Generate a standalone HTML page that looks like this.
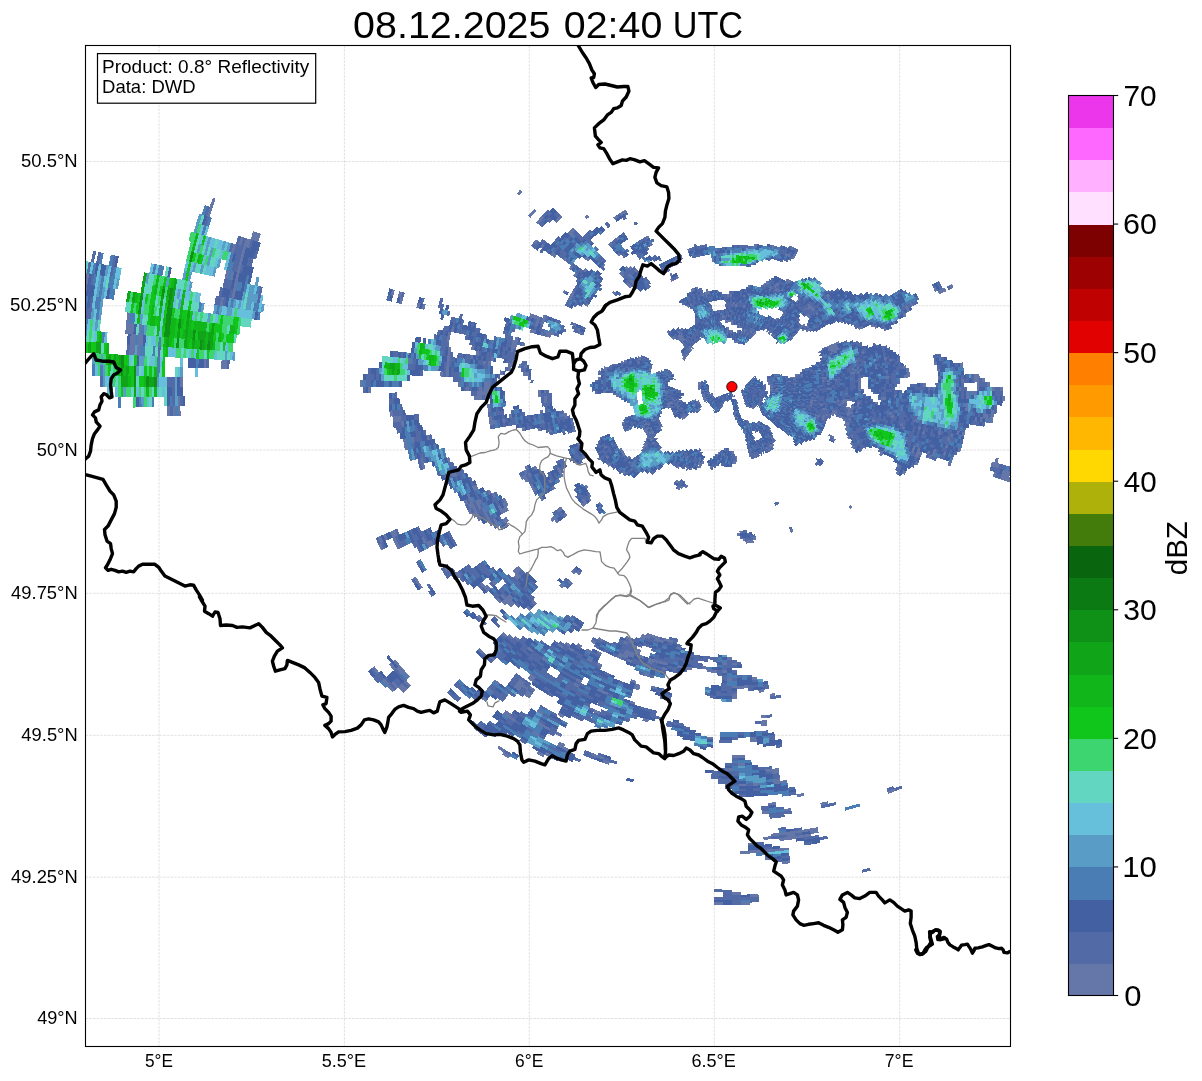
<!DOCTYPE html>
<html><head><meta charset="utf-8"><title>Radar</title>
<style>
html,body{margin:0;padding:0;background:#fff}
body{width:1202px;height:1081px;overflow:hidden}
svg{display:block;will-change:transform;opacity:.999}
text{font-family:"Liberation Sans",sans-serif;fill:#000}
</style></head><body>
<svg width="1202" height="1081" viewBox="0 0 1202 1081">
<rect x="0" y="0" width="1202" height="1081" fill="#fff"/>
<defs><clipPath id="ax"><rect x="85.5" y="45.5" width="925" height="1001"/></clipPath></defs>
<g clip-path="url(#ax)">
<g stroke="#b0b0b0" stroke-opacity="0.55" stroke-width="0.7" stroke-dasharray="2.6,1.1" fill="none">
<line x1="159" y1="45.5" x2="159" y2="1046.5"/>
<line x1="344.4" y1="45.5" x2="344.4" y2="1046.5"/>
<line x1="529.3" y1="45.5" x2="529.3" y2="1046.5"/>
<line x1="714.3" y1="45.5" x2="714.3" y2="1046.5"/>
<line x1="899.7" y1="45.5" x2="899.7" y2="1046.5"/>
<line x1="85.5" y1="161.5" x2="1010.5" y2="161.5"/>
<line x1="85.5" y1="305.8" x2="1010.5" y2="305.8"/>
<line x1="85.5" y1="450" x2="1010.5" y2="450"/>
<line x1="85.5" y1="593.3" x2="1010.5" y2="593.3"/>
<line x1="85.5" y1="735.3" x2="1010.5" y2="735.3"/>
<line x1="85.5" y1="877.2" x2="1010.5" y2="877.2"/>
<line x1="85.5" y1="1018.5" x2="1010.5" y2="1018.5"/>
</g>
<g id="echo" shape-rendering="crispEdges">
<g transform="translate(731.9,386.7)" fill="none" stroke-width="2.98">
<g transform="rotate(203)">
<circle pathLength="360" r="6.45" stroke="#526AA5" stroke-dasharray="5 1 5 1 4 2 2 1 2 1 1 5 1 329" stroke-dashoffset="-242"/>
<circle pathLength="360" r="6.45" stroke="#4360A3" stroke-dasharray="1 5 1 4 2 5 1 1 2 2 1 335" stroke-dashoffset="-247"/>
<circle pathLength="360" r="6.45" stroke="#6577A8" stroke-dasharray="1 7 1 351" stroke-dashoffset="-262"/>
<circle pathLength="360" r="6.45" stroke="#4B7DB5" stroke-dasharray="1 359" stroke-dashoffset="-269"/>
<circle pathLength="360" r="9.03" stroke="#526AA5" stroke-dasharray="4 3 1 3 3 4 2 1 2 10 1 5 1 2 1 2 1 6 2 3 1 302" stroke-dashoffset="-230"/>
<circle pathLength="360" r="9.03" stroke="#4360A3" stroke-dasharray="3 3 4 2 1 2 4 1 5 1 4 2 2 1 2 1 2 2 2 2 1 1 1 311" stroke-dashoffset="-238"/>
<circle pathLength="360" r="9.03" stroke="#4B7DB5" stroke-dasharray="1 10 1 9 1 338" stroke-dashoffset="-257"/>
<circle pathLength="360" r="9.03" stroke="#6577A8" stroke-dasharray="1 5 1 353" stroke-dashoffset="-279"/>
<circle pathLength="360" r="11.61" stroke="#6577A8" stroke-dasharray="1 119 1 239" stroke-dashoffset="-171"/>
<circle pathLength="360" r="11.61" stroke="#526AA5" stroke-dasharray="1 1 2 1 8 2 2 1 1 54 1 15 2 5 1 7 1 9 1 2 1 3 2 237" stroke-dashoffset="-172"/>
<circle pathLength="360" r="11.61" stroke="#4B7DB5" stroke-dasharray="1 76 3 2 1 15 1 1 2 3 2 253" stroke-dashoffset="-173"/>
<circle pathLength="360" r="11.61" stroke="#4360A3" stroke-dasharray="1 8 2 2 1 54 1 1 4 3 2 1 5 2 5 1 2 1 1 2 1 1 1 2 6 1 2 1 1 1 1 243" stroke-dashoffset="-176"/>
<circle pathLength="360" r="14.19" stroke="#526AA5" stroke-dasharray="1 2 3 1 6 4 1 7 2 13 1 1 1 4 4 29 1 1 2 1 1 7 1 3 2 13 1 2 2 1 3 1 4 4 3 1 4 1 2 3 4 2 1 209" stroke-dashoffset="-148"/>
<circle pathLength="360" r="14.19" stroke="#4360A3" stroke-dasharray="1 4 1 6 2 3 3 1 1 4 4 1 3 1 1 1 1 4 2 39 1 1 7 1 3 2 2 13 1 2 1 3 1 4 4 3 1 7 3 4 1 212" stroke-dashoffset="-149"/>
<circle pathLength="360" r="14.19" stroke="#6577A8" stroke-dasharray="1 42 2 34 1 31 1 24 1 10 1 212" stroke-dashoffset="-150"/>
<circle pathLength="360" r="14.19" stroke="#4B7DB5" stroke-dasharray="2 4 1 1 2 6 1 3 1 1 1 1 1 1 1 333" stroke-dashoffset="-163"/>
<circle pathLength="360" r="16.77" stroke="#526AA5" stroke-dasharray="2 8 1 2 1 2 1 1 1 5 1 1 1 1 1 1 2 5 1 1 1 1 3 3 1 1 1 1 1 2 5 1 1 26 2 5 1 1 1 1 1 1 2 1 1 1 1 27 3 2 2 1 1 2 2 2 1 2 2 4 1 202" stroke-dashoffset="-142"/>
<circle pathLength="360" r="16.77" stroke="#4360A3" stroke-dasharray="1 1 4 3 2 2 1 1 1 1 2 2 1 1 1 3 1 2 5 1 1 5 1 1 1 1 1 1 1 1 2 31 1 4 3 4 1 1 1 2 1 1 1 31 2 4 1 3 2 1 2 211" stroke-dashoffset="-144"/>
<circle pathLength="360" r="16.77" stroke="#6577A8" stroke-dasharray="1 4 1 12 2 4 1 58 1 44 2 20 4 1 1 204" stroke-dashoffset="-145"/>
<circle pathLength="360" r="16.77" stroke="#4B7DB5" stroke-dasharray="1 4 1 25 1 4 1 13 1 29 1 3 1 1 1 44 1 2 1 225" stroke-dashoffset="-151"/>
<circle pathLength="360" r="19.35" stroke="#4360A3" stroke-dasharray="1 2 1 4 1 1 2 1 1 1 4 3 5 3 1 2 4 1 4 2 6 1 4 1 4 1 1 1 2 2 2 23 8 1 1 1 1 1 2 29 1 5 1 1 8 1 4 1 2 1 4 195" stroke-dashoffset="-138"/>
<circle pathLength="360" r="19.35" stroke="#526AA5" stroke-dasharray="1 3 2 2 1 4 1 6 1 5 3 1 2 9 1 19 1 2 1 38 1 32 1 1 3 1 1 8 1 4 1 2 1 200" stroke-dashoffset="-139"/>
<circle pathLength="360" r="19.35" stroke="#4B7DB5" stroke-dasharray="1 1 1 2 1 4 1 6 2 16 1 5 1 6 1 4 1 4 1 39 1 1 1 259" stroke-dashoffset="-140"/>
<circle pathLength="360" r="19.35" stroke="#6577A8" stroke-dasharray="1 68 1 2 1 287" stroke-dashoffset="-204"/>
<circle pathLength="360" r="21.93" stroke="#4B7DB5" stroke-dasharray="1 1 1 1 1 1 1 3 1 4 1 38 1 4 1 5 1 29 1 264" stroke-dashoffset="-135"/>
<circle pathLength="360" r="21.93" stroke="#4360A3" stroke-dasharray="1 5 2 2 3 2 3 1 4 1 1 1 1 1 1 2 2 1 1 1 1 1 1 1 1 1 4 1 6 1 3 3 1 1 2 2 1 2 1 2 1 23 2 1 1 1 2 3 1 35 1 1 1 2 1 1 2 1 2 1 4 1 1 2 4 193" stroke-dashoffset="-136"/>
<circle pathLength="360" r="21.93" stroke="#526AA5" stroke-dasharray="1 1 1 3 1 4 1 4 1 4 1 1 1 1 1 1 2 2 1 1 1 1 1 1 1 1 1 4 1 10 1 1 1 1 1 3 1 1 2 1 2 21 1 1 1 2 1 1 1 2 3 1 2 28 1 1 3 1 1 1 2 1 1 2 1 2 1 4 1 1 2 4 4 1 4 1 1 1 1 2 1 179" stroke-dashoffset="-138"/>
<circle pathLength="360" r="21.93" stroke="#6577A8" stroke-dasharray="2 61 1 1 1 32 1 4 1 1 1 1 2 251" stroke-dashoffset="-209"/>
<circle pathLength="360" r="24.51" stroke="#526AA5" stroke-dasharray="2 1 2 1 2 11 2 8 7 1 3 1 4 4 1 1 2 2 3 5 1 2 1 2 1 1 2 3 3 21 1 5 1 2 1 32 1 2 4 4 3 1 2 1 1 6 2 1 3 1 3 2 8 3 2 2 6 3 1 2 1 1 1 151" stroke-dashoffset="-132"/>
<circle pathLength="360" r="24.51" stroke="#4360A3" stroke-dasharray="1 2 3 1 1 3 3 2 1 1 5 8 1 3 1 4 1 2 1 1 1 2 1 4 1 1 3 1 2 1 2 1 1 2 2 24 1 1 1 1 1 1 1 2 1 34 2 4 4 3 1 2 1 2 1 6 1 7 2 8 1 4 2 6 3 1 2 1 1 1 1 155" stroke-dashoffset="-137"/>
<circle pathLength="360" r="24.51" stroke="#4B7DB5" stroke-dasharray="1 1 3 38 1 4 1 42 1 1 1 2 1 53 1 1 4 6 1 197" stroke-dashoffset="-143"/>
<circle pathLength="360" r="24.51" stroke="#6577A8" stroke-dasharray="1 5 1 17 2 27 1 34 1 77 2 192" stroke-dashoffset="-154"/>
<circle pathLength="360" r="27.09" stroke="#4B7DB5" stroke-dasharray="1 1 1 1 2 2 2 1 1 1 1 1 3 2 1 19 1 1 1 5 2 1 1 3 1 35 1 1 2 1 2 39 1 1 1 1 3 3 1 6 1 8 1 3 1 3 1 11 1 2 1 3 1 2 2 2 1 1 1 2 2 1 1 154" stroke-dashoffset="-142"/>
<circle pathLength="360" r="27.09" stroke="#526AA5" stroke-dasharray="1 20 1 2 1 4 1 3 3 17 1 1 2 1 1 39 3 38 1 5 1 9 1 1 2 1 1 3 2 5 1 2 2 2 1 2 1 5 1 17 1 154" stroke-dashoffset="-143"/>
<circle pathLength="360" r="27.09" stroke="#4360A3" stroke-dasharray="1 2 1 3 1 1 1 1 1 3 2 1 1 1 2 1 4 1 3 3 3 1 1 1 5 2 1 1 2 4 1 1 2 2 1 24 2 1 1 2 1 2 1 33 3 1 1 1 1 5 2 2 4 1 1 1 1 1 1 2 1 1 1 1 1 3 3 2 2 2 2 1 2 2 2 1 1 1 1 1 2 2 2 1 1 1 2 2 1 158" stroke-dashoffset="-145"/>
<circle pathLength="360" r="27.09" stroke="#599DC7" stroke-dasharray="1 127 1 231" stroke-dashoffset="-149"/>
<circle pathLength="360" r="27.09" stroke="#6577A8" stroke-dasharray="2 88 1 54 1 214" stroke-dashoffset="-204"/>
<circle pathLength="360" r="29.67" stroke="#4B7DB5" stroke-dasharray="1 1 1 188 1 1 1 166" stroke-dashoffset="-147"/>
<circle pathLength="360" r="29.67" stroke="#4360A3" stroke-dasharray="1 1 12 1 1 12 2 4 1 1 1 1 4 1 2 39 1 1 4 1 1 38 1 2 2 42 1 5 1 1 5 1 1 2 1 2 1 162" stroke-dashoffset="-148"/>
<circle pathLength="360" r="29.67" stroke="#526AA5" stroke-dasharray="1 1 1 1 10 2 4 1 1 1 1 4 1 2 4 1 2 30 2 1 1 4 1 38 1 1 2 24 1 11 1 4 3 1 3 1 1 1 1 8 1 1 2 1 1 175" stroke-dashoffset="-162"/>
<circle pathLength="360" r="29.67" stroke="#6577A8" stroke-dasharray="1 31 1 2 4 36 2 42 1 22 10 1 4 7 1 195" stroke-dashoffset="-165"/>
<circle pathLength="360" r="32.25" stroke="#6577A8" stroke-dasharray="1 25 1 9 1 46 1 95 1 2 1 3 7 167" stroke-dashoffset="-153"/>
<circle pathLength="360" r="32.25" stroke="#526AA5" stroke-dasharray="5 1 2 1 1 1 3 1 3 1 3 2 1 1 2 1 4 1 1 1 3 1 1 35 1 6 4 92 2 1 3 175" stroke-dashoffset="-154"/>
<circle pathLength="360" r="32.25" stroke="#4360A3" stroke-dasharray="1 2 1 1 1 3 1 3 1 3 2 4 1 4 1 43 5 283" stroke-dashoffset="-159"/>
<circle pathLength="360" r="34.83" stroke="#526AA5" stroke-dasharray="1 1 2 2 1 1 1 1 1 14 1 37 1 9 2 285" stroke-dashoffset="-164"/>
<circle pathLength="360" r="34.83" stroke="#4360A3" stroke-dasharray="1 2 2 1 1 1 1 4 1 5 5 1 1 1 1 36 4 1 2 289" stroke-dashoffset="-165"/>
<circle pathLength="360" r="34.83" stroke="#4B7DB5" stroke-dasharray="1 41 1 2 1 314" stroke-dashoffset="-191"/>
<circle pathLength="360" r="34.83" stroke="#6577A8" stroke-dasharray="2 358" stroke-dashoffset="-193"/>
<circle pathLength="360" r="37.41" stroke="#526AA5" stroke-dasharray="1 1 3 1 1 25 1 21 2 29 2 1 1 5 2 68 6 3 1 186" stroke-dashoffset="-141"/>
<circle pathLength="360" r="37.41" stroke="#4360A3" stroke-dasharray="1 29 1 17 5 29 2 2 1 1 2 1 1 3 1 264" stroke-dashoffset="-142"/>
<circle pathLength="360" r="37.41" stroke="#6577A8" stroke-dasharray="1 1 6 68 2 79 2 6 3 192" stroke-dashoffset="-146"/>
<circle pathLength="360" r="37.41" stroke="#599DC7" stroke-dasharray="1 2 1 1 3 2 1 3 1 345" stroke-dashoffset="-174"/>
<circle pathLength="360" r="37.41" stroke="#4B7DB5" stroke-dasharray="2 5 2 1 3 1 1 42 1 1 1 300" stroke-dashoffset="-175"/>
<circle pathLength="360" r="37.41" stroke="#67C0DB" stroke-dasharray="1 359" stroke-dashoffset="-178"/>
<circle pathLength="360" r="39.99" stroke="#4360A3" stroke-dasharray="1 1 1 10 1 10 1 2 3 21 2 1 2 26 1 2 3 1 2 1 3 68 1 1 2 1 1 4 1 186" stroke-dashoffset="-141"/>
<circle pathLength="360" r="39.99" stroke="#526AA5" stroke-dasharray="1 1 9 2 1 3 2 2 2 1 2 29 2 22 2 1 2 3 1 70 1 4 1 2 1 1 4 1 1 186" stroke-dashoffset="-142"/>
<circle pathLength="360" r="39.99" stroke="#6577A8" stroke-dasharray="1 2 3 2 2 138 3 12 2 195" stroke-dashoffset="-153"/>
<circle pathLength="360" r="39.99" stroke="#4B7DB5" stroke-dasharray="3 10 1 1 1 3 2 2 1 37 1 298" stroke-dashoffset="-171"/>
<circle pathLength="360" r="39.99" stroke="#67C0DB" stroke-dasharray="1 2 4 1 2 1 1 2 1 345" stroke-dashoffset="-174"/>
<circle pathLength="360" r="39.99" stroke="#599DC7" stroke-dasharray="1 5 1 5 1 1 1 345" stroke-dashoffset="-175"/>
<circle pathLength="360" r="39.99" stroke="#63D6C2" stroke-dasharray="1 359" stroke-dashoffset="-176"/>
<circle pathLength="360" r="42.57" stroke="#526AA5" stroke-dasharray="1 3 1 10 3 2 1 55 1 9 1 73 1 199" stroke-dashoffset="-140"/>
<circle pathLength="360" r="42.57" stroke="#4360A3" stroke-dasharray="3 2 1 3 5 3 2 1 2 1 1 2 1 28 1 1 2 14 1 2 1 1 1 2 1 8 2 68 1 3 1 1 1 5 1 3 1 183" stroke-dashoffset="-141"/>
<circle pathLength="360" r="42.57" stroke="#4B7DB5" stroke-dasharray="1 1 3 13 1 1 1 2 1 22 5 1 1 17 1 2 1 1 1 2 3 1 2 1 1 2 1 68 3 1 1 1 2 2 1 1 3 188" stroke-dashoffset="-145"/>
<circle pathLength="360" r="42.57" stroke="#599DC7" stroke-dasharray="1 2 1 51 1 7 1 4 1 75 2 214" stroke-dashoffset="-166"/>
<circle pathLength="360" r="42.57" stroke="#67C0DB" stroke-dasharray="2 3 1 1 1 4 1 6 1 340" stroke-dashoffset="-170"/>
<circle pathLength="360" r="42.57" stroke="#63D6C2" stroke-dasharray="3 1 1 1 1 1 2 1 1 1 4 1 1 341" stroke-dashoffset="-172"/>
<circle pathLength="360" r="42.57" stroke="#3DD56F" stroke-dasharray="1 4 1 354" stroke-dashoffset="-179"/>
<circle pathLength="360" r="45.15" stroke="#599DC7" stroke-dasharray="3 110 2 5 1 3 1 7 2 226" stroke-dashoffset="-55"/>
<circle pathLength="360" r="45.15" stroke="#67C0DB" stroke-dasharray="1 111 5 3 1 1 2 1 1 1 2 231" stroke-dashoffset="-58"/>
<circle pathLength="360" r="45.15" stroke="#4B7DB5" stroke-dasharray="1 18 1 73 1 14 1 53 1 86 1 110" stroke-dashoffset="-59"/>
<circle pathLength="360" r="45.15" stroke="#6577A8" stroke-dasharray="3 1 1 67 1 16 2 1 1 48 2 11 1 77 1 127" stroke-dashoffset="-70"/>
<circle pathLength="360" r="45.15" stroke="#526AA5" stroke-dasharray="1 1 2 2 1 2 2 57 1 1 3 2 1 1 1 2 1 1 1 1 1 3 1 1 1 26 2 4 1 1 1 9 3 4 2 1 1 1 1 4 1 2 5 70 4 8 1 117" stroke-dashoffset="-73"/>
<circle pathLength="360" r="45.15" stroke="#4360A3" stroke-dasharray="1 2 2 64 2 1 1 1 1 2 1 1 1 1 1 5 3 22 1 2 4 1 1 15 2 2 1 1 1 2 2 2 2 79 1 1 6 1 1 120" stroke-dashoffset="-77"/>
<circle pathLength="360" r="45.15" stroke="#63D6C2" stroke-dasharray="2 4 1 1 1 351" stroke-dashoffset="-176"/>
<circle pathLength="360" r="47.73" stroke="#67C0DB" stroke-dasharray="1 17 1 18 1 89 1 1 1 2 2 8 1 1 2 7 1 206" stroke-dashoffset="-42"/>
<circle pathLength="360" r="47.73" stroke="#3DD56F" stroke-dasharray="1 1 1 1 3 3 2 2 1 115 1 5 1 223" stroke-dashoffset="-43"/>
<circle pathLength="360" r="47.73" stroke="#63D6C2" stroke-dasharray="1 3 3 2 2 1 2 108 1 1 1 1 1 3 1 1 1 1 4 1 1 220" stroke-dashoffset="-46"/>
<circle pathLength="360" r="47.73" stroke="#526AA5" stroke-dasharray="1 3 1 147 1 12 1 194" stroke-dashoffset="-67"/>
<circle pathLength="360" r="47.73" stroke="#4360A3" stroke-dasharray="3 1 1 2 1 68 1 6 1 2 1 2 2 1 2 32 1 2 2 8 3 2 2 2 3 1 2 1 1 2 3 75 3 7 2 112" stroke-dashoffset="-68"/>
<circle pathLength="360" r="47.73" stroke="#4B7DB5" stroke-dasharray="1 4 1 2 1 1 1 1 1 56 2 5 2 1 2 1 2 2 1 2 1 1 1 26 3 2 1 13 2 2 2 6 1 1 2 3 3 76 2 1 2 120" stroke-dashoffset="-73"/>
<circle pathLength="360" r="47.73" stroke="#599DC7" stroke-dasharray="1 1 2 2 1 1 1 1 1 60 4 14 1 1 3 9 1 10 3 116 1 2 1 2 1 120" stroke-dashoffset="-74"/>
<circle pathLength="360" r="50.31" stroke="#599DC7" stroke-dasharray="1 21 2 21 1 73 1 8 2 1 1 1 8 1 1 2 1 1 2 1 1 209" stroke-dashoffset="-37"/>
<circle pathLength="360" r="50.31" stroke="#63D6C2" stroke-dasharray="1 1 4 5 1 3 3 1 1 122 1 217" stroke-dashoffset="-38"/>
<circle pathLength="360" r="50.31" stroke="#67C0DB" stroke-dasharray="1 16 1 1 1 108 1 10 1 2 1 1 1 2 1 212" stroke-dashoffset="-39"/>
<circle pathLength="360" r="50.31" stroke="#11C61B" stroke-dasharray="1 6 2 351" stroke-dashoffset="-44"/>
<circle pathLength="360" r="50.31" stroke="#3DD56F" stroke-dasharray="4 1 1 354" stroke-dashoffset="-45"/>
<circle pathLength="360" r="50.31" stroke="#4360A3" stroke-dasharray="1 1 3 1 1 1 2 1 3 2 1 5 1 1 2 65 1 1 2 2 2 4 1 23 3 5 1 1 1 8 1 2 4 2 2 5 1 1 2 1 3 80 7 9 3 91" stroke-dashoffset="-61"/>
<circle pathLength="360" r="50.31" stroke="#526AA5" stroke-dasharray="1 3 1 1 1 2 1 4 1 66 1 51 1 1 1 8 1 7 2 3 1 4 1 2 1 80 1 9 1 103" stroke-dashoffset="-62"/>
<circle pathLength="360" r="50.31" stroke="#4B7DB5" stroke-dasharray="1 2 4 2 1 59 8 1 1 3 1 2 4 5 1 21 4 13 2 96 2 1 2 15 1 108" stroke-dashoffset="-75"/>
<circle pathLength="360" r="50.31" stroke="#6577A8" stroke-dasharray="1 12 1 346" stroke-dashoffset="-218"/>
<circle pathLength="360" r="52.89" stroke="#599DC7" stroke-dasharray="2 18 3 118 1 5 1 212" stroke-dashoffset="-37"/>
<circle pathLength="360" r="52.89" stroke="#67C0DB" stroke-dasharray="1 16 1 126 1 215" stroke-dashoffset="-39"/>
<circle pathLength="360" r="52.89" stroke="#63D6C2" stroke-dasharray="3 4 1 4 4 344" stroke-dashoffset="-40"/>
<circle pathLength="360" r="52.89" stroke="#3DD56F" stroke-dasharray="3 2 4 351" stroke-dashoffset="-43"/>
<circle pathLength="360" r="52.89" stroke="#11C61B" stroke-dasharray="1 359" stroke-dashoffset="-46"/>
<circle pathLength="360" r="52.89" stroke="#4360A3" stroke-dasharray="1 2 2 1 2 2 1 1 2 1 1 2 1 1 1 3 2 60 1 1 7 2 1 1 1 1 4 1 2 2 2 3 1 1 1 8 2 1 2 1 6 7 2 3 2 1 2 9 4 1 2 75 3 2 4 1 2 1 1 4 2 2 2 90" stroke-dashoffset="-60"/>
<circle pathLength="360" r="52.89" stroke="#4B7DB5" stroke-dasharray="1 93 1 2 1 1 1 4 1 2 2 2 3 1 1 2 4 2 1 2 1 20 1 18 1 192" stroke-dashoffset="-61"/>
<circle pathLength="360" r="52.89" stroke="#6577A8" stroke-dasharray="1 141 1 26 1 88 1 11 1 89" stroke-dashoffset="-62"/>
<circle pathLength="360" r="52.89" stroke="#526AA5" stroke-dasharray="1 2 2 1 1 2 1 1 2 1 1 1 3 2 3 56 1 1 1 8 1 34 1 6 1 8 2 3 1 2 1 88 2 3 2 4 1 2 1 2 1 4 2 2 2 93" stroke-dashoffset="-65"/>
<circle pathLength="360" r="55.47" stroke="#6577A8" stroke-dasharray="4 1 2 4 3 1 1 40 1 2 2 5 1 3 2 2 1 2 1 5 1 71 1 36 1 5 1 18 1 8 1 70 2 1 1 6 1 7 1 12 1 31" stroke-dashoffset="-6"/>
<circle pathLength="360" r="55.47" stroke="#526AA5" stroke-dasharray="1 2 4 43 2 1 2 2 1 5 2 3 2 2 1 1 5 57 4 1 4 2 1 2 1 13 1 2 1 2 1 3 1 2 2 1 2 2 1 10 1 1 1 4 1 1 2 10 1 1 2 75 1 1 5 2 1 1 3 3 3 5 2 1 1 36" stroke-dashoffset="-10"/>
<circle pathLength="360" r="55.47" stroke="#4B7DB5" stroke-dasharray="3 128 4 1 1 2 1 19 1 200" stroke-dashoffset="-37"/>
<circle pathLength="360" r="55.47" stroke="#67C0DB" stroke-dasharray="1 11 1 4 1 342" stroke-dashoffset="-40"/>
<circle pathLength="360" r="55.47" stroke="#63D6C2" stroke-dasharray="11 1 1 347" stroke-dashoffset="-41"/>
<circle pathLength="360" r="55.47" stroke="#599DC7" stroke-dasharray="3 1 1 355" stroke-dashoffset="-54"/>
<circle pathLength="360" r="55.47" stroke="#4360A3" stroke-dasharray="1 15 1 5 1 68 1 4 2 1 2 2 6 4 1 2 1 2 2 1 3 1 2 2 1 2 2 1 1 1 1 8 1 1 4 1 1 10 2 1 1 2 2 80 1 2 1 3 2 4 5 2 1 86" stroke-dashoffset="-59"/>
<circle pathLength="360" r="58.05" stroke="#6577A8" stroke-dasharray="1 7 1 1 2 12 1 1 1 26 2 15 2 4 2 2 2 60 1 53 1 23 1 73 3 10 1 2 1 3 1 45" stroke-dashoffset="-9"/>
<circle pathLength="360" r="58.05" stroke="#526AA5" stroke-dasharray="7 4 2 1 7 1 1 3 1 40 2 2 4 2 2 61 1 1 1 2 2 2 1 3 1 16 1 1 1 2 1 3 2 5 1 1 1 7 2 2 1 13 2 5 1 74 3 3 4 1 2 1 2 3 1 3 1 4 2 8 1 25" stroke-dashoffset="-10"/>
<circle pathLength="360" r="58.05" stroke="#4360A3" stroke-dasharray="1 4 1 7 1 6 1 20 3 86 2 3 2 2 2 1 2 2 2 4 1 1 2 1 2 1 1 4 2 2 2 2 5 1 1 10 2 1 5 10 1 1 1 80 3 10 1 1 1 1 3 1 3 45" stroke-dashoffset="-18"/>
<circle pathLength="360" r="58.05" stroke="#4B7DB5" stroke-dasharray="1 15 1 1 4 103 1 3 4 1 1 2 1 2 1 1 1 1 1 4 1 40 1 2 1 102 1 63" stroke-dashoffset="-37"/>
<circle pathLength="360" r="58.05" stroke="#67C0DB" stroke-dasharray="1 1 1 3 1 1 4 348" stroke-dashoffset="-39"/>
<circle pathLength="360" r="58.05" stroke="#599DC7" stroke-dasharray="1 1 2 8 1 1 1 345" stroke-dashoffset="-40"/>
<circle pathLength="360" r="58.05" stroke="#63D6C2" stroke-dasharray="1 1 1 4 1 352" stroke-dashoffset="-44"/>
<circle pathLength="360" r="60.63" stroke="#526AA5" stroke-dasharray="1 2 1 1 2 1 1 2 4 2 3 2 1 1 1 19 1 1 1 14 2 1 3 1 1 1 1 1 2 1 1 1 3 58 1 3 1 3 3 25 1 20 1 2 1 3 1 4 3 1 1 9 1 72 2 3 1 2 1 3 2 1 4 1 2 1 1 1 3 10 1 27" stroke-dashoffset="-11"/>
<circle pathLength="360" r="60.63" stroke="#4360A3" stroke-dasharray="2 1 1 2 1 1 2 4 2 3 2 1 1 1 2 11 1 6 1 1 2 18 1 1 1 1 1 67 3 1 3 3 5 2 1 5 2 1 6 1 2 1 3 1 1 3 5 8 2 2 1 2 2 1 1 3 1 2 6 1 1 75 3 1 1 2 3 2 1 7 1 1 1 4 3 7 1 1 2 24" stroke-dashoffset="-12"/>
<circle pathLength="360" r="60.63" stroke="#4B7DB5" stroke-dasharray="1 4 1 7 4 30 1 1 1 77 2 1 2 1 2 2 1 6 1 6 1 1 3 16 1 1 1 3 1 13 1 81 1 20 1 11 1 52" stroke-dashoffset="-38"/>
<circle pathLength="360" r="60.63" stroke="#67C0DB" stroke-dasharray="2 1 1 1 3 352" stroke-dashoffset="-39"/>
<circle pathLength="360" r="60.63" stroke="#599DC7" stroke-dasharray="1 5 2 1 1 119 1 230" stroke-dashoffset="-41"/>
<circle pathLength="360" r="60.63" stroke="#6577A8" stroke-dasharray="1 73 1 74 1 100 1 23 1 85" stroke-dashoffset="-74"/>
<circle pathLength="360" r="63.21" stroke="#6577A8" stroke-dasharray="1 48 2 80 1 1 1 3 1 7 1 14 1 2 1 137 1 2 2 54" stroke-dashoffset="-17"/>
<circle pathLength="360" r="63.21" stroke="#526AA5" stroke-dasharray="2 1 4 1 9 1 1 13 1 6 1 10 1 1 1 1 1 2 1 1 1 2 2 1 1 2 2 4 2 18 1 36 1 1 3 1 2 2 2 7 1 10 1 16 1 10 5 6 1 1 1 1 2 1 1 2 1 1 3 17 1 2 1 54 1 1 5 2 1 2 1 2 1 1 1 1 2 1 5 2 1 4 1 1 1 1 5 27" stroke-dashoffset="-18"/>
<circle pathLength="360" r="63.21" stroke="#4360A3" stroke-dasharray="1 4 1 9 1 9 2 2 1 3 3 13 1 1 1 2 1 1 1 1 2 2 1 1 2 2 4 65 1 3 1 1 5 2 7 1 1 2 11 2 2 1 1 14 6 1 1 1 1 2 1 1 1 2 1 21 1 57 1 5 2 2 1 4 1 1 1 2 1 5 2 4 1 1 1 36" stroke-dashoffset="-20"/>
<circle pathLength="360" r="63.21" stroke="#4B7DB5" stroke-dasharray="1 1 2 1 3 2 2 2 2 3 1 16 1 84 1 10 1 22 2 33 1 24 1 92 1 51" stroke-dashoffset="-37"/>
<circle pathLength="360" r="63.21" stroke="#599DC7" stroke-dasharray="1 359" stroke-dashoffset="-38"/>
<circle pathLength="360" r="63.21" stroke="#67C0DB" stroke-dasharray="1 359" stroke-dashoffset="-41"/>
<circle pathLength="360" r="65.79" stroke="#6577A8" stroke-dasharray="2 2 1 38 4 1 2 31 1 1 1 2 1 1 1 39 2 61 1 9 1 10 1 14 2 72 4 9 1 17 1 27" stroke-dashoffset="-18"/>
<circle pathLength="360" r="65.79" stroke="#4360A3" stroke-dasharray="1 6 2 3 1 4 4 1 3 3 1 1 1 1 1 1 1 14 1 1 1 1 1 1 2 1 1 5 1 2 1 1 3 1 2 12 1 1 1 40 1 2 1 1 2 1 4 1 5 1 2 1 2 2 4 1 1 3 7 2 1 2 1 12 3 1 2 4 2 27 1 1 4 68 1 2 1 7 2 1 2 2 1 3 1 3 1 30" stroke-dashoffset="-20"/>
<circle pathLength="360" r="65.79" stroke="#526AA5" stroke-dasharray="1 1 4 2 1 1 1 1 4 4 1 3 3 5 1 1 2 8 1 2 1 1 1 1 1 1 1 4 1 1 3 1 2 8 2 5 1 2 1 2 1 39 2 1 2 1 1 7 1 5 1 2 1 11 1 8 1 2 2 11 1 4 1 2 3 3 4 1 3 1 2 14 2 1 1 4 2 61 1 5 2 1 4 2 1 2 1 2 2 1 1 1 1 2 1 3 1 29" stroke-dashoffset="-21"/>
<circle pathLength="360" r="65.79" stroke="#4B7DB5" stroke-dasharray="1 18 1 1 1 25 1 2 1 7 1 3 1 17 2 45 1 16 2 4 1 1 1 1 1 8 1 32 1 104 1 11 1 2 1 1 1 41" stroke-dashoffset="-30"/>
<circle pathLength="360" r="65.79" stroke="#599DC7" stroke-dasharray="1 1 1 357" stroke-dashoffset="-112"/>
<circle pathLength="360" r="65.79" stroke="#63D6C2" stroke-dasharray="1 359" stroke-dashoffset="-113"/>
<circle pathLength="360" r="65.79" stroke="#67C0DB" stroke-dasharray="1 359" stroke-dashoffset="-115"/>
<circle pathLength="360" r="68.37" stroke="#526AA5" stroke-dasharray="1 3 1 4 1 10 1 4 2 5 1 5 5 4 2 29 2 2 4 2 1 40 3 4 1 11 1 3 1 37 4 1 3 12 1 1 3 11 3 4 1 2 1 2 1 62 1 1 1 16 1 8 1 1 2 26" stroke-dashoffset="-18"/>
<circle pathLength="360" r="68.37" stroke="#6577A8" stroke-dasharray="3 39 1 11 1 72 1 111 1 60 1 59" stroke-dashoffset="-19"/>
<circle pathLength="360" r="68.37" stroke="#4360A3" stroke-dasharray="2 1 1 4 2 2 3 1 4 4 2 4 3 6 3 2 2 1 2 2 5 14 3 2 2 4 2 1 2 41 4 2 3 1 1 1 3 4 1 1 1 1 2 12 1 1 3 1 1 1 1 1 1 14 1 3 3 1 1 1 6 1 1 18 3 1 1 3 1 64 1 1 3 1 2 1 2 2 1 5 1 1 3 1 1 36" stroke-dashoffset="-23"/>
<circle pathLength="360" r="68.37" stroke="#4B7DB5" stroke-dasharray="1 2 3 2 2 10 2 4 2 16 1 2 1 6 7 1 5 63 1 3 1 5 1 1 2 3 1 2 1 5 1 1 4 1 1 5 1 1 1 22 1 1 1 25 1 5 1 1 1 70 1 2 1 2 1 2 4 2 1 3 1 1 1 1 1 35" stroke-dashoffset="-25"/>
<circle pathLength="360" r="68.37" stroke="#599DC7" stroke-dasharray="1 36 1 5 1 16 1 7 1 43 1 16 1 1 1 1 1 9 1 140 1 75" stroke-dashoffset="-49"/>
<circle pathLength="360" r="68.37" stroke="#67C0DB" stroke-dasharray="1 65 2 1 1 290" stroke-dashoffset="-110"/>
<circle pathLength="360" r="68.37" stroke="#11C61B" stroke-dasharray="2 358" stroke-dashoffset="-111"/>
<circle pathLength="360" r="68.37" stroke="#3DD56F" stroke-dasharray="1 1 1 357" stroke-dashoffset="-113"/>
<circle pathLength="360" r="68.37" stroke="#63D6C2" stroke-dasharray="1 1 1 357" stroke-dashoffset="-114"/>
<circle pathLength="360" r="70.95" stroke="#526AA5" stroke-dasharray="1 4 1 5 2 3 1 2 1 3 3 4 2 4 1 2 2 2 1 3 2 2 1 2 2 1 1 1 1 18 2 1 5 3 1 37 2 2 1 2 1 6 1 3 1 3 1 1 1 1 2 16 1 4 2 1 1 17 2 1 2 1 3 1 7 12 4 3 2 2 1 2 3 12 1 47 1 56" stroke-dashoffset="-18"/>
<circle pathLength="360" r="70.95" stroke="#6577A8" stroke-dasharray="4 22 1 13 2 1 1 1 1 82 2 62 4 2 1 14 1 10 1 30 1 74 1 29" stroke-dashoffset="-19"/>
<circle pathLength="360" r="70.95" stroke="#4360A3" stroke-dasharray="5 3 2 1 2 1 3 3 1 1 2 3 1 1 1 1 2 6 1 3 2 1 2 2 1 1 1 1 1 1 1 4 1 2 1 2 1 2 2 2 1 5 3 1 1 41 2 1 4 1 1 1 3 1 3 1 1 1 1 2 2 10 2 1 1 1 1 1 1 3 1 23 1 3 1 23 2 3 2 1 2 61 2 1 2 2 1 16 4 1 1 35" stroke-dashoffset="-24"/>
<circle pathLength="360" r="70.95" stroke="#4B7DB5" stroke-dasharray="1 18 1 1 1 26 1 1 4 1 1 2 2 1 2 63 1 17 1 8 1 2 1 3 1 1 1 56 1 73 2 1 2 5 2 4 3 4 1 43" stroke-dashoffset="-31"/>
<circle pathLength="360" r="70.95" stroke="#599DC7" stroke-dasharray="1 21 1 7 1 58 1 4 1 1 1 145 5 2 2 1 1 107" stroke-dashoffset="-87"/>
<circle pathLength="360" r="70.95" stroke="#67C0DB" stroke-dasharray="1 66 4 1 1 155 1 131" stroke-dashoffset="-110"/>
<circle pathLength="360" r="70.95" stroke="#63D6C2" stroke-dasharray="1 4 1 354" stroke-dashoffset="-111"/>
<circle pathLength="360" r="70.95" stroke="#11C61B" stroke-dasharray="4 356" stroke-dashoffset="-112"/>
<circle pathLength="360" r="73.53" stroke="#526AA5" stroke-dasharray="3 4 1 2 1 9 4 9 1 8 2 1 3 1 3 1 1 26 1 45 2 7 1 4 1 13 2 1 1 22 1 15 3 1 2 2 1 1 1 1 3 1 3 12 2 4 1 8 1 1 1 9 3 3 1 99" stroke-dashoffset="-17"/>
<circle pathLength="360" r="73.53" stroke="#6577A8" stroke-dasharray="2 1 1 192 1 11 1 14 1 104 1 31" stroke-dashoffset="-20"/>
<circle pathLength="360" r="73.53" stroke="#4360A3" stroke-dasharray="1 2 2 1 1 12 3 1 1 3 1 1 7 3 1 3 1 3 1 1 5 1 2 9 1 1 1 1 1 1 3 1 5 1 6 7 1 27 7 2 2 4 3 1 3 1 2 3 1 14 1 1 3 1 2 23 1 26 1 1 2 2 3 1 3 1 1 14 2 42 1 25 1 1 1 34" stroke-dashoffset="-22"/>
<circle pathLength="360" r="73.53" stroke="#4B7DB5" stroke-dasharray="1 1 3 9 1 17 1 2 1 1 3 1 1 5 1 1 1 9 1 12 1 36 1 2 1 1 2 3 1 3 1 2 1 4 2 12 1 3 1 2 1 50 1 3 1 3 1 18 1 47 1 20 2 1 1 57" stroke-dashoffset="-44"/>
<circle pathLength="360" r="73.53" stroke="#599DC7" stroke-dasharray="1 3 1 1 2 1 1 21 1 65 2 7 2 132 2 5 1 3 1 8 3 97" stroke-dashoffset="-80"/>
<circle pathLength="360" r="73.53" stroke="#67C0DB" stroke-dasharray="1 4 1 63 1 3 3 138 2 2 1 4 1 1 1 134" stroke-dashoffset="-110"/>
<circle pathLength="360" r="73.53" stroke="#63D6C2" stroke-dasharray="3 65 3 140 1 2 1 2 2 1 1 1 1 1 4 132" stroke-dashoffset="-112"/>
<circle pathLength="360" r="76.11" stroke="#6577A8" stroke-dasharray="2 4 1 2 1 31 1 85 1 29 1 70 2 130" stroke-dashoffset="-16"/>
<circle pathLength="360" r="76.11" stroke="#526AA5" stroke-dasharray="2 3 2 1 1 11 3 10 1 2 3 2 2 1 2 1 1 1 1 3 1 2 1 1 1 15 1 3 1 2 2 16 2 25 1 1 1 2 1 13 2 3 1 2 1 74 1 1 1 7 1 17 1 5 1 35 1 30 1 30" stroke-dashoffset="-18"/>
<circle pathLength="360" r="76.11" stroke="#4360A3" stroke-dasharray="2 28 1 2 1 4 1 2 1 2 1 3 3 1 2 1 1 1 1 2 2 2 1 8 1 1 1 1 2 2 2 1 5 6 1 29 1 1 2 1 3 1 1 3 1 2 2 2 1 1 1 1 2 1 1 16 1 1 3 2 1 50 1 2 1 1 4 2 4 1 1 4 6 3 3 100" stroke-dashoffset="-20"/>
<circle pathLength="360" r="76.11" stroke="#4B7DB5" stroke-dasharray="1 1 1 4 1 3 1 13 1 11 2 2 2 1 7 2 1 8 1 5 3 1 2 1 1 36 1 1 3 1 2 5 1 7 2 14 1 3 2 53 1 1 1 5 1 4 1 12 2 40 2 26 2 54" stroke-dashoffset="-41"/>
<circle pathLength="360" r="76.11" stroke="#67C0DB" stroke-dasharray="1 1 2 137 3 133 2 2 1 2 1 15 2 58" stroke-dashoffset="-42"/>
<circle pathLength="360" r="76.11" stroke="#599DC7" stroke-dasharray="2 1 1 62 1 63 2 8 3 132 2 21 1 61" stroke-dashoffset="-46"/>
<circle pathLength="360" r="76.11" stroke="#63D6C2" stroke-dasharray="5 141 2 1 2 4 9 196" stroke-dashoffset="-178"/>
<circle pathLength="360" r="76.11" stroke="#3DD56F" stroke-dasharray="1 359" stroke-dashoffset="-329"/>
<circle pathLength="360" r="76.11" stroke="#11C61B" stroke-dasharray="3 357" stroke-dashoffset="-330"/>
<circle pathLength="360" r="78.69" stroke="#526AA5" stroke-dasharray="1 5 1 1 1 39 2 3 1 28 2 2 1 40 1 22 1 1 1 1 3 75 1 2 1 1 2 2 2 1 1 115" stroke-dashoffset="-16"/>
<circle pathLength="360" r="78.69" stroke="#4360A3" stroke-dasharray="5 1 1 15 2 10 1 11 1 2 3 1 8 1 1 6 1 7 2 1 1 2 2 1 1 1 1 1 2 5 3 28 9 3 1 2 2 2 2 1 1 1 1 3 2 17 1 54 1 1 2 1 1 3 1 2 1 1 4 4 1 2 2 1 1 2 5 31 3 60" stroke-dashoffset="-17"/>
<circle pathLength="360" r="78.69" stroke="#4B7DB5" stroke-dasharray="1 7 2 1 1 25 1 1 2 14 1 7 1 4 1 1 3 30 1 9 3 1 2 2 2 11 1 12 4 1 2 75 2 2 1 1 2 123" stroke-dashoffset="-41"/>
<circle pathLength="360" r="78.69" stroke="#63D6C2" stroke-dasharray="1 4 1 132 1 1 1 1 2 134 1 3 1 1 1 12 1 1 1 1 1 58" stroke-dashoffset="-42"/>
<circle pathLength="360" r="78.69" stroke="#599DC7" stroke-dasharray="1 4 1 33 3 21 1 3 1 65 2 9 1 7 2 120 1 85" stroke-dashoffset="-43"/>
<circle pathLength="360" r="78.69" stroke="#67C0DB" stroke-dasharray="3 38 1 92 2 1 1 1 1 2 1 131 2 1 3 20 3 57" stroke-dashoffset="-44"/>
<circle pathLength="360" r="78.69" stroke="#6577A8" stroke-dasharray="1 150 1 208" stroke-dashoffset="-117"/>
<circle pathLength="360" r="78.69" stroke="#3DD56F" stroke-dasharray="1 1 1 8 1 1 1 1 1 1 1 342" stroke-dashoffset="-325"/>
<circle pathLength="360" r="78.69" stroke="#11C61B" stroke-dasharray="2 1 1 1 1 1 1 1 1 350" stroke-dashoffset="-328"/>
<circle pathLength="360" r="78.69" stroke="#11B71A" stroke-dasharray="1 1 1 1 1 355" stroke-dashoffset="-330"/>
<circle pathLength="360" r="81.27" stroke="#526AA5" stroke-dasharray="1 1 1 2 1 18 1 11 1 9 5 1 1 3 3 1 1 2 2 20 1 1 1 2 2 5 2 1 2 25 1 2 1 11 1 2 2 2 1 5 3 1 2 17 1 63 3 11 3 3 1 1 5 23 1 1 5 61" stroke-dashoffset="-16"/>
<circle pathLength="360" r="81.27" stroke="#4360A3" stroke-dasharray="1 1 2 50 1 5 2 23 1 1 2 2 5 2 1 28 1 2 3 1 7 1 2 2 1 10 1 14 5 1 1 1 1 63 2 6 1 1 1 3 3 1 1 97" stroke-dashoffset="-17"/>
<circle pathLength="360" r="81.27" stroke="#4B7DB5" stroke-dasharray="1 6 3 30 1 1 1 66 1 31 1 3 3 126 1 85" stroke-dashoffset="-41"/>
<circle pathLength="360" r="81.27" stroke="#599DC7" stroke-dasharray="1 2 1 1 1 34 1 97 1 15 1 119 3 2 3 78" stroke-dashoffset="-42"/>
<circle pathLength="360" r="81.27" stroke="#67C0DB" stroke-dasharray="2 1 1 37 1 92 3 1 1 1 3 133 2 3 2 13 4 1 2 57" stroke-dashoffset="-43"/>
<circle pathLength="360" r="81.27" stroke="#6577A8" stroke-dasharray="1 15 1 1 2 4 1 24 1 44 1 18 1 1 5 92 1 3 2 1 1 36 1 1 1 101" stroke-dashoffset="-51"/>
<circle pathLength="360" r="81.27" stroke="#3DD56F" stroke-dasharray="2 358" stroke-dashoffset="-326"/>
<circle pathLength="360" r="81.27" stroke="#63D6C2" stroke-dasharray="1 9 1 4 1 344" stroke-dashoffset="-328"/>
<circle pathLength="360" r="81.27" stroke="#11C61B" stroke-dasharray="2 1 1 356" stroke-dashoffset="-329"/>
<circle pathLength="360" r="81.27" stroke="#11B71A" stroke-dasharray="1 1 2 1 2 353" stroke-dashoffset="-331"/>
<circle pathLength="360" r="81.27" stroke="#0F9118" stroke-dasharray="1 359" stroke-dashoffset="-335"/>
<circle pathLength="360" r="83.85" stroke="#6577A8" stroke-dasharray="1 50 1 40 1 1 1 47 1 2 1 3 1 94 1 6 3 8 1 26 1 6 1 34 2 27" stroke-dashoffset="-17"/>
<circle pathLength="360" r="83.85" stroke="#526AA5" stroke-dasharray="1 21 1 10 2 10 5 2 7 1 1 23 2 1 1 1 1 4 2 3 1 28 2 10 1 1 1 3 2 2 2 1 1 1 1 86 1 11 3 1 1 1 1 1 2 4 1 18 1 1 2 2 1 2 1 35 3 25" stroke-dashoffset="-18"/>
<circle pathLength="360" r="83.85" stroke="#4360A3" stroke-dasharray="1 6 1 1 1 18 1 7 1 1 2 23 1 1 1 1 1 1 1 4 2 25 4 2 1 2 2 2 3 3 1 1 1 3 1 2 1 1 1 1 1 1 1 13 3 1 5 72 1 3 1 1 1 4 1 2 1 23 2 1 1 2 1 31 1 53" stroke-dashoffset="-41"/>
<circle pathLength="360" r="83.85" stroke="#4B7DB5" stroke-dasharray="1 6 1 64 1 34 2 2 2 20 1 12 2 3 1 89 2 31 1 85" stroke-dashoffset="-42"/>
<circle pathLength="360" r="83.85" stroke="#599DC7" stroke-dasharray="3 1 1 33 1 95 3 6 2 129 1 1 1 1 1 1 2 20 2 56" stroke-dashoffset="-43"/>
<circle pathLength="360" r="83.85" stroke="#67C0DB" stroke-dasharray="1 35 1 1 1 1 1 93 2 3 1 132 1 1 1 1 1 19 3 61" stroke-dashoffset="-46"/>
<circle pathLength="360" r="83.85" stroke="#3DD56F" stroke-dasharray="1 99 1 143 1 1 1 7 2 104" stroke-dashoffset="-83"/>
<circle pathLength="360" r="83.85" stroke="#63D6C2" stroke-dasharray="1 1 1 94 1 1 1 140 2 12 3 103" stroke-dashoffset="-85"/>
<circle pathLength="360" r="83.85" stroke="#11C61B" stroke-dasharray="1 2 1 1 1 354" stroke-dashoffset="-328"/>
<circle pathLength="360" r="83.85" stroke="#11B71A" stroke-dasharray="1 1 1 1 3 353" stroke-dashoffset="-330"/>
<circle pathLength="360" r="86.43" stroke="#4360A3" stroke-dasharray="1 8 1 14 2 1 2 1 2 2 2 1 2 24 1 1 6 2 2 28 3 9 1 2 2 5 1 1 1 2 1 2 2 1 1 14 1 1 2 3 2 73 3 1 1 2 1 1 1 3 1 18 2 1 1 1 3 35 3 1 2 46" stroke-dashoffset="-40"/>
<circle pathLength="360" r="86.43" stroke="#4B7DB5" stroke-dasharray="2 4 1 2 1 21 1 3 1 27 1 6 2 29 1 3 9 2 1 5 1 13 1 11 2 1 1 2 3 74 1 3 1 1 2 1 1 1 3 21 1 1 1 3 2 31 2 3 1 2 1 46" stroke-dashoffset="-41"/>
<circle pathLength="360" r="86.43" stroke="#599DC7" stroke-dasharray="4 1 1 30 1 98 1 8 2 126 2 86" stroke-dashoffset="-43"/>
<circle pathLength="360" r="86.43" stroke="#526AA5" stroke-dasharray="1 10 2 2 1 2 1 3 1 28 1 12 2 39 1 3 3 1 1 1 1 1 2 1 2 2 1 94 2 15 1 123" stroke-dashoffset="-51"/>
<circle pathLength="360" r="86.43" stroke="#63D6C2" stroke-dasharray="2 8 2 87 1 6 1 131 1 1 1 2 2 14 1 1 2 1 2 94" stroke-dashoffset="-80"/>
<circle pathLength="360" r="86.43" stroke="#3DD56F" stroke-dasharray="2 4 2 90 2 3 1 133 1 2 1 2 1 1 2 113" stroke-dashoffset="-82"/>
<circle pathLength="360" r="86.43" stroke="#11C61B" stroke-dasharray="4 94 3 144 2 3 1 1 2 106" stroke-dashoffset="-84"/>
<circle pathLength="360" r="86.43" stroke="#6577A8" stroke-dasharray="2 358" stroke-dashoffset="-268"/>
<circle pathLength="360" r="86.43" stroke="#67C0DB" stroke-dasharray="1 3 1 4 1 11 1 1 1 2 1 333" stroke-dashoffset="-317"/>
<circle pathLength="360" r="86.43" stroke="#11B71A" stroke-dasharray="1 1 1 1 1 355" stroke-dashoffset="-331"/>
<circle pathLength="360" r="86.43" stroke="#10A519" stroke-dasharray="1 359" stroke-dashoffset="-332"/>
<circle pathLength="360" r="89.01" stroke="#526AA5" stroke-dasharray="2 3 1 1 1 5 2 8 3 1 1 1 1 1 1 4 1 27 1 7 1 3 1 35 1 6 2 3 3 1 2 1 1 1 2 2 1 18 1 74 1 1 1 81 1 44" stroke-dashoffset="-39"/>
<circle pathLength="360" r="89.01" stroke="#4B7DB5" stroke-dasharray="1 7 1 9 1 17 1 27 1 3 2 32 1 1 1 2 1 7 1 31 2 2 1 84 1 2 3 2 3 59 1 1 4 48" stroke-dashoffset="-41"/>
<circle pathLength="360" r="89.01" stroke="#4360A3" stroke-dasharray="2 1 1 1 2 1 2 2 5 1 2 3 1 1 1 1 1 1 4 1 1 27 1 1 3 3 3 26 2 1 1 2 1 1 2 1 4 1 1 2 3 3 1 2 1 1 1 2 1 15 2 1 2 1 1 74 1 1 4 1 2 3 2 4 1 15 11 32 1 4 1 1 1 46" stroke-dashoffset="-42"/>
<circle pathLength="360" r="89.01" stroke="#67C0DB" stroke-dasharray="1 100 1 147 2 14 1 1 2 91" stroke-dashoffset="-78"/>
<circle pathLength="360" r="89.01" stroke="#599DC7" stroke-dasharray="1 66 1 30 2 109 1 27 1 122" stroke-dashoffset="-79"/>
<circle pathLength="360" r="89.01" stroke="#63D6C2" stroke-dasharray="1 99 1 6 1 129 2 6 1 3 2 7 5 1 1 95" stroke-dashoffset="-80"/>
<circle pathLength="360" r="89.01" stroke="#3DD56F" stroke-dasharray="2 8 1 1 2 86 1 4 1 132 1 6 1 4 1 1 2 1 2 103" stroke-dashoffset="-81"/>
<circle pathLength="360" r="89.01" stroke="#11B71A" stroke-dasharray="1 2 2 1 1 92 2 259" stroke-dashoffset="-83"/>
<circle pathLength="360" r="89.01" stroke="#11C61B" stroke-dasharray="1 3 1 1 1 1 1 91 2 134 5 7 1 2 1 108" stroke-dashoffset="-84"/>
<circle pathLength="360" r="89.01" stroke="#10A519" stroke-dasharray="1 359" stroke-dashoffset="-85"/>
<circle pathLength="360" r="89.01" stroke="#6577A8" stroke-dasharray="1 13 1 58 1 286" stroke-dashoffset="-102"/>
<circle pathLength="360" r="91.59" stroke="#6577A8" stroke-dasharray="1 1 1 23 1 1 1 7 1 25 1 15 1 1 1 22 1 9 1 1 1 14 1 6 2 96 1 28 1 3 2 1 1 2 1 85" stroke-dashoffset="-38"/>
<circle pathLength="360" r="91.59" stroke="#4360A3" stroke-dasharray="1 4 1 1 2 1 2 4 2 1 2 7 5 1 1 2 2 20 1 5 1 1 5 1 1 4 1 25 4 3 1 6 1 3 2 3 1 3 1 1 1 16 4 81 1 4 2 1 2 2 1 2 3 19 1 3 1 32 1 1 2 47" stroke-dashoffset="-39"/>
<circle pathLength="360" r="91.59" stroke="#526AA5" stroke-dasharray="3 1 1 2 1 2 4 5 4 1 1 6 1 2 1 25 3 1 1 5 1 1 3 26 1 4 3 2 1 1 3 1 3 2 3 1 1 1 1 1 1 1 2 2 2 14 1 81 4 2 1 22 2 2 1 1 1 2 2 37 4 45" stroke-dashoffset="-41"/>
<circle pathLength="360" r="91.59" stroke="#4B7DB5" stroke-dasharray="1 41 1 79 2 103 2 1 1 28 1 30 1 1 1 67" stroke-dashoffset="-57"/>
<circle pathLength="360" r="91.59" stroke="#599DC7" stroke-dasharray="2 107 2 99 1 56 1 92" stroke-dashoffset="-78"/>
<circle pathLength="360" r="91.59" stroke="#3DD56F" stroke-dasharray="1 2 2 1 2 7 1 89 2 132 1 22 1 97" stroke-dashoffset="-80"/>
<circle pathLength="360" r="91.59" stroke="#63D6C2" stroke-dasharray="2 13 1 84 1 159 1 2 1 96" stroke-dashoffset="-81"/>
<circle pathLength="360" r="91.59" stroke="#11B71A" stroke-dasharray="1 3 1 232 2 121" stroke-dashoffset="-85"/>
<circle pathLength="360" r="91.59" stroke="#11C61B" stroke-dasharray="1 1 5 88 2 135 2 2 2 122" stroke-dashoffset="-88"/>
<circle pathLength="360" r="91.59" stroke="#67C0DB" stroke-dasharray="1 134 2 16 6 2 1 2 1 195" stroke-dashoffset="-182"/>
<circle pathLength="360" r="94.17" stroke="#526AA5" stroke-dasharray="1 2 1 1 2 5 2 2 1 6 1 5 2 4 1 3 1 1 1 31 2 5 3 20 1 5 1 5 2 3 3 6 2 3 5 15 1 83 1 1 2 2 2 13 2 1 2 2 4 1 1 2 1 36 1 4 3 41" stroke-dashoffset="-37"/>
<circle pathLength="360" r="94.17" stroke="#4360A3" stroke-dasharray="2 1 1 2 2 1 2 3 1 1 1 1 1 1 2 8 4 1 3 26 5 2 1 27 1 1 1 1 2 1 2 2 3 3 3 3 6 2 2 6 3 2 1 6 3 88 2 2 1 1 1 6 1 5 1 2 2 6 1 2 1 1 1 1 1 32 4 45" stroke-dashoffset="-38"/>
<circle pathLength="360" r="94.17" stroke="#4B7DB5" stroke-dasharray="1 4 1 3 1 1 1 19 1 1 3 18 2 5 2 34 1 3 1 31 2 1 1 101 1 1 2 3 1 23 1 1 1 29 1 58" stroke-dashoffset="-46"/>
<circle pathLength="360" r="94.17" stroke="#6577A8" stroke-dasharray="1 46 1 3 1 3 1 14 1 15 1 18 1 136 1 2 1 2 1 111" stroke-dashoffset="-65"/>
<circle pathLength="360" r="94.17" stroke="#67C0DB" stroke-dasharray="2 14 1 85 1 149 2 6 2 2 1 95" stroke-dashoffset="-82"/>
<circle pathLength="360" r="94.17" stroke="#63D6C2" stroke-dasharray="2 11 1 85 1 155 1 1 1 2 1 99" stroke-dashoffset="-84"/>
<circle pathLength="360" r="94.17" stroke="#3DD56F" stroke-dasharray="2 1 1 6 1 222 1 1 1 3 1 10 3 1 1 105" stroke-dashoffset="-86"/>
<circle pathLength="360" r="94.17" stroke="#11C61B" stroke-dasharray="1 2 4 228 2 123" stroke-dashoffset="-88"/>
<circle pathLength="360" r="94.17" stroke="#11B71A" stroke-dasharray="1 4 1 224 1 1 1 127" stroke-dashoffset="-90"/>
<circle pathLength="360" r="94.17" stroke="#599DC7" stroke-dasharray="1 85 3 100 3 27 1 26 1 113" stroke-dashoffset="-99"/>
<circle pathLength="360" r="96.75" stroke="#526AA5" stroke-dasharray="3 1 2 1 2 1 3 1 1 5 1 15 1 1 2 27 1 15 1 1 1 13 1 1 1 1 2 2 1 10 1 2 1 3 3 3 3 1 3 3 1 103 4 11 2 1 2 4 3 3 1 1 3 34 1 1 1 43" stroke-dashoffset="-36"/>
<circle pathLength="360" r="96.75" stroke="#4360A3" stroke-dasharray="1 2 1 2 1 8 2 1 1 15 1 2 9 1 1 15 1 1 2 1 4 25 1 4 2 1 2 5 2 3 1 2 2 5 1 11 1 2 2 2 2 2 1 95 2 11 1 3 1 13 2 30 2 49" stroke-dashoffset="-39"/>
<circle pathLength="360" r="96.75" stroke="#6577A8" stroke-dasharray="1 1 3 4 1 59 1 1 1 17 1 14 1 1 1 2 1 5 1 5 1 3 3 103 1 20 1 1 2 3 3 1 1 38 1 1 2 54" stroke-dashoffset="-49"/>
<circle pathLength="360" r="96.75" stroke="#4B7DB5" stroke-dasharray="1 14 2 4 1 39 5 14 1 13 2 6 1 99 1 6 1 23 1 27 2 97" stroke-dashoffset="-85"/>
<circle pathLength="360" r="96.75" stroke="#599DC7" stroke-dasharray="1 1 1 93 2 3 1 99 4 1 1 1 1 31 4 14 1 101" stroke-dashoffset="-87"/>
<circle pathLength="360" r="96.75" stroke="#67C0DB" stroke-dasharray="1 2 1 7 1 192 1 26 2 1 1 1 1 1 1 4 1 10 3 103" stroke-dashoffset="-88"/>
<circle pathLength="360" r="96.75" stroke="#63D6C2" stroke-dasharray="1 1 2 3 2 222 1 1 1 1 1 6 1 117" stroke-dashoffset="-90"/>
<circle pathLength="360" r="96.75" stroke="#3DD56F" stroke-dasharray="1 1 1 236 4 2 3 112" stroke-dashoffset="-94"/>
<circle pathLength="360" r="96.75" stroke="#11C61B" stroke-dasharray="1 241 2 116" stroke-dashoffset="-95"/>
<circle pathLength="360" r="99.33" stroke="#4360A3" stroke-dasharray="1 1 1 1 1 2 1 2 1 1 1 27 4 1 1 1 1 1 5 13 1 2 1 12 3 1 1 12 3 2 1 12 1 1 2 4 2 4 3 9 1 1 2 2 1 100 1 12 2 1 3 9 1 1 1 30 1 1 3 1 1 41" stroke-dashoffset="-35"/>
<circle pathLength="360" r="99.33" stroke="#526AA5" stroke-dasharray="1 1 1 2 1 1 2 1 1 1 2 53 2 1 1 1 1 8 1 3 1 12 1 22 1 1 1 6 1 3 3 1 5 5 1 116 1 10 1 2 1 32 1 3 1 43" stroke-dashoffset="-36"/>
<circle pathLength="360" r="99.33" stroke="#4B7DB5" stroke-dasharray="1 38 1 1 1 1 1 5 1 11 1 5 1 1 1 28 2 1 2 11 1 3 1 1 1 2 3 14 1 2 1 103 1 8 3 14 1 3 2 81" stroke-dashoffset="-40"/>
<circle pathLength="360" r="99.33" stroke="#6577A8" stroke-dasharray="1 120 1 131 1 106" stroke-dashoffset="-52"/>
<circle pathLength="360" r="99.33" stroke="#599DC7" stroke-dasharray="2 7 2 42 1 8 1 135 1 30 1 6 2 1 1 16 1 103" stroke-dashoffset="-90"/>
<circle pathLength="360" r="99.33" stroke="#67C0DB" stroke-dasharray="2 3 2 48 1 2 2 137 5 1 1 24 1 1 4 2 1 2 1 13 1 106" stroke-dashoffset="-92"/>
<circle pathLength="360" r="99.33" stroke="#63D6C2" stroke-dasharray="2 48 3 1 2 144 1 26 1 8 1 123" stroke-dashoffset="-94"/>
<circle pathLength="360" r="99.33" stroke="#3DD56F" stroke-dasharray="1 235 2 9 2 111" stroke-dashoffset="-96"/>
<circle pathLength="360" r="99.33" stroke="#11C61B" stroke-dasharray="1 1 1 4 2 351" stroke-dashoffset="-334"/>
<circle pathLength="360" r="99.33" stroke="#11B71A" stroke-dasharray="1 1 4 354" stroke-dashoffset="-335"/>
<circle pathLength="360" r="101.91" stroke="#4360A3" stroke-dasharray="1 2 3 31 1 6 1 1 1 1 2 11 1 2 5 1 1 4 2 1 1 2 1 12 4 14 3 2 1 7 2 2 2 128 2 11 1 1 3 30 5 48" stroke-dashoffset="-41"/>
<circle pathLength="360" r="101.91" stroke="#526AA5" stroke-dasharray="2 3 3 27 1 6 1 1 1 1 1 15 1 7 1 10 1 10 1 21 2 14 3 127 3 97" stroke-dashoffset="-42"/>
<circle pathLength="360" r="101.91" stroke="#4B7DB5" stroke-dasharray="1 2 1 1 3 7 1 1 1 6 2 1 1 6 1 7 1 1 2 17 1 12 1 6 7 2 2 128 2 14 1 3 3 25 2 88" stroke-dashoffset="-76"/>
<circle pathLength="360" r="101.91" stroke="#599DC7" stroke-dasharray="1 11 1 4 1 1 1 40 2 154 2 28 4 15 1 94" stroke-dashoffset="-80"/>
<circle pathLength="360" r="101.91" stroke="#67C0DB" stroke-dasharray="2 2 1 52 1 136 6 36 1 1 1 121" stroke-dashoffset="-94"/>
<circle pathLength="360" r="101.91" stroke="#63D6C2" stroke-dasharray="1 45 1 4 1 2 1 143 2 35 1 1 1 10 1 111" stroke-dashoffset="-96"/>
<circle pathLength="360" r="101.91" stroke="#3DD56F" stroke-dasharray="2 1 1 1 2 353" stroke-dashoffset="-143"/>
<circle pathLength="360" r="101.91" stroke="#11C61B" stroke-dasharray="1 188 2 1 1 5 1 161" stroke-dashoffset="-145"/>
<circle pathLength="360" r="101.91" stroke="#11B71A" stroke-dasharray="1 1 2 2 1 353" stroke-dashoffset="-336"/>
<circle pathLength="360" r="101.91" stroke="#10A519" stroke-dasharray="2 358" stroke-dashoffset="-340"/>
<circle pathLength="360" r="104.49" stroke="#6577A8" stroke-dasharray="2 1 1 40 1 24 2 19 3 1 1 14 1 11 1 4 3 129 2 42 1 57" stroke-dashoffset="-44"/>
<circle pathLength="360" r="104.49" stroke="#4360A3" stroke-dasharray="1 39 2 1 1 3 1 5 3 1 2 1 1 9 4 3 1 13 1 2 1 10 2 3 1 1 2 1 1 1 2 1 3 145 2 1 2 1 1 27 1 57" stroke-dashoffset="-46"/>
<circle pathLength="360" r="104.49" stroke="#526AA5" stroke-dasharray="3 4 3 9 1 2 1 1 6 7 3 16 1 14 2 1 1 11 1 130 2 14 1 2 1 27 1 1 1 1 2 90" stroke-dashoffset="-83"/>
<circle pathLength="360" r="104.49" stroke="#599DC7" stroke-dasharray="1 46 1 148 1 2 1 3 2 31 1 13 1 109" stroke-dashoffset="-94"/>
<circle pathLength="360" r="104.49" stroke="#4B7DB5" stroke-dasharray="1 1 2 16 1 34 1 9 1 1 1 125 2 9 1 28 2 15 1 4 1 104" stroke-dashoffset="-95"/>
<circle pathLength="360" r="104.49" stroke="#67C0DB" stroke-dasharray="1 52 1 141 1 2 3 34 3 122" stroke-dashoffset="-96"/>
<circle pathLength="360" r="104.49" stroke="#63D6C2" stroke-dasharray="1 4 2 143 1 50 1 158" stroke-dashoffset="-142"/>
<circle pathLength="360" r="104.49" stroke="#3DD56F" stroke-dasharray="2 1 1 187 2 6 1 160" stroke-dashoffset="-143"/>
<circle pathLength="360" r="104.49" stroke="#11C61B" stroke-dasharray="1 190 3 1 2 163" stroke-dashoffset="-145"/>
<circle pathLength="360" r="104.49" stroke="#11B71A" stroke-dasharray="1 359" stroke-dashoffset="-339"/>
<circle pathLength="360" r="107.07" stroke="#6577A8" stroke-dasharray="1 3 1 2 3 10 1 5 1 23 4 26 1 5 2 130 1 141" stroke-dashoffset="-84"/>
<circle pathLength="360" r="107.07" stroke="#526AA5" stroke-dasharray="3 1 2 15 1 1 2 1 4 6 1 1 1 14 1 13 5 6 1 1 2 1 2 103 3 24 2 13 3 2 1 26 1 1 1 95" stroke-dashoffset="-85"/>
<circle pathLength="360" r="107.07" stroke="#4360A3" stroke-dasharray="2 9 1 1 1 7 3 2 1 1 1 16 1 10 2 5 6 4 1 120 2 28 2 9 2 14 2 1 1 1 2 102" stroke-dashoffset="-94"/>
<circle pathLength="360" r="107.07" stroke="#4B7DB5" stroke-dasharray="2 2 1 17 2 20 1 158 1 31 1 124" stroke-dashoffset="-96"/>
<circle pathLength="360" r="107.07" stroke="#67C0DB" stroke-dasharray="1 47 1 149 2 36 1 123" stroke-dashoffset="-98"/>
<circle pathLength="360" r="107.07" stroke="#599DC7" stroke-dasharray="1 41 1 6 2 140 6 2 1 33 2 10 1 114" stroke-dashoffset="-99"/>
<circle pathLength="360" r="107.07" stroke="#63D6C2" stroke-dasharray="3 2 1 187 1 6 2 158" stroke-dashoffset="-142"/>
<circle pathLength="360" r="107.07" stroke="#3DD56F" stroke-dasharray="1 190 1 2 1 1 1 163" stroke-dashoffset="-145"/>
<circle pathLength="360" r="107.07" stroke="#11C61B" stroke-dasharray="2 1 1 356" stroke-dashoffset="-337"/>
<circle pathLength="360" r="109.65" stroke="#6577A8" stroke-dasharray="1 4 1 13 1 6 1 22 5 27 1 16 1 87 1 4 2 67 1 4 1 94" stroke-dashoffset="-85"/>
<circle pathLength="360" r="109.65" stroke="#4B7DB5" stroke-dasharray="1 7 1 23 4 27 1 5 1 4 2 127 2 9 1 14 1 2 1 11 1 13 1 1 1 99" stroke-dashoffset="-86"/>
<circle pathLength="360" r="109.65" stroke="#526AA5" stroke-dasharray="1 1 1 1 2 2 1 9 1 1 1 1 2 1 4 1 1 35 1 5 1 4 2 3 4 99 1 1 2 12 1 12 1 12 1 5 1 28 1 97" stroke-dashoffset="-87"/>
<circle pathLength="360" r="109.65" stroke="#4360A3" stroke-dasharray="1 4 1 2 1 9 1 1 1 7 1 5 2 15 1 10 3 1 1 1 3 3 2 3 2 104 1 42 2 1 1 27 2 99" stroke-dashoffset="-88"/>
<circle pathLength="360" r="109.65" stroke="#599DC7" stroke-dasharray="1 42 1 7 1 142 3 5 1 31 2 10 1 113" stroke-dashoffset="-97"/>
<circle pathLength="360" r="109.65" stroke="#63D6C2" stroke-dasharray="1 42 2 151 1 3 1 36 2 1 1 1 1 117" stroke-dashoffset="-98"/>
<circle pathLength="360" r="109.65" stroke="#11C61B" stroke-dasharray="2 43 1 314" stroke-dashoffset="-99"/>
<circle pathLength="360" r="109.65" stroke="#3DD56F" stroke-dasharray="1 1 2 190 1 1 1 1 1 161" stroke-dashoffset="-143"/>
<circle pathLength="360" r="109.65" stroke="#67C0DB" stroke-dasharray="1 147 3 35 2 7 1 164" stroke-dashoffset="-147"/>
<circle pathLength="360" r="112.23" stroke="#526AA5" stroke-dasharray="3 5 1 8 2 1 2 1 1 4 2 4 1 1 2 26 2 3 2 2 5 2 3 1 2 12 2 11 1 76 2 1 1 38 1 1 2 11 1 13 1 1 2 97" stroke-dashoffset="-86"/>
<circle pathLength="360" r="112.23" stroke="#4360A3" stroke-dasharray="1 2 2 1 3 7 1 2 1 8 3 1 1 16 2 8 2 2 3 2 2 10 1 106 1 12 2 24 1 1 1 28 1 102" stroke-dashoffset="-89"/>
<circle pathLength="360" r="112.23" stroke="#6577A8" stroke-dasharray="2 18 4 2 1 17 4 26 2 6 1 10 1 89 1 40 1 34 1 100" stroke-dashoffset="-90"/>
<circle pathLength="360" r="112.23" stroke="#599DC7" stroke-dasharray="1 48 1 144 2 2 2 2 1 40 1 2 1 113" stroke-dashoffset="-98"/>
<circle pathLength="360" r="112.23" stroke="#63D6C2" stroke-dasharray="1 1 1 39 4 192 1 2 1 118" stroke-dashoffset="-99"/>
<circle pathLength="360" r="112.23" stroke="#3DD56F" stroke-dasharray="1 44 1 314" stroke-dashoffset="-100"/>
<circle pathLength="360" r="112.23" stroke="#4B7DB5" stroke-dasharray="1 150 1 40 3 7 2 156" stroke-dashoffset="-140"/>
<circle pathLength="360" r="112.23" stroke="#67C0DB" stroke-dasharray="1 147 2 2 2 35 2 1 2 166" stroke-dashoffset="-146"/>
<circle pathLength="360" r="114.81" stroke="#526AA5" stroke-dasharray="1 3 4 1 1 10 1 1 5 1 1 2 1 2 1 15 1 19 3 1 1 3 4 1 1 25 1 1 2 75 1 13 1 24 4 129" stroke-dashoffset="-87"/>
<circle pathLength="360" r="114.81" stroke="#4360A3" stroke-dasharray="3 4 1 1 1 7 1 2 1 5 1 1 2 4 2 11 2 1 1 9 4 1 4 5 1 6 1 1 1 13 1 11 1 92 2 55 2 99" stroke-dashoffset="-88"/>
<circle pathLength="360" r="114.81" stroke="#4B7DB5" stroke-dasharray="1 1 5 1 1 12 2 18 1 7 1 4 1 7 1 139 1 32 1 7 1 2 3 111" stroke-dashoffset="-98"/>
<circle pathLength="360" r="114.81" stroke="#599DC7" stroke-dasharray="1 192 1 6 1 34 3 6 1 115" stroke-dashoffset="-99"/>
<circle pathLength="360" r="114.81" stroke="#6577A8" stroke-dasharray="1 28 2 7 1 11 1 89 1 43 1 13 1 161" stroke-dashoffset="-134"/>
<circle pathLength="360" r="114.81" stroke="#67C0DB" stroke-dasharray="1 5 1 146 6 38 4 1 1 157" stroke-dashoffset="-140"/>
<circle pathLength="360" r="114.81" stroke="#3DD56F" stroke-dasharray="1 1 2 356" stroke-dashoffset="-141"/>
<circle pathLength="360" r="114.81" stroke="#63D6C2" stroke-dasharray="1 2 1 356" stroke-dashoffset="-142"/>
<circle pathLength="360" r="117.39" stroke="#4360A3" stroke-dasharray="3 1 2 2 2 10 3 1 1 4 2 3 3 10 3 9 1 2 2 1 8 1 1 8 1 25 1 102 1 33 1 11 1 101" stroke-dashoffset="-88"/>
<circle pathLength="360" r="117.39" stroke="#526AA5" stroke-dasharray="1 3 1 15 1 1 2 33 2 2 1 8 1 6 3 1 1 23 1 1 1 90 2 8 1 33 1 11 1 1 1 103" stroke-dashoffset="-91"/>
<circle pathLength="360" r="117.39" stroke="#4B7DB5" stroke-dasharray="1 3 3 3 2 1 1 7 2 2 3 16 1 152 3 160" stroke-dashoffset="-94"/>
<circle pathLength="360" r="117.39" stroke="#599DC7" stroke-dasharray="2 3 1 32 1 157 2 36 1 7 2 116" stroke-dashoffset="-101"/>
<circle pathLength="360" r="117.39" stroke="#67C0DB" stroke-dasharray="1 36 1 5 1 147 1 1 1 39 1 3 1 1 1 120" stroke-dashoffset="-103"/>
<circle pathLength="360" r="117.39" stroke="#3DD56F" stroke-dasharray="1 1 1 357" stroke-dashoffset="-141"/>
<circle pathLength="360" r="117.39" stroke="#11C61B" stroke-dasharray="1 359" stroke-dashoffset="-142"/>
<circle pathLength="360" r="117.39" stroke="#63D6C2" stroke-dasharray="2 149 1 41 3 1 1 162" stroke-dashoffset="-144"/>
<circle pathLength="360" r="117.39" stroke="#6577A8" stroke-dasharray="1 3 1 5 1 349" stroke-dashoffset="-163"/>
<circle pathLength="360" r="119.97" stroke="#6577A8" stroke-dasharray="2 54 1 16 4 3 2 278" stroke-dashoffset="-94"/>
<circle pathLength="360" r="119.97" stroke="#526AA5" stroke-dasharray="1 16 1 7 1 13 1 11 3 1 2 1 5 3 2 7 3 117 1 7 2 33 1 12 1 108" stroke-dashoffset="-96"/>
<circle pathLength="360" r="119.97" stroke="#4360A3" stroke-dasharray="1 14 1 1 2 6 3 12 1 8 1 12 3 130 1 5 1 36 2 7 3 110" stroke-dashoffset="-97"/>
<circle pathLength="360" r="119.97" stroke="#4B7DB5" stroke-dasharray="3 9 2 4 3 17 1 1 1 14 1 139 1 3 1 44 2 114" stroke-dashoffset="-98"/>
<circle pathLength="360" r="119.97" stroke="#599DC7" stroke-dasharray="1 1 1 2 1 1 2 9 2 18 1 5 1 148 3 40 2 2 1 119" stroke-dashoffset="-101"/>
<circle pathLength="360" r="119.97" stroke="#63D6C2" stroke-dasharray="1 38 1 1 1 318" stroke-dashoffset="-102"/>
<circle pathLength="360" r="119.97" stroke="#67C0DB" stroke-dasharray="2 1 1 32 1 3 1 194 2 123" stroke-dashoffset="-104"/>
<circle pathLength="360" r="119.97" stroke="#3DD56F" stroke-dasharray="1 359" stroke-dashoffset="-142"/>
<circle pathLength="360" r="122.55" stroke="#6577A8" stroke-dasharray="1 2 1 107 1 1 1 15 2 1 1 2 1 1 4 219" stroke-dashoffset="-37"/>
<circle pathLength="360" r="122.55" stroke="#526AA5" stroke-dasharray="2 35 1 48 1 10 1 10 2 1 1 1 7 4 2 1 1 2 1 1 2 1 1 119 1 4 1 1 1 34 1 9 2 51" stroke-dashoffset="-38"/>
<circle pathLength="360" r="122.55" stroke="#4360A3" stroke-dasharray="1 12 1 47 2 13 1 20 4 132 1 2 1 36 1 1 4 4 1 76" stroke-dashoffset="-61"/>
<circle pathLength="360" r="122.55" stroke="#4B7DB5" stroke-dasharray="1 8 3 24 1 14 2 6 1 14 1 1 1 156 1 3 1 42 2 78" stroke-dashoffset="-62"/>
<circle pathLength="360" r="122.55" stroke="#599DC7" stroke-dasharray="1 35 1 12 1 2 1 1 1 21 1 4 2 150 1 43 2 81" stroke-dashoffset="-63"/>
<circle pathLength="360" r="122.55" stroke="#67C0DB" stroke-dasharray="3 3 1 36 5 4 1 1 1 1 1 22 1 280" stroke-dashoffset="-64"/>
<circle pathLength="360" r="122.55" stroke="#3DD56F" stroke-dasharray="1 1 1 32 1 324" stroke-dashoffset="-67"/>
<circle pathLength="360" r="122.55" stroke="#63D6C2" stroke-dasharray="1 31 2 2 3 12 1 20 3 285" stroke-dashoffset="-68"/>
<circle pathLength="360" r="122.55" stroke="#11C61B" stroke-dasharray="1 359" stroke-dashoffset="-103"/>
<circle pathLength="360" r="125.13" stroke="#4360A3" stroke-dasharray="3 36 1 45 3 22 1 2 3 1 5 3 3 1 3 1 2 1 2 124 2 32 1 2 2 2 1 2 1 53" stroke-dashoffset="-38"/>
<circle pathLength="360" r="125.13" stroke="#4B7DB5" stroke-dasharray="2 15 1 45 1 13 2 8 2 1 1 11 2 7 1 5 3 115 6 35 2 2 2 1 2 75" stroke-dashoffset="-59"/>
<circle pathLength="360" r="125.13" stroke="#599DC7" stroke-dasharray="1 76 1 6 1 14 1 260" stroke-dashoffset="-61"/>
<circle pathLength="360" r="125.13" stroke="#63D6C2" stroke-dasharray="1 2 1 33 2 7 1 2 1 3 2 2 2 19 2 280" stroke-dashoffset="-62"/>
<circle pathLength="360" r="125.13" stroke="#3DD56F" stroke-dasharray="2 1 1 43 1 7 1 23 1 280" stroke-dashoffset="-63"/>
<circle pathLength="360" r="125.13" stroke="#11C61B" stroke-dasharray="1 1 5 27 1 1 1 1 3 1 1 317" stroke-dashoffset="-67"/>
<circle pathLength="360" r="125.13" stroke="#11B71A" stroke-dasharray="1 35 1 323" stroke-dashoffset="-68"/>
<circle pathLength="360" r="125.13" stroke="#67C0DB" stroke-dasharray="2 36 3 2 1 3 1 17 1 3 2 289" stroke-dashoffset="-74"/>
<circle pathLength="360" r="125.13" stroke="#10A519" stroke-dasharray="1 359" stroke-dashoffset="-102"/>
<circle pathLength="360" r="125.13" stroke="#526AA5" stroke-dasharray="1 3 1 11 1 6 1 5 1 45 2 118 1 164" stroke-dashoffset="-150"/>
<circle pathLength="360" r="125.13" stroke="#6577A8" stroke-dasharray="1 359" stroke-dashoffset="-302"/>
<circle pathLength="360" r="127.71" stroke="#6577A8" stroke-dasharray="1 19 1 67 1 18 1 2 1 1 1 2 6 1 1 3 2 2 1 11 1 117 1 1 1 3 4 26 1 9 2 52" stroke-dashoffset="-38"/>
<circle pathLength="360" r="127.71" stroke="#4360A3" stroke-dasharray="1 1 1 16 1 33 1 1 1 5 1 15 1 1 2 3 1 18 1 6 1 2 2 1 1 118 1 6 1 34 1 82" stroke-dashoffset="-59"/>
<circle pathLength="360" r="127.71" stroke="#4B7DB5" stroke-dasharray="1 39 1 14 1 2 2 22 1 277" stroke-dashoffset="-60"/>
<circle pathLength="360" r="127.71" stroke="#599DC7" stroke-dasharray="4 11 1 23 1 9 1 28 2 280" stroke-dashoffset="-62"/>
<circle pathLength="360" r="127.71" stroke="#67C0DB" stroke-dasharray="1 9 1 29 2 1 2 5 2 308" stroke-dashoffset="-66"/>
<circle pathLength="360" r="127.71" stroke="#11C61B" stroke-dasharray="1 1 1 1 1 31 1 323" stroke-dashoffset="-67"/>
<circle pathLength="360" r="127.71" stroke="#3DD56F" stroke-dasharray="1 3 1 1 2 28 2 322" stroke-dashoffset="-68"/>
<circle pathLength="360" r="127.71" stroke="#11B71A" stroke-dasharray="1 2 1 356" stroke-dashoffset="-70"/>
<circle pathLength="360" r="127.71" stroke="#63D6C2" stroke-dasharray="1 5 1 353" stroke-dashoffset="-102"/>
<circle pathLength="360" r="127.71" stroke="#526AA5" stroke-dasharray="1 7 5 11 1 6 1 1 2 1 1 1 2 6 1 1 1 1 1 2 2 2 2 2 1 1 4 115 3 1 1 2 2 31 1 1 7 129" stroke-dashoffset="-113"/>
<circle pathLength="360" r="130.29" stroke="#4360A3" stroke-dasharray="1 33 1 41 1 18 1 1 1 2 2 11 1 4 1 2 1 1 1 1 2 7 1 2 1 2 1 1 2 4 4 3 1 113 3 1 4 1 1 1 2 2 1 1 2 21 2 1 1 2 2 1 1 41" stroke-dashoffset="-25"/>
<circle pathLength="360" r="130.29" stroke="#526AA5" stroke-dasharray="2 84 2 7 1 5 1 9 1 6 2 1 1 4 1 5 1 4 2 12 2 123 1 1 1 2 1 2 1 31 1 1 1 41" stroke-dashoffset="-26"/>
<circle pathLength="360" r="130.29" stroke="#4B7DB5" stroke-dasharray="1 1 2 48 2 2 6 3 2 14 1 2 1 17 2 4 1 2 4 124 1 10 1 4 1 22 1 1 2 78" stroke-dashoffset="-58"/>
<circle pathLength="360" r="130.29" stroke="#63D6C2" stroke-dasharray="5 1 1 9 2 22 5 1 2 312" stroke-dashoffset="-62"/>
<circle pathLength="360" r="130.29" stroke="#3DD56F" stroke-dasharray="1 9 1 349" stroke-dashoffset="-67"/>
<circle pathLength="360" r="130.29" stroke="#11C61B" stroke-dasharray="1 1 1 1 1 1 1 353" stroke-dashoffset="-69"/>
<circle pathLength="360" r="130.29" stroke="#11B71A" stroke-dasharray="1 1 1 1 1 1 1 353" stroke-dashoffset="-70"/>
<circle pathLength="360" r="130.29" stroke="#599DC7" stroke-dasharray="1 59 2 298" stroke-dashoffset="-80"/>
<circle pathLength="360" r="130.29" stroke="#67C0DB" stroke-dasharray="1 359" stroke-dashoffset="-107"/>
<circle pathLength="360" r="130.29" stroke="#6577A8" stroke-dasharray="1 29 1 329" stroke-dashoffset="-149"/>
<circle pathLength="360" r="132.87" stroke="#526AA5" stroke-dasharray="1 2 3 9 1 22 1 21 1 27 1 2 1 2 1 9 1 9 2 4 1 1 3 4 1 7 1 14 6 116 1 1 1 8 1 1 1 31 1 40" stroke-dashoffset="-23"/>
<circle pathLength="360" r="132.87" stroke="#4360A3" stroke-dasharray="2 56 1 19 1 9 1 2 1 7 1 1 1 2 1 10 4 1 1 3 4 9 8 2 2 1 1 6 1 112 1 1 1 1 1 1 5 4 1 2 1 2 1 18 6 44" stroke-dashoffset="-24"/>
<circle pathLength="360" r="132.87" stroke="#4B7DB5" stroke-dasharray="1 20 1 1 1 1 1 2 1 37 1 12 1 1 1 1 3 1 1 1 1 42 2 2 1 121 1 9 2 4 1 2 1 82" stroke-dashoffset="-37"/>
<circle pathLength="360" r="132.87" stroke="#599DC7" stroke-dasharray="1 3 2 2 1 13 1 22 1 4 2 8 1 187 1 5 1 105" stroke-dashoffset="-59"/>
<circle pathLength="360" r="132.87" stroke="#67C0DB" stroke-dasharray="1 1 1 10 2 27 1 317" stroke-dashoffset="-66"/>
<circle pathLength="360" r="132.87" stroke="#63D6C2" stroke-dasharray="2 1 1 5 1 26 3 321" stroke-dashoffset="-69"/>
<circle pathLength="360" r="132.87" stroke="#3DD56F" stroke-dasharray="1 1 5 353" stroke-dashoffset="-71"/>
<circle pathLength="360" r="132.87" stroke="#6577A8" stroke-dasharray="1 68 1 157 1 2 1 129" stroke-dashoffset="-113"/>
<circle pathLength="360" r="135.45" stroke="#4360A3" stroke-dasharray="4 9 2 1 1 14 1 1 1 3 4 1 1 18 1 2 1 25 6 2 1 3 2 13 1 2 1 1 1 5 2 9 1 1 10 3 1 2 1 115 1 1 1 1 4 1 1 1 7 1 1 19 1 2 1 44" stroke-dashoffset="-23"/>
<circle pathLength="360" r="135.45" stroke="#4B7DB5" stroke-dasharray="1 27 1 2 1 5 1 2 4 12 1 22 1 12 2 2 2 2 1 19 4 148 1 4 1 9 1 21 2 49" stroke-dashoffset="-27"/>
<circle pathLength="360" r="135.45" stroke="#526AA5" stroke-dasharray="1 9 1 1 3 1 1 5 4 31 2 1 1 15 1 7 1 15 2 8 2 1 1 2 1 16 1 1 1 10 3 1 2 1 2 114 1 36 1 4 1 48" stroke-dashoffset="-28"/>
<circle pathLength="360" r="135.45" stroke="#6577A8" stroke-dasharray="1 98 1 3 1 36 1 219" stroke-dashoffset="-43"/>
<circle pathLength="360" r="135.45" stroke="#599DC7" stroke-dasharray="1 1 1 6 1 4 1 1 1 8 1 22 1 1 1 14 1 183 1 110" stroke-dashoffset="-57"/>
<circle pathLength="360" r="135.45" stroke="#67C0DB" stroke-dasharray="1 1 1 1 1 2 3 350" stroke-dashoffset="-72"/>
<circle pathLength="360" r="135.45" stroke="#63D6C2" stroke-dasharray="1 1 2 356" stroke-dashoffset="-75"/>
<circle pathLength="360" r="138.03" stroke="#4360A3" stroke-dasharray="5 10 1 1 1 1 1 2 1 4 1 1 4 7 1 1 1 6 1 16 1 25 4 7 1 1 2 11 1 2 1 1 3 1 4 1 3 4 4 1 2 1 1 1 2 1 1 1 3 122 3 3 1 4 2 22 3 43" stroke-dashoffset="-22"/>
<circle pathLength="360" r="138.03" stroke="#526AA5" stroke-dasharray="2 7 1 3 1 1 1 2 1 15 1 1 1 3 1 4 1 16 2 22 1 12 1 3 2 9 2 1 1 12 1 17 1 3 1 1 3 113 1 1 1 8 4 3 1 19 1 51" stroke-dashoffset="-27"/>
<circle pathLength="360" r="138.03" stroke="#4B7DB5" stroke-dasharray="1 4 1 6 1 4 6 4 2 1 3 14 3 30 3 8 1 18 1 4 1 11 1 2 1 4 1 6 1 119 1 3 3 7 1 83" stroke-dashoffset="-38"/>
<circle pathLength="360" r="138.03" stroke="#599DC7" stroke-dasharray="3 2 1 4 1 37 4 45 1 262" stroke-dashoffset="-73"/>
<circle pathLength="360" r="138.03" stroke="#67C0DB" stroke-dasharray="2 1 4 1 1 351" stroke-dashoffset="-76"/>
<circle pathLength="360" r="138.03" stroke="#6577A8" stroke-dasharray="1 359" stroke-dashoffset="-298"/>
<circle pathLength="360" r="140.61" stroke="#526AA5" stroke-dasharray="1 20 1 1 1 5 1 16 1 1 5 16 1 26 1 11 2 26 1 3 1 16 3 117 2 2 1 5 1 2 1 2 1 66" stroke-dashoffset="-22"/>
<circle pathLength="360" r="140.61" stroke="#4360A3" stroke-dasharray="5 8 7 1 1 4 2 1 5 10 1 1 1 7 1 9 2 1 1 23 2 1 1 7 4 11 5 1 1 2 2 1 2 1 1 1 1 5 1 2 4 1 1 3 4 3 3 116 2 2 4 1 1 2 2 68" stroke-dashoffset="-23"/>
<circle pathLength="360" r="140.61" stroke="#4B7DB5" stroke-dasharray="3 15 2 9 1 2 1 26 1 2 1 9 1 15 1 2 1 2 1 2 1 1 1 7 2 4 1 1 2 130 1 32 1 79" stroke-dashoffset="-57"/>
<circle pathLength="360" r="140.61" stroke="#599DC7" stroke-dasharray="2 4 1 35 1 3 1 22 1 26 1 263" stroke-dashoffset="-78"/>
<circle pathLength="360" r="140.61" stroke="#67C0DB" stroke-dasharray="4 1 1 35 1 318" stroke-dashoffset="-80"/>
<circle pathLength="360" r="140.61" stroke="#63D6C2" stroke-dasharray="2 358" stroke-dashoffset="-122"/>
<circle pathLength="360" r="140.61" stroke="#6577A8" stroke-dasharray="1 178 1 180" stroke-dashoffset="-132"/>
<circle pathLength="360" r="143.19" stroke="#6577A8" stroke-dasharray="1 1 1 25 1 26 1 12 2 1 1 39 1 174 1 73" stroke-dashoffset="-21"/>
<circle pathLength="360" r="143.19" stroke="#526AA5" stroke-dasharray="1 1 4 22 2 1 4 29 3 2 1 22 1 11 1 17 1 9 2 3 1 4 1 1 2 1 1 1 1 6 1 2 3 118 1 1 1 3 3 1 1 1 1 67" stroke-dashoffset="-22"/>
<circle pathLength="360" r="143.19" stroke="#4360A3" stroke-dasharray="1 24 2 36 5 4 2 1 5 9 3 4 6 2 3 4 1 1 1 2 1 1 1 1 1 4 1 1 2 122 1 1 2 4 1 1 1 98" stroke-dashoffset="-52"/>
<circle pathLength="360" r="143.19" stroke="#4B7DB5" stroke-dasharray="5 39 1 21 3 25 1 2 1 262" stroke-dashoffset="-79"/>
<circle pathLength="360" r="143.19" stroke="#599DC7" stroke-dasharray="2 34 1 1 1 52 1 268" stroke-dashoffset="-84"/>
<circle pathLength="360" r="143.19" stroke="#67C0DB" stroke-dasharray="1 52 1 306" stroke-dashoffset="-121"/>
<circle pathLength="360" r="145.77" stroke="#526AA5" stroke-dasharray="1 5 1 1 1 27 1 29 1 1 1 1 3 1 1 40 1 20 1 14 3 11 1 59 2 62 2 1 1 1 1 1 2 62" stroke-dashoffset="-16"/>
<circle pathLength="360" r="145.77" stroke="#6577A8" stroke-dasharray="1 1 1 3 1 9 1 45 1 8 1 56 1 13 1 6 1 72 1 60 1 76" stroke-dashoffset="-21"/>
<circle pathLength="360" r="145.77" stroke="#4360A3" stroke-dasharray="2 54 1 7 1 1 1 23 3 1 1 6 1 3 1 1 1 8 5 1 1 2 2 1 2 1 4 4 3 4 1 6 3 126 1 1 1 1 1 73" stroke-dashoffset="-25"/>
<circle pathLength="360" r="145.77" stroke="#4B7DB5" stroke-dasharray="1 32 1 1 2 2 2 1 3 18 1 6 1 16 1 4 1 267" stroke-dashoffset="-85"/>
<circle pathLength="360" r="145.77" stroke="#599DC7" stroke-dasharray="2 22 1 29 1 305" stroke-dashoffset="-122"/>
<circle pathLength="360" r="145.77" stroke="#67C0DB" stroke-dasharray="1 359" stroke-dashoffset="-173"/>
<circle pathLength="360" r="145.77" stroke="#11C61B" stroke-dasharray="1 359" stroke-dashoffset="-174"/>
<circle pathLength="360" r="145.77" stroke="#3DD56F" stroke-dasharray="1 359" stroke-dashoffset="-175"/>
<circle pathLength="360" r="148.35" stroke="#526AA5" stroke-dasharray="1 5 3 3 1 7 1 50 1 1 1 3 1 24 1 13 1 8 1 2 1 2 1 1 1 5 1 3 1 2 1 4 1 2 2 69 1 66 2 1 1 64" stroke-dashoffset="-15"/>
<circle pathLength="360" r="148.35" stroke="#4360A3" stroke-dasharray="1 8 2 9 2 49 1 1 3 26 4 8 1 1 1 8 2 4 1 1 3 3 3 1 2 3 2 1 2 2 1 6 3 58 1 1 3 62 1 2 1 1 2 63" stroke-dashoffset="-16"/>
<circle pathLength="360" r="148.35" stroke="#4B7DB5" stroke-dasharray="1 97 1 6 1 14 2 7 1 18 1 211" stroke-dashoffset="-24"/>
<circle pathLength="360" r="148.35" stroke="#67C0DB" stroke-dasharray="1 1 2 356" stroke-dashoffset="-123"/>
<circle pathLength="360" r="148.35" stroke="#599DC7" stroke-dasharray="1 2 2 23 1 24 1 306" stroke-dashoffset="-124"/>
<circle pathLength="360" r="148.35" stroke="#3DD56F" stroke-dasharray="3 357" stroke-dashoffset="-173"/>
<circle pathLength="360" r="148.35" stroke="#63D6C2" stroke-dasharray="1 359" stroke-dashoffset="-176"/>
<circle pathLength="360" r="148.35" stroke="#6577A8" stroke-dasharray="1 359" stroke-dashoffset="-244"/>
<circle pathLength="360" r="150.93" stroke="#6577A8" stroke-dasharray="1 8 1 2 1 62 1 70 1 146 1 66" stroke-dashoffset="-15"/>
<circle pathLength="360" r="150.93" stroke="#4360A3" stroke-dasharray="2 11 1 83 4 10 1 9 3 1 3 1 3 1 3 1 1 4 4 13 1 59 3 138" stroke-dashoffset="-21"/>
<circle pathLength="360" r="150.93" stroke="#526AA5" stroke-dasharray="1 1 2 8 2 52 1 1 2 38 1 9 1 7 1 7 1 1 2 1 1 5 3 67 2 3 1 139" stroke-dashoffset="-23"/>
<circle pathLength="360" r="150.93" stroke="#599DC7" stroke-dasharray="1 90 1 5 1 46 1 215" stroke-dashoffset="-33"/>
<circle pathLength="360" r="150.93" stroke="#4B7DB5" stroke-dasharray="1 22 1 7 1 13 1 3 1 6 2 302" stroke-dashoffset="-122"/>
<circle pathLength="360" r="150.93" stroke="#67C0DB" stroke-dasharray="1 2 4 42 1 310" stroke-dashoffset="-123"/>
<circle pathLength="360" r="150.93" stroke="#63D6C2" stroke-dasharray="1 359" stroke-dashoffset="-125"/>
<circle pathLength="360" r="150.93" stroke="#3DD56F" stroke-dasharray="1 2 1 356" stroke-dashoffset="-173"/>
<circle pathLength="360" r="150.93" stroke="#11B71A" stroke-dasharray="1 359" stroke-dashoffset="-174"/>
<circle pathLength="360" r="150.93" stroke="#11C61B" stroke-dasharray="1 359" stroke-dashoffset="-175"/>
<circle pathLength="360" r="153.51" stroke="#526AA5" stroke-dasharray="6 122 2 4 5 2 1 5 1 54 1 14 3 140" stroke-dashoffset="-22"/>
<circle pathLength="360" r="153.51" stroke="#4B7DB5" stroke-dasharray="1 88 3 7 1 16 1 4 1 17 1 220" stroke-dashoffset="-32"/>
<circle pathLength="360" r="153.51" stroke="#4360A3" stroke-dasharray="2 85 1 11 1 8 7 1 1 2 1 1 2 6 1 1 5 1 1 8 1 213" stroke-dashoffset="-33"/>
<circle pathLength="360" r="153.51" stroke="#67C0DB" stroke-dasharray="1 3 1 43 1 311" stroke-dashoffset="-124"/>
<circle pathLength="360" r="153.51" stroke="#63D6C2" stroke-dasharray="3 2 1 46 1 307" stroke-dashoffset="-125"/>
<circle pathLength="360" r="153.51" stroke="#3DD56F" stroke-dasharray="1 46 1 312" stroke-dashoffset="-129"/>
<circle pathLength="360" r="153.51" stroke="#6577A8" stroke-dasharray="1 27 1 76 1 3 1 250" stroke-dashoffset="-133"/>
<circle pathLength="360" r="153.51" stroke="#11C61B" stroke-dasharray="2 358" stroke-dashoffset="-173"/>
<circle pathLength="360" r="153.51" stroke="#11B71A" stroke-dasharray="1 359" stroke-dashoffset="-175"/>
<circle pathLength="360" r="153.51" stroke="#599DC7" stroke-dasharray="1 359" stroke-dashoffset="-178"/>
<circle pathLength="360" r="156.09" stroke="#6577A8" stroke-dasharray="1 3 1 107 1 11 1 6 1 70 1 14 3 140" stroke-dashoffset="-22"/>
<circle pathLength="360" r="156.09" stroke="#526AA5" stroke-dasharray="3 6 1 100 1 8 4 1 2 3 1 1 2 2 1 7 1 1 2 213" stroke-dashoffset="-23"/>
<circle pathLength="360" r="156.09" stroke="#4360A3" stroke-dasharray="2 27 1 5 2 1 7 1 1 2 1 8 1 301" stroke-dashoffset="-121"/>
<circle pathLength="360" r="156.09" stroke="#4B7DB5" stroke-dasharray="1 7 2 16 1 1 1 19 1 6 1 304" stroke-dashoffset="-123"/>
<circle pathLength="360" r="156.09" stroke="#599DC7" stroke-dasharray="1 359" stroke-dashoffset="-124"/>
<circle pathLength="360" r="156.09" stroke="#67C0DB" stroke-dasharray="2 3 1 41 1 312" stroke-dashoffset="-125"/>
<circle pathLength="360" r="156.09" stroke="#11C61B" stroke-dasharray="2 44 1 1 2 310" stroke-dashoffset="-127"/>
<circle pathLength="360" r="156.09" stroke="#3DD56F" stroke-dasharray="1 359" stroke-dashoffset="-129"/>
<circle pathLength="360" r="156.09" stroke="#11B71A" stroke-dasharray="1 359" stroke-dashoffset="-174"/>
<circle pathLength="360" r="156.09" stroke="#63D6C2" stroke-dasharray="1 359" stroke-dashoffset="-177"/>
<circle pathLength="360" r="158.67" stroke="#6577A8" stroke-dasharray="1 2 1 356" stroke-dashoffset="-22"/>
<circle pathLength="360" r="158.67" stroke="#4B7DB5" stroke-dasharray="1 8 1 99 1 28 1 1 1 2 1 12 1 203" stroke-dashoffset="-23"/>
<circle pathLength="360" r="158.67" stroke="#4360A3" stroke-dasharray="1 8 2 87 2 9 2 8 3 1 1 1 4 1 2 1 1 1 2 3 1 3 1 188 1 26" stroke-dashoffset="-24"/>
<circle pathLength="360" r="158.67" stroke="#526AA5" stroke-dasharray="1 89 1 20 1 3 1 1 1 4 1 2 1 1 1 6 1 1 1 1 2 185 1 1 1 32" stroke-dashoffset="-31"/>
<circle pathLength="360" r="158.67" stroke="#67C0DB" stroke-dasharray="2 358" stroke-dashoffset="-124"/>
<circle pathLength="360" r="158.67" stroke="#63D6C2" stroke-dasharray="1 45 1 313" stroke-dashoffset="-126"/>
<circle pathLength="360" r="158.67" stroke="#11C61B" stroke-dasharray="1 1 1 43 2 1 1 310" stroke-dashoffset="-127"/>
<circle pathLength="360" r="158.67" stroke="#11B71A" stroke-dasharray="1 46 1 312" stroke-dashoffset="-128"/>
<circle pathLength="360" r="158.67" stroke="#599DC7" stroke-dasharray="2 30 1 8 1 6 1 311" stroke-dashoffset="-130"/>
<circle pathLength="360" r="158.67" stroke="#3DD56F" stroke-dasharray="1 359" stroke-dashoffset="-177"/>
<circle pathLength="360" r="161.25" stroke="#4360A3" stroke-dasharray="2 8 2 87 2 10 1 9 3 1 4 4 1 1 6 1 1 2 3 8 1 177 1 25" stroke-dashoffset="-23"/>
<circle pathLength="360" r="161.25" stroke="#526AA5" stroke-dasharray="2 2 1 99 1 7 1 8 4 1 1 9 1 12 1 177 1 32" stroke-dashoffset="-31"/>
<circle pathLength="360" r="161.25" stroke="#599DC7" stroke-dasharray="2 6 1 38 1 6 1 305" stroke-dashoffset="-124"/>
<circle pathLength="360" r="161.25" stroke="#67C0DB" stroke-dasharray="1 1 4 354" stroke-dashoffset="-126"/>
<circle pathLength="360" r="161.25" stroke="#63D6C2" stroke-dasharray="1 44 1 314" stroke-dashoffset="-127"/>
<circle pathLength="360" r="161.25" stroke="#4B7DB5" stroke-dasharray="1 30 1 328" stroke-dashoffset="-133"/>
<circle pathLength="360" r="161.25" stroke="#6577A8" stroke-dasharray="1 18 1 189 1 150" stroke-dashoffset="-147"/>
<circle pathLength="360" r="161.25" stroke="#11C61B" stroke-dasharray="3 1 1 355" stroke-dashoffset="-173"/>
<circle pathLength="360" r="161.25" stroke="#3DD56F" stroke-dasharray="1 359" stroke-dashoffset="-176"/>
<circle pathLength="360" r="163.83" stroke="#4360A3" stroke-dasharray="1 21 3 87 2 20 3 1 1 1 1 10 1 1 2 5 1 8 1 178 1 11" stroke-dashoffset="-10"/>
<circle pathLength="360" r="163.83" stroke="#526AA5" stroke-dasharray="1 17 1 3 2 97 2 11 1 1 1 1 6 1 2 2 1 2 2 1 2 142 1 2 1 6 2 1 1 30 1 16" stroke-dashoffset="-13"/>
<circle pathLength="360" r="163.83" stroke="#6577A8" stroke-dasharray="1 98 1 23 1 6 1 12 2 129 1 1 2 1 1 4 1 2 1 32 1 39" stroke-dashoffset="-37"/>
<circle pathLength="360" r="163.83" stroke="#4B7DB5" stroke-dasharray="1 359" stroke-dashoffset="-124"/>
<circle pathLength="360" r="163.83" stroke="#67C0DB" stroke-dasharray="6 1 1 39 1 312" stroke-dashoffset="-125"/>
<circle pathLength="360" r="163.83" stroke="#599DC7" stroke-dasharray="1 1 1 37 1 6 1 312" stroke-dashoffset="-131"/>
<circle pathLength="360" r="163.83" stroke="#11C61B" stroke-dasharray="3 357" stroke-dashoffset="-173"/>
<circle pathLength="360" r="163.83" stroke="#3DD56F" stroke-dasharray="2 358" stroke-dashoffset="-176"/>
<circle pathLength="360" r="166.41" stroke="#6577A8" stroke-dasharray="1 359" stroke-dashoffset="-6"/>
<circle pathLength="360" r="166.41" stroke="#4360A3" stroke-dasharray="4 3 1 15 3 1 1 1 1 98 2 8 3 1 1 3 1 4 3 3 1 1 1 2 1 10 1 131 3 1 1 5 4 32 1 8" stroke-dashoffset="-7"/>
<circle pathLength="360" r="166.41" stroke="#4B7DB5" stroke-dasharray="3 19 1 3 1 85 1 1 1 8 1 17 1 1 1 6 3 1 1 4 1 200" stroke-dashoffset="-11"/>
<circle pathLength="360" r="166.41" stroke="#599DC7" stroke-dasharray="1 88 1 54 1 215" stroke-dashoffset="-35"/>
<circle pathLength="360" r="166.41" stroke="#526AA5" stroke-dasharray="1 109 1 1 2 3 1 11 2 142 1 3 1 5 1 4 1 29 2 40" stroke-dashoffset="-38"/>
<circle pathLength="360" r="166.41" stroke="#63D6C2" stroke-dasharray="1 1 4 1 1 38 1 313" stroke-dashoffset="-126"/>
<circle pathLength="360" r="166.41" stroke="#3DD56F" stroke-dasharray="1 4 1 354" stroke-dashoffset="-127"/>
<circle pathLength="360" r="166.41" stroke="#67C0DB" stroke-dasharray="1 6 1 352" stroke-dashoffset="-171"/>
<circle pathLength="360" r="166.41" stroke="#11B71A" stroke-dasharray="2 358" stroke-dashoffset="-173"/>
<circle pathLength="360" r="166.41" stroke="#11C61B" stroke-dasharray="3 357" stroke-dashoffset="-175"/>
<circle pathLength="360" r="168.99" stroke="#526AA5" stroke-dasharray="2 7 1 11 1 8 1 99 1 10 4 7 1 2 1 1 3 144 6 5 1 35 1 8" stroke-dashoffset="-6"/>
<circle pathLength="360" r="168.99" stroke="#4360A3" stroke-dasharray="1 4 2 1 1 11 1 2 1 1 3 1 1 97 1 10 1 4 3 8 1 4 4 9 1 135 1 5 4 42" stroke-dashoffset="-8"/>
<circle pathLength="360" r="168.99" stroke="#599DC7" stroke-dasharray="4 113 1 7 1 234" stroke-dashoffset="-9"/>
<circle pathLength="360" r="168.99" stroke="#4B7DB5" stroke-dasharray="1 91 2 33 2 5 1 4 1 7 1 212" stroke-dashoffset="-32"/>
<circle pathLength="360" r="168.99" stroke="#67C0DB" stroke-dasharray="1 1 1 48 1 308" stroke-dashoffset="-127"/>
<circle pathLength="360" r="168.99" stroke="#63D6C2" stroke-dasharray="1 43 1 315" stroke-dashoffset="-128"/>
<circle pathLength="360" r="168.99" stroke="#3DD56F" stroke-dasharray="2 1 1 39 1 1 3 312" stroke-dashoffset="-130"/>
<circle pathLength="360" r="168.99" stroke="#11C61B" stroke-dasharray="1 41 1 317" stroke-dashoffset="-132"/>
<circle pathLength="360" r="168.99" stroke="#6577A8" stroke-dasharray="1 123 2 30 1 203" stroke-dashoffset="-202"/>
<circle pathLength="360" r="171.57" stroke="#526AA5" stroke-dasharray="1 21 1 1 1 4 3 87 1 25 1 8 1 1 1 3 5 140 1 1 2 9 1 1 2 1 1 29 1 6" stroke-dashoffset="-5"/>
<circle pathLength="360" r="171.57" stroke="#4360A3" stroke-dasharray="1 7 1 1 1 11 1 2 2 102 1 13 1 1 3 6 1 1 1 7 1 9 1 130 1 4 1 5 1 1 1 41" stroke-dashoffset="-6"/>
<circle pathLength="360" r="171.57" stroke="#4B7DB5" stroke-dasharray="1 7 1 17 1 91 1 8 1 28 2 6 1 142 2 51" stroke-dashoffset="-7"/>
<circle pathLength="360" r="171.57" stroke="#67C0DB" stroke-dasharray="1 2 3 114 1 43 1 1 1 3 1 189" stroke-dashoffset="-8"/>
<circle pathLength="360" r="171.57" stroke="#63D6C2" stroke-dasharray="2 118 1 43 1 1 2 192" stroke-dashoffset="-9"/>
<circle pathLength="360" r="171.57" stroke="#6577A8" stroke-dasharray="1 289 1 69" stroke-dashoffset="-37"/>
<circle pathLength="360" r="171.57" stroke="#599DC7" stroke-dasharray="2 49 1 1 1 306" stroke-dashoffset="-126"/>
<circle pathLength="360" r="171.57" stroke="#3DD56F" stroke-dasharray="1 359" stroke-dashoffset="-130"/>
<circle pathLength="360" r="171.57" stroke="#11B71A" stroke-dasharray="1 359" stroke-dashoffset="-131"/>
<circle pathLength="360" r="171.57" stroke="#11C61B" stroke-dasharray="2 358" stroke-dashoffset="-132"/>
<circle pathLength="360" r="174.15" stroke="#4360A3" stroke-dasharray="1 1 1 7 1 1 1 9 1 97 1 1 1 23 2 5 3 1 3 6 1 8 1 130 3 9 3 39" stroke-dashoffset="-5"/>
<circle pathLength="360" r="174.15" stroke="#4B7DB5" stroke-dasharray="1 1 2 4 1 13 1 97 1 52 1 142 1 4 1 38" stroke-dashoffset="-6"/>
<circle pathLength="360" r="174.15" stroke="#63D6C2" stroke-dasharray="1 1 2 115 2 44 3 192" stroke-dashoffset="-10"/>
<circle pathLength="360" r="174.15" stroke="#67C0DB" stroke-dasharray="1 122 1 37 3 3 1 192" stroke-dashoffset="-11"/>
<circle pathLength="360" r="174.15" stroke="#526AA5" stroke-dasharray="1 2 1 141 1 3 4 1 1 143 2 5 1 4 1 1 1 47" stroke-dashoffset="-16"/>
<circle pathLength="360" r="174.15" stroke="#6577A8" stroke-dasharray="1 108 1 14 1 2 1 15 1 216" stroke-dashoffset="-26"/>
<circle pathLength="360" r="174.15" stroke="#599DC7" stroke-dasharray="1 359" stroke-dashoffset="-128"/>
<circle pathLength="360" r="174.15" stroke="#11B71A" stroke-dasharray="2 358" stroke-dashoffset="-131"/>
<circle pathLength="360" r="174.15" stroke="#3DD56F" stroke-dasharray="1 359" stroke-dashoffset="-133"/>
<circle pathLength="360" r="176.73" stroke="#526AA5" stroke-dasharray="2 1 1 11 1 7 1 98 1 36 1 2 1 1 2 124 1 17 1 12 2 28 1 8" stroke-dashoffset="-4"/>
<circle pathLength="360" r="176.73" stroke="#4360A3" stroke-dasharray="1 1 1 7 2 8 1 108 1 21 1 1 1 1 2 1 2 1 1 3 1 8 1 141 3 2 2 37" stroke-dashoffset="-6"/>
<circle pathLength="360" r="176.73" stroke="#4B7DB5" stroke-dasharray="1 5 1 12 1 98 2 29 1 1 1 11 1 196" stroke-dashoffset="-9"/>
<circle pathLength="360" r="176.73" stroke="#599DC7" stroke-dasharray="1 1 3 119 1 44 1 190" stroke-dashoffset="-10"/>
<circle pathLength="360" r="176.73" stroke="#67C0DB" stroke-dasharray="1 161 2 1 3 192" stroke-dashoffset="-11"/>
<circle pathLength="360" r="176.73" stroke="#6577A8" stroke-dasharray="1 130 3 16 1 124 1 6 1 77" stroke-dashoffset="-20"/>
<circle pathLength="360" r="176.73" stroke="#63D6C2" stroke-dasharray="2 44 1 313" stroke-dashoffset="-129"/>
<circle pathLength="360" r="176.73" stroke="#11C61B" stroke-dasharray="1 359" stroke-dashoffset="-131"/>
<circle pathLength="360" r="176.73" stroke="#3DD56F" stroke-dasharray="2 358" stroke-dashoffset="-132"/>
<circle pathLength="360" r="179.31" stroke="#4360A3" stroke-dasharray="2 1 1 1 2 9 2 136 1 7 2 1 3 10 1 111 1 1 1 5 2 19 1 2 2 2 1 24 1 8" stroke-dashoffset="-3"/>
<circle pathLength="360" r="179.31" stroke="#4B7DB5" stroke-dasharray="1 1 1 2 1 4 2 9 3 97 2 30 1 3 3 6 1 8 1 111 1 1 1 8 1 20 1 2 2 36" stroke-dashoffset="-5"/>
<circle pathLength="360" r="179.31" stroke="#599DC7" stroke-dasharray="1 1 2 113 1 5 1 25 1 11 2 149 1 47" stroke-dashoffset="-11"/>
<circle pathLength="360" r="179.31" stroke="#63D6C2" stroke-dasharray="1 117 1 1 2 40 3 1 2 192" stroke-dashoffset="-12"/>
<circle pathLength="360" r="179.31" stroke="#526AA5" stroke-dasharray="1 134 1 10 1 132 1 54 2 24" stroke-dashoffset="-21"/>
<circle pathLength="360" r="179.31" stroke="#67C0DB" stroke-dasharray="1 29 1 1 1 15 1 311" stroke-dashoffset="-129"/>
<circle pathLength="360" r="179.31" stroke="#3DD56F" stroke-dasharray="1 359" stroke-dashoffset="-131"/>
<circle pathLength="360" r="179.31" stroke="#6577A8" stroke-dasharray="1 359" stroke-dashoffset="-299"/>
<circle pathLength="360" r="181.89" stroke="#526AA5" stroke-dasharray="1 1 2 13 2 134 1 9 1 126 2 4 1 32 3 18 1 9" stroke-dashoffset="-3"/>
<circle pathLength="360" r="181.89" stroke="#4B7DB5" stroke-dasharray="1 5 1 8 1 7 2 98 3 3 1 25 1 4 1 6 1 1 1 148 5 1 1 27 1 7" stroke-dashoffset="-4"/>
<circle pathLength="360" r="181.89" stroke="#4360A3" stroke-dasharray="3 4 3 9 1 2 3 102 1 22 2 6 1 1 4 1 1 8 1 118 5 24 3 22 1 12" stroke-dashoffset="-7"/>
<circle pathLength="360" r="181.89" stroke="#599DC7" stroke-dasharray="1 1 1 116 1 32 1 10 1 152 1 27 1 15" stroke-dashoffset="-11"/>
<circle pathLength="360" r="181.89" stroke="#63D6C2" stroke-dasharray="1 118 2 27 2 14 1 1 1 193" stroke-dashoffset="-12"/>
<circle pathLength="360" r="181.89" stroke="#67C0DB" stroke-dasharray="1 12 1 1 1 1 2 341" stroke-dashoffset="-162"/>
<circle pathLength="360" r="181.89" stroke="#6577A8" stroke-dasharray="1 359" stroke-dashoffset="-298"/>
<circle pathLength="360" r="184.47" stroke="#526AA5" stroke-dasharray="2 3 2 10 2 4 2 101 1 3 1 22 2 8 3 2 4 8 1 115 2 11 2 8 1 8 5 17 1 3 1 5" stroke-dashoffset="-3"/>
<circle pathLength="360" r="184.47" stroke="#6577A8" stroke-dasharray="3 174 1 182" stroke-dashoffset="-5"/>
<circle pathLength="360" r="184.47" stroke="#4360A3" stroke-dasharray="2 1 3 3 1 8 2 1 1 95 2 1 1 3 1 23 1 10 2 4 1 5 1 116 1 2 1 1 2 6 1 11 6 1 1 39" stroke-dashoffset="-10"/>
<circle pathLength="360" r="184.47" stroke="#4B7DB5" stroke-dasharray="1 17 1 134 1 14 1 121 1 26 1 42" stroke-dashoffset="-12"/>
<circle pathLength="360" r="184.47" stroke="#599DC7" stroke-dasharray="2 26 1 1 1 2 1 11 1 177 3 134" stroke-dashoffset="-131"/>
<circle pathLength="360" r="184.47" stroke="#67C0DB" stroke-dasharray="1 1 2 15 1 340" stroke-dashoffset="-160"/>
<circle pathLength="360" r="184.47" stroke="#63D6C2" stroke-dasharray="2 358" stroke-dashoffset="-177"/>
<circle pathLength="360" r="187.05" stroke="#526AA5" stroke-dasharray="1 1 1 13 2 2 1 100 2 23 1 8 1 2 7 6 2 116 2 1 1 7 3 8 1 1 2 3 3 2 1 22 1 13" stroke-dashoffset="-11"/>
<circle pathLength="360" r="187.05" stroke="#4360A3" stroke-dasharray="1 1 1 4 1 10 1 98 3 24 1 1 1 9 1 12 1 120 1 23 3 43" stroke-dashoffset="-12"/>
<circle pathLength="360" r="187.05" stroke="#6577A8" stroke-dasharray="1 10 1 2 1 104 1 32 1 16 1 113 2 23 1 8 2 1 1 17 1 21" stroke-dashoffset="-15"/>
<circle pathLength="360" r="187.05" stroke="#4B7DB5" stroke-dasharray="2 105 2 47 2 2 1 173 1 25" stroke-dashoffset="-20"/>
<circle pathLength="360" r="187.05" stroke="#599DC7" stroke-dasharray="3 1 3 189 1 163" stroke-dashoffset="-159"/>
<circle pathLength="360" r="187.05" stroke="#67C0DB" stroke-dasharray="1 15 2 176 1 165" stroke-dashoffset="-162"/>
<circle pathLength="360" r="189.63" stroke="#4360A3" stroke-dasharray="1 5 2 5 1 108 3 2 1 34 4 2 3 4 4 115 1 11 1 11 5 6 1 21 1 8" stroke-dashoffset="-6"/>
<circle pathLength="360" r="189.63" stroke="#526AA5" stroke-dasharray="1 21 1 95 1 23 2 141 1 1 1 8 2 1 1 9 1 7 4 39" stroke-dashoffset="-14"/>
<circle pathLength="360" r="189.63" stroke="#67C0DB" stroke-dasharray="1 140 2 1 2 13 1 175 1 24" stroke-dashoffset="-20"/>
<circle pathLength="360" r="189.63" stroke="#599DC7" stroke-dasharray="1 137 2 2 1 2 1 11 1 177 1 24" stroke-dashoffset="-21"/>
<circle pathLength="360" r="189.63" stroke="#4B7DB5" stroke-dasharray="1 3 1 26 1 8 1 4 2 3 1 2 1 173 1 132" stroke-dashoffset="-127"/>
<circle pathLength="360" r="189.63" stroke="#6577A8" stroke-dasharray="1 53 2 304" stroke-dashoffset="-298"/>
<circle pathLength="360" r="192.21" stroke="#6577A8" stroke-dasharray="1 5 1 5 1 113 2 22 1 12 1 5 2 6 1 125 3 14 1 2 1 4 2 16 2 12" stroke-dashoffset="-6"/>
<circle pathLength="360" r="192.21" stroke="#526AA5" stroke-dasharray="2 7 1 104 1 3 1 25 1 9 2 1 3 1 1 2 1 2 1 131 1 11 2 1 2 28 1 15" stroke-dashoffset="-13"/>
<circle pathLength="360" r="192.21" stroke="#4360A3" stroke-dasharray="1 108 3 27 1 14 1 4 2 1 2 196" stroke-dashoffset="-19"/>
<circle pathLength="360" r="192.21" stroke="#63D6C2" stroke-dasharray="1 359" stroke-dashoffset="-20"/>
<circle pathLength="360" r="192.21" stroke="#599DC7" stroke-dasharray="1 138 2 2 3 189 1 24" stroke-dashoffset="-21"/>
<circle pathLength="360" r="192.21" stroke="#4B7DB5" stroke-dasharray="1 2 2 191 1 163" stroke-dashoffset="-159"/>
<circle pathLength="360" r="194.79" stroke="#4B7DB5" stroke-dasharray="1 8 1 105 2 1 1 42 1 134 1 16 3 24 1 19" stroke-dashoffset="-13"/>
<circle pathLength="360" r="194.79" stroke="#4360A3" stroke-dasharray="1 112 1 5 1 23 2 9 5 2 2 1 4 128 2 12 1 32 1 16" stroke-dashoffset="-14"/>
<circle pathLength="360" r="194.79" stroke="#6577A8" stroke-dasharray="1 359" stroke-dashoffset="-18"/>
<circle pathLength="360" r="194.79" stroke="#67C0DB" stroke-dasharray="1 1 1 138 3 4 1 211" stroke-dashoffset="-19"/>
<circle pathLength="360" r="194.79" stroke="#63D6C2" stroke-dasharray="1 143 3 213" stroke-dashoffset="-20"/>
<circle pathLength="360" r="194.79" stroke="#599DC7" stroke-dasharray="1 28 1 196 1 133" stroke-dashoffset="-130"/>
<circle pathLength="360" r="194.79" stroke="#526AA5" stroke-dasharray="1 40 1 3 1 134 1 12 1 26 1 139" stroke-dashoffset="-132"/>
<circle pathLength="360" r="194.79" stroke="#3DD56F" stroke-dasharray="1 359" stroke-dashoffset="-163"/>
<circle pathLength="360" r="197.37" stroke="#4360A3" stroke-dasharray="1 4 1 153 1 6 1 131 1 13 1 2 1 44" stroke-dashoffset="-13"/>
<circle pathLength="360" r="197.37" stroke="#526AA5" stroke-dasharray="1 113 1 29 1 9 2 1 1 1 2 3 1 1 1 128 2 16 1 25 1 2 2 16" stroke-dashoffset="-14"/>
<circle pathLength="360" r="197.37" stroke="#67C0DB" stroke-dasharray="2 108 1 30 3 216" stroke-dashoffset="-19"/>
<circle pathLength="360" r="197.37" stroke="#599DC7" stroke-dasharray="1 108 1 36 1 213" stroke-dashoffset="-21"/>
<circle pathLength="360" r="197.37" stroke="#4B7DB5" stroke-dasharray="1 27 1 166 1 164" stroke-dashoffset="-131"/>
<circle pathLength="360" r="197.37" stroke="#6577A8" stroke-dasharray="1 24 1 12 1 4 3 130 1 15 1 27 1 139" stroke-dashoffset="-132"/>
<circle pathLength="360" r="197.37" stroke="#63D6C2" stroke-dasharray="4 356" stroke-dashoffset="-163"/>
<circle pathLength="360" r="199.95" stroke="#6577A8" stroke-dasharray="1 162 1 2 1 175 3 15" stroke-dashoffset="-13"/>
<circle pathLength="360" r="199.95" stroke="#526AA5" stroke-dasharray="1 19 1 97 1 24 1 11 1 1 1 5 1 150 1 9 1 14 2 19" stroke-dashoffset="-14"/>
<circle pathLength="360" r="199.95" stroke="#4360A3" stroke-dasharray="1 4 1 135 2 8 1 1 1 1 1 1 2 2 1 130 3 13 1 26 1 24" stroke-dashoffset="-17"/>
<circle pathLength="360" r="199.95" stroke="#599DC7" stroke-dasharray="1 1 2 108 1 247" stroke-dashoffset="-18"/>
<circle pathLength="360" r="199.95" stroke="#67C0DB" stroke-dasharray="1 141 3 2 1 212" stroke-dashoffset="-19"/>
<circle pathLength="360" r="199.95" stroke="#4B7DB5" stroke-dasharray="1 1 1 35 1 5 1 134 1 17 2 161" stroke-dashoffset="-129"/>
<circle pathLength="360" r="199.95" stroke="#63D6C2" stroke-dasharray="1 3 2 354" stroke-dashoffset="-160"/>
<circle pathLength="360" r="202.53" stroke="#4B7DB5" stroke-dasharray="1 1 1 9 1 104 1 25 1 9 1 4 1 1 1 199" stroke-dashoffset="-14"/>
<circle pathLength="360" r="202.53" stroke="#599DC7" stroke-dasharray="1 5 1 108 1 28 1 215" stroke-dashoffset="-15"/>
<circle pathLength="360" r="202.53" stroke="#4360A3" stroke-dasharray="1 9 1 4 3 133 4 1 1 1 1 132 1 16 1 1 2 11 1 11 3 22" stroke-dashoffset="-17"/>
<circle pathLength="360" r="202.53" stroke="#67C0DB" stroke-dasharray="1 1 1 141 1 215" stroke-dashoffset="-18"/>
<circle pathLength="360" r="202.53" stroke="#63D6C2" stroke-dasharray="1 140 2 1 1 2 1 212" stroke-dashoffset="-19"/>
<circle pathLength="360" r="202.53" stroke="#526AA5" stroke-dasharray="1 6 1 5 1 96 1 25 1 150 3 14 1 12 1 1 1 13 2 25" stroke-dashoffset="-22"/>
<circle pathLength="360" r="202.53" stroke="#3DD56F" stroke-dasharray="2 358" stroke-dashoffset="-164"/>
<circle pathLength="360" r="205.11" stroke="#526AA5" stroke-dasharray="1 7 1 6 1 3 1 97 1 16 2 6 1 12 2 1 1 152 1 1 2 24 1 20" stroke-dashoffset="-14"/>
<circle pathLength="360" r="205.11" stroke="#4360A3" stroke-dasharray="1 1 1 5 5 102 1 26 2 9 1 2 1 1 3 132 1 1 1 15 1 14 2 32" stroke-dashoffset="-15"/>
<circle pathLength="360" r="205.11" stroke="#4B7DB5" stroke-dasharray="1 4 1 137 1 7 1 208" stroke-dashoffset="-16"/>
<circle pathLength="360" r="205.11" stroke="#67C0DB" stroke-dasharray="1 141 3 1 1 1 1 211" stroke-dashoffset="-18"/>
<circle pathLength="360" r="205.11" stroke="#3DD56F" stroke-dasharray="1 359" stroke-dashoffset="-19"/>
<circle pathLength="360" r="205.11" stroke="#599DC7" stroke-dasharray="1 144 1 214" stroke-dashoffset="-20"/>
<circle pathLength="360" r="205.11" stroke="#6577A8" stroke-dasharray="1 1 2 114 1 156 1 1 1 30 1 11 1 1 3 35" stroke-dashoffset="-32"/>
<circle pathLength="360" r="205.11" stroke="#63D6C2" stroke-dasharray="1 359" stroke-dashoffset="-163"/>
<circle pathLength="360" r="207.69" stroke="#526AA5" stroke-dasharray="1 2 1 4 2 124 1 2 1 16 1 1 1 2 1 2 1 130 1 4 1 12 2 1 1 12 1 1 1 10 2 18" stroke-dashoffset="-14"/>
<circle pathLength="360" r="207.69" stroke="#4B7DB5" stroke-dasharray="2 3 1 3 1 131 2 217" stroke-dashoffset="-15"/>
<circle pathLength="360" r="207.69" stroke="#599DC7" stroke-dasharray="2 138 1 1 1 1 1 215" stroke-dashoffset="-18"/>
<circle pathLength="360" r="207.69" stroke="#4360A3" stroke-dasharray="1 3 2 122 2 2 1 1 1 11 1 1 1 1 2 1 1 133 4 15 1 25 1 27" stroke-dashoffset="-21"/>
<circle pathLength="360" r="207.69" stroke="#6577A8" stroke-dasharray="1 1 1 20 1 164 1 1 1 9 1 3 1 155" stroke-dashoffset="-152"/>
<circle pathLength="360" r="207.69" stroke="#67C0DB" stroke-dasharray="1 1 1 1 4 352" stroke-dashoffset="-159"/>
<circle pathLength="360" r="210.27" stroke="#6577A8" stroke-dasharray="1 161 1 122 1 1 1 54 1 17" stroke-dashoffset="-14"/>
<circle pathLength="360" r="210.27" stroke="#4360A3" stroke-dasharray="1 4 1 129 3 1 1 14 4 1 2 124 1 6 1 2 4 11 4 24 1 1 1 19" stroke-dashoffset="-15"/>
<circle pathLength="360" r="210.27" stroke="#4B7DB5" stroke-dasharray="1 1 1 130 1 3 1 154 1 45 1 21" stroke-dashoffset="-16"/>
<circle pathLength="360" r="210.27" stroke="#599DC7" stroke-dasharray="1 1 1 135 1 3 3 1 1 2 2 209" stroke-dashoffset="-17"/>
<circle pathLength="360" r="210.27" stroke="#526AA5" stroke-dasharray="4 123 1 19 1 4 1 135 1 19 1 11 3 37" stroke-dashoffset="-21"/>
<circle pathLength="360" r="210.27" stroke="#63D6C2" stroke-dasharray="1 359" stroke-dashoffset="-156"/>
<circle pathLength="360" r="210.27" stroke="#67C0DB" stroke-dasharray="2 3 1 1 2 351" stroke-dashoffset="-157"/>
<circle pathLength="360" r="212.85" stroke="#526AA5" stroke-dasharray="2 3 1 1 1 127 2 19 1 5 1 122 2 6 1 4 1 14 1 1 1 25 1 18" stroke-dashoffset="-14"/>
<circle pathLength="360" r="212.85" stroke="#4360A3" stroke-dasharray="3 1 1 130 2 18 3 134 4 1 1 12 1 3 1 45" stroke-dashoffset="-16"/>
<circle pathLength="360" r="212.85" stroke="#67C0DB" stroke-dasharray="2 7 1 3 1 186 1 159" stroke-dashoffset="-153"/>
<circle pathLength="360" r="212.85" stroke="#63D6C2" stroke-dasharray="1 2 4 353" stroke-dashoffset="-155"/>
<circle pathLength="360" r="212.85" stroke="#3DD56F" stroke-dasharray="2 358" stroke-dashoffset="-156"/>
<circle pathLength="360" r="212.85" stroke="#599DC7" stroke-dasharray="3 1 1 186 1 168" stroke-dashoffset="-163"/>
<circle pathLength="360" r="212.85" stroke="#4B7DB5" stroke-dasharray="1 159 1 199" stroke-dashoffset="-168"/>
<circle pathLength="360" r="212.85" stroke="#6577A8" stroke-dasharray="1 4 2 125 1 12 1 10 1 16 1 5 1 7 1 172" stroke-dashoffset="-169"/>
<circle pathLength="360" r="215.43" stroke="#526AA5" stroke-dasharray="2 5 1 147 1 4 1 1 1 123 2 12 1 11 1 1 1 19 1 25" stroke-dashoffset="-14"/>
<circle pathLength="360" r="215.43" stroke="#4360A3" stroke-dasharray="3 1 1 128 1 1 1 16 1 1 1 1 2 125 1 7 1 5 1 13 1 1 1 1 1 23 1 20" stroke-dashoffset="-16"/>
<circle pathLength="360" r="215.43" stroke="#4B7DB5" stroke-dasharray="1 130 1 20 1 3 1 132 5 17 1 48" stroke-dashoffset="-19"/>
<circle pathLength="360" r="215.43" stroke="#599DC7" stroke-dasharray="1 14 1 344" stroke-dashoffset="-152"/>
<circle pathLength="360" r="215.43" stroke="#67C0DB" stroke-dasharray="1 11 2 346" stroke-dashoffset="-153"/>
<circle pathLength="360" r="215.43" stroke="#3DD56F" stroke-dasharray="1 1 4 2 1 190 1 160" stroke-dashoffset="-154"/>
<circle pathLength="360" r="215.43" stroke="#11C61B" stroke-dasharray="1 4 2 192 1 160" stroke-dashoffset="-155"/>
<circle pathLength="360" r="215.43" stroke="#63D6C2" stroke-dasharray="2 358" stroke-dashoffset="-163"/>
<circle pathLength="360" r="218.01" stroke="#4360A3" stroke-dasharray="1 4 1 149 1 3 2 124 1 6 1 1 1 2 5 10 1 4 1 17 1 24" stroke-dashoffset="-14"/>
<circle pathLength="360" r="218.01" stroke="#526AA5" stroke-dasharray="1 5 1 148 2 129 1 46 1 26" stroke-dashoffset="-15"/>
<circle pathLength="360" r="218.01" stroke="#4B7DB5" stroke-dasharray="3 1 1 129 2 16 1 3 1 2 1 124 1 6 1 2 1 16 4 45" stroke-dashoffset="-16"/>
<circle pathLength="360" r="218.01" stroke="#599DC7" stroke-dasharray="1 156 1 202" stroke-dashoffset="-152"/>
<circle pathLength="360" r="218.01" stroke="#63D6C2" stroke-dasharray="1 11 1 1 1 184 1 160" stroke-dashoffset="-153"/>
<circle pathLength="360" r="218.01" stroke="#11B71A" stroke-dasharray="1 4 3 192 1 159" stroke-dashoffset="-154"/>
<circle pathLength="360" r="218.01" stroke="#3DD56F" stroke-dasharray="4 5 1 1 1 348" stroke-dashoffset="-155"/>
<circle pathLength="360" r="218.01" stroke="#11C61B" stroke-dasharray="2 189 1 168" stroke-dashoffset="-162"/>
<circle pathLength="360" r="218.01" stroke="#67C0DB" stroke-dasharray="1 359" stroke-dashoffset="-355"/>
<circle pathLength="360" r="220.59" stroke="#6577A8" stroke-dasharray="1 6 1 278 2 5 1 6 1 1 1 26 2 3 3 23" stroke-dashoffset="-13"/>
<circle pathLength="360" r="220.59" stroke="#4360A3" stroke-dasharray="2 1 1 132 2 17 1 2 1 1 1 133 1 1 1 18 1 44" stroke-dashoffset="-14"/>
<circle pathLength="360" r="220.59" stroke="#4B7DB5" stroke-dasharray="1 1 1 133 1 154 1 44 1 23" stroke-dashoffset="-16"/>
<circle pathLength="360" r="220.59" stroke="#526AA5" stroke-dasharray="1 1 1 146 1 1 2 1 1 1 1 133 1 1 2 1 1 12 2 1 1 13 3 32" stroke-dashoffset="-19"/>
<circle pathLength="360" r="220.59" stroke="#67C0DB" stroke-dasharray="1 12 1 188 1 157" stroke-dashoffset="-153"/>
<circle pathLength="360" r="220.59" stroke="#63D6C2" stroke-dasharray="1 1 1 1 2 5 1 348" stroke-dashoffset="-154"/>
<circle pathLength="360" r="220.59" stroke="#3DD56F" stroke-dasharray="1 4 1 3 1 189 1 160" stroke-dashoffset="-155"/>
<circle pathLength="360" r="220.59" stroke="#599DC7" stroke-dasharray="1 9 1 349" stroke-dashoffset="-157"/>
<circle pathLength="360" r="220.59" stroke="#11C61B" stroke-dasharray="3 189 1 167" stroke-dashoffset="-161"/>
<circle pathLength="360" r="223.17" stroke="#6577A8" stroke-dasharray="1 6 2 4 1 143 1 1 1 1 1 125 1 8 2 3 1 14 1 11 2 3 3 24" stroke-dashoffset="-13"/>
<circle pathLength="360" r="223.17" stroke="#526AA5" stroke-dasharray="3 1 1 133 1 15 2 1 1 1 1 1 1 132 1 2 3 13 2 14 3 28" stroke-dashoffset="-14"/>
<circle pathLength="360" r="223.17" stroke="#4B7DB5" stroke-dasharray="1 135 1 1 1 2 1 8 1 209" stroke-dashoffset="-17"/>
<circle pathLength="360" r="223.17" stroke="#4360A3" stroke-dasharray="1 131 1 227" stroke-dashoffset="-19"/>
<circle pathLength="360" r="223.17" stroke="#67C0DB" stroke-dasharray="1 5 1 4 1 348" stroke-dashoffset="-154"/>
<circle pathLength="360" r="223.17" stroke="#599DC7" stroke-dasharray="2 8 1 185 1 2 1 160" stroke-dashoffset="-156"/>
<circle pathLength="360" r="223.17" stroke="#63D6C2" stroke-dasharray="1 1 3 355" stroke-dashoffset="-159"/>
<circle pathLength="360" r="223.17" stroke="#3DD56F" stroke-dasharray="1 188 1 170" stroke-dashoffset="-164"/>
<circle pathLength="360" r="223.17" stroke="#11C61B" stroke-dasharray="1 359" stroke-dashoffset="-354"/>
<circle pathLength="360" r="225.75" stroke="#4360A3" stroke-dasharray="1 1 1 1 3 132 1 4 1 10 1 3 4 152 1 17 1 26" stroke-dashoffset="-13"/>
<circle pathLength="360" r="225.75" stroke="#4B7DB5" stroke-dasharray="1 1 1 136 2 1 1 1 1 8 1 3 1 180 1 21" stroke-dashoffset="-14"/>
<circle pathLength="360" r="225.75" stroke="#526AA5" stroke-dasharray="1 20 1 3 1 14 1 143 1 12 1 13 1 1 3 1 3 1 1 138" stroke-dashoffset="-130"/>
<circle pathLength="360" r="225.75" stroke="#6577A8" stroke-dasharray="1 37 1 142 2 177" stroke-dashoffset="-131"/>
<circle pathLength="360" r="225.75" stroke="#599DC7" stroke-dasharray="2 5 1 188 1 163" stroke-dashoffset="-159"/>
<circle pathLength="360" r="225.75" stroke="#67C0DB" stroke-dasharray="2 1 2 355" stroke-dashoffset="-161"/>
<circle pathLength="360" r="225.75" stroke="#63D6C2" stroke-dasharray="1 359" stroke-dashoffset="-163"/>
<circle pathLength="360" r="225.75" stroke="#3DD56F" stroke-dasharray="1 359" stroke-dashoffset="-353"/>
<circle pathLength="360" r="225.75" stroke="#11C61B" stroke-dasharray="1 359" stroke-dashoffset="-354"/>
<circle pathLength="360" r="228.33" stroke="#526AA5" stroke-dasharray="1 2 2 152 1 2 1 140 1 13 1 15 1 1 4 23" stroke-dashoffset="-13"/>
<circle pathLength="360" r="228.33" stroke="#4360A3" stroke-dasharray="2 114 2 19 1 2 3 1 3 7 2 2 1 2 1 151 1 1 1 3 1 1 1 4 1 2 1 1 1 28" stroke-dashoffset="-14"/>
<circle pathLength="360" r="228.33" stroke="#6577A8" stroke-dasharray="1 24 1 155 1 178" stroke-dashoffset="-132"/>
<circle pathLength="360" r="228.33" stroke="#4B7DB5" stroke-dasharray="2 7 1 9 1 2 1 157 1 1 1 15 3 159" stroke-dashoffset="-152"/>
<circle pathLength="360" r="228.33" stroke="#67C0DB" stroke-dasharray="1 359" stroke-dashoffset="-162"/>
<circle pathLength="360" r="228.33" stroke="#599DC7" stroke-dasharray="5 355" stroke-dashoffset="-163"/>
<circle pathLength="360" r="228.33" stroke="#63D6C2" stroke-dasharray="1 359" stroke-dashoffset="-353"/>
<circle pathLength="360" r="228.33" stroke="#11C61B" stroke-dasharray="1 359" stroke-dashoffset="-354"/>
<circle pathLength="360" r="230.91" stroke="#4360A3" stroke-dasharray="2 138 1 6 1 1 1 1 2 3 1 1 1 1 1 157 1 2 3 10 2 2 2 20" stroke-dashoffset="-13"/>
<circle pathLength="360" r="230.91" stroke="#526AA5" stroke-dasharray="2 22 1 1 4 1 1 4 2 4 1 1 1 152 1 1 2 13 3 2 2 139" stroke-dashoffset="-130"/>
<circle pathLength="360" r="230.91" stroke="#6577A8" stroke-dasharray="1 18 1 3 1 12 1 7 1 151 1 11 1 151" stroke-dashoffset="-132"/>
<circle pathLength="360" r="230.91" stroke="#4B7DB5" stroke-dasharray="1 10 1 6 1 4 1 156 1 20 1 158" stroke-dashoffset="-152"/>
<circle pathLength="360" r="230.91" stroke="#599DC7" stroke-dasharray="1 20 1 338" stroke-dashoffset="-333"/>
<circle pathLength="360" r="233.49" stroke="#526AA5" stroke-dasharray="1 142 1 1 1 8 1 6 1 156 1 8 1 10 1 1 1 19" stroke-dashoffset="-12"/>
<circle pathLength="360" r="233.49" stroke="#4360A3" stroke-dasharray="2 139 1 3 3 1 4 2 1 1 1 1 1 154 3 1 1 12 4 3 1 1 1 19" stroke-dashoffset="-13"/>
<circle pathLength="360" r="233.49" stroke="#6577A8" stroke-dasharray="1 359" stroke-dashoffset="-132"/>
<circle pathLength="360" r="233.49" stroke="#4B7DB5" stroke-dasharray="1 5 1 1 1 1 1 164 1 11 1 172" stroke-dashoffset="-161"/>
<circle pathLength="360" r="233.49" stroke="#599DC7" stroke-dasharray="1 359" stroke-dashoffset="-332"/>
<circle pathLength="360" r="233.49" stroke="#3DD56F" stroke-dasharray="1 359" stroke-dashoffset="-333"/>
<circle pathLength="360" r="233.49" stroke="#63D6C2" stroke-dasharray="2 358" stroke-dashoffset="-334"/>
<circle pathLength="360" r="236.07" stroke="#6577A8" stroke-dasharray="1 144 2 1 2 5 1 3 1 200" stroke-dashoffset="-13"/>
<circle pathLength="360" r="236.07" stroke="#526AA5" stroke-dasharray="1 139 2 8 1 2 1 2 1 156 2 1 2 6 1 5 1 1 1 27" stroke-dashoffset="-14"/>
<circle pathLength="360" r="236.07" stroke="#4360A3" stroke-dasharray="1 2 1 1 2 2 1 159 1 6 1 2 1 13 1 166" stroke-dashoffset="-160"/>
<circle pathLength="360" r="236.07" stroke="#4B7DB5" stroke-dasharray="1 173 1 1 2 182" stroke-dashoffset="-171"/>
<circle pathLength="360" r="236.07" stroke="#67C0DB" stroke-dasharray="1 359" stroke-dashoffset="-332"/>
<circle pathLength="360" r="236.07" stroke="#11C61B" stroke-dasharray="2 358" stroke-dashoffset="-333"/>
<circle pathLength="360" r="236.07" stroke="#3DD56F" stroke-dasharray="1 359" stroke-dashoffset="-335"/>
<circle pathLength="360" r="238.65" stroke="#4360A3" stroke-dasharray="2 141 1 10 1 120 1 41 1 1 1 5 2 4 1 1 1 26" stroke-dashoffset="-12"/>
<circle pathLength="360" r="238.65" stroke="#526AA5" stroke-dasharray="1 117 1 153 1 87" stroke-dashoffset="-14"/>
<circle pathLength="360" r="238.65" stroke="#599DC7" stroke-dasharray="1 6 2 173 1 2 1 6 3 165" stroke-dashoffset="-154"/>
<circle pathLength="360" r="238.65" stroke="#4B7DB5" stroke-dasharray="2 3 3 161 2 1 1 187" stroke-dashoffset="-158"/>
<circle pathLength="360" r="238.65" stroke="#67C0DB" stroke-dasharray="1 171 1 11 1 175" stroke-dashoffset="-160"/>
<circle pathLength="360" r="238.65" stroke="#3DD56F" stroke-dasharray="1 1 1 357" stroke-dashoffset="-333"/>
<circle pathLength="360" r="238.65" stroke="#63D6C2" stroke-dasharray="1 359" stroke-dashoffset="-334"/>
<circle pathLength="360" r="241.23" stroke="#526AA5" stroke-dasharray="2 140 2 6 1 124 1 39 1 1 2 1 1 3 3 5 1 3 1 23" stroke-dashoffset="-12"/>
<circle pathLength="360" r="241.23" stroke="#6577A8" stroke-dasharray="2 110 1 25 1 127 1 41 1 14 1 36" stroke-dashoffset="-20"/>
<circle pathLength="360" r="241.23" stroke="#4360A3" stroke-dasharray="1 4 2 165 1 1 3 4 2 3 3 171" stroke-dashoffset="-159"/>
<circle pathLength="360" r="241.23" stroke="#67C0DB" stroke-dasharray="1 359" stroke-dashoffset="-160"/>
<circle pathLength="360" r="241.23" stroke="#4B7DB5" stroke-dasharray="1 1 1 175 1 181" stroke-dashoffset="-161"/>
<circle pathLength="360" r="243.81" stroke="#526AA5" stroke-dasharray="1 8 1 141 1 1 1 161 1 2 1 12 3 26" stroke-dashoffset="-12"/>
<circle pathLength="360" r="243.81" stroke="#6577A8" stroke-dasharray="1 140 2 2 1 128 1 40 2 1 2 1 4 4 1 30" stroke-dashoffset="-13"/>
<circle pathLength="360" r="243.81" stroke="#4360A3" stroke-dasharray="1 141 1 1 1 215" stroke-dashoffset="-20"/>
<circle pathLength="360" r="243.81" stroke="#599DC7" stroke-dasharray="1 1 1 177 1 179" stroke-dashoffset="-159"/>
<circle pathLength="360" r="243.81" stroke="#67C0DB" stroke-dasharray="1 359" stroke-dashoffset="-160"/>
<circle pathLength="360" r="243.81" stroke="#4B7DB5" stroke-dasharray="1 1 2 4 2 350" stroke-dashoffset="-338"/>
<circle pathLength="360" r="246.39" stroke="#526AA5" stroke-dasharray="1 1 1 143 1 175 4 2 1 31" stroke-dashoffset="-19"/>
<circle pathLength="360" r="246.39" stroke="#4360A3" stroke-dasharray="1 137 1 4 1 181 1 34" stroke-dashoffset="-20"/>
<circle pathLength="360" r="246.39" stroke="#6577A8" stroke-dasharray="4 6 1 169 4 176" stroke-dashoffset="-154"/>
<circle pathLength="360" r="246.39" stroke="#67C0DB" stroke-dasharray="3 357" stroke-dashoffset="-159"/>
<circle pathLength="360" r="246.39" stroke="#599DC7" stroke-dasharray="1 176 1 182" stroke-dashoffset="-162"/>
<circle pathLength="360" r="246.39" stroke="#4B7DB5" stroke-dasharray="1 1 1 5 1 351" stroke-dashoffset="-338"/>
<circle pathLength="360" r="248.97" stroke="#526AA5" stroke-dasharray="1 1 1 135 2 6 1 1 1 168 1 1 1 4 1 35" stroke-dashoffset="-17"/>
<circle pathLength="360" r="248.97" stroke="#4360A3" stroke-dasharray="1 1 2 135 1 6 1 172 1 5 2 2 1 30" stroke-dashoffset="-18"/>
<circle pathLength="360" r="248.97" stroke="#67C0DB" stroke-dasharray="1 1 1 178 1 6 1 171" stroke-dashoffset="-158"/>
<circle pathLength="360" r="248.97" stroke="#63D6C2" stroke-dasharray="1 1 1 357" stroke-dashoffset="-159"/>
<circle pathLength="360" r="248.97" stroke="#599DC7" stroke-dasharray="1 175 1 1 1 181" stroke-dashoffset="-162"/>
<circle pathLength="360" r="248.97" stroke="#6577A8" stroke-dasharray="1 6 1 352" stroke-dashoffset="-335"/>
<circle pathLength="360" r="248.97" stroke="#4B7DB5" stroke-dasharray="1 359" stroke-dashoffset="-345"/>
<circle pathLength="360" r="251.55" stroke="#526AA5" stroke-dasharray="2 1 1 135 1 185 2 1 1 2 1 28" stroke-dashoffset="-17"/>
<circle pathLength="360" r="251.55" stroke="#4360A3" stroke-dasharray="1 1 1 135 1 5 1 1 1 175 1 2 1 34" stroke-dashoffset="-19"/>
<circle pathLength="360" r="251.55" stroke="#6577A8" stroke-dasharray="1 8 1 169 3 178" stroke-dashoffset="-155"/>
<circle pathLength="360" r="251.55" stroke="#599DC7" stroke-dasharray="1 181 1 6 1 170" stroke-dashoffset="-158"/>
<circle pathLength="360" r="251.55" stroke="#67C0DB" stroke-dasharray="1 1 2 175 2 179" stroke-dashoffset="-159"/>
<circle pathLength="360" r="251.55" stroke="#63D6C2" stroke-dasharray="1 185 1 173" stroke-dashoffset="-160"/>
<circle pathLength="360" r="251.55" stroke="#4B7DB5" stroke-dasharray="1 359" stroke-dashoffset="-337"/>
<circle pathLength="360" r="254.13" stroke="#6577A8" stroke-dasharray="2 144 1 122 1 22 2 23 2 41" stroke-dashoffset="-17"/>
<circle pathLength="360" r="254.13" stroke="#526AA5" stroke-dasharray="2 135 1 8 1 121 1 48 1 5 1 1 1 34" stroke-dashoffset="-19"/>
<circle pathLength="360" r="254.13" stroke="#4B7DB5" stroke-dasharray="1 4 1 354" stroke-dashoffset="-157"/>
<circle pathLength="360" r="254.13" stroke="#67C0DB" stroke-dasharray="1 2 1 176 2 178" stroke-dashoffset="-158"/>
<circle pathLength="360" r="254.13" stroke="#11C61B" stroke-dasharray="1 359" stroke-dashoffset="-159"/>
<circle pathLength="360" r="254.13" stroke="#3DD56F" stroke-dasharray="1 359" stroke-dashoffset="-160"/>
<circle pathLength="360" r="254.13" stroke="#4360A3" stroke-dasharray="1 176 1 1 1 1 4 175" stroke-dashoffset="-164"/>
<circle pathLength="360" r="254.13" stroke="#599DC7" stroke-dasharray="1 2 1 356" stroke-dashoffset="-337"/>
<circle pathLength="360" r="256.71" stroke="#6577A8" stroke-dasharray="1 6 2 143 2 24 1 9 1 171" stroke-dashoffset="-156"/>
<circle pathLength="360" r="256.71" stroke="#599DC7" stroke-dasharray="2 2 1 177 1 177" stroke-dashoffset="-157"/>
<circle pathLength="360" r="256.71" stroke="#3DD56F" stroke-dasharray="1 359" stroke-dashoffset="-159"/>
<circle pathLength="360" r="256.71" stroke="#11C61B" stroke-dasharray="1 359" stroke-dashoffset="-160"/>
<circle pathLength="360" r="256.71" stroke="#4360A3" stroke-dasharray="1 148 1 24 1 5 1 3 1 1 1 173" stroke-dashoffset="-162"/>
<circle pathLength="360" r="256.71" stroke="#526AA5" stroke-dasharray="2 22 1 24 1 7 1 1 1 1 1 298" stroke-dashoffset="-286"/>
<circle pathLength="360" r="256.71" stroke="#4B7DB5" stroke-dasharray="1 3 1 355" stroke-dashoffset="-337"/>
<circle pathLength="360" r="256.71" stroke="#67C0DB" stroke-dasharray="1 1 1 357" stroke-dashoffset="-338"/>
<circle pathLength="360" r="259.29" stroke="#599DC7" stroke-dasharray="1 179 1 3 1 175" stroke-dashoffset="-157"/>
<circle pathLength="360" r="259.29" stroke="#63D6C2" stroke-dasharray="1 2 1 176 2 178" stroke-dashoffset="-158"/>
<circle pathLength="360" r="259.29" stroke="#11C61B" stroke-dasharray="2 358" stroke-dashoffset="-159"/>
<circle pathLength="360" r="259.29" stroke="#4360A3" stroke-dasharray="1 125 1 20 2 25 1 6 1 1 2 1 1 173" stroke-dashoffset="-162"/>
<circle pathLength="360" r="259.29" stroke="#526AA5" stroke-dasharray="1 95 2 25 1 25 1 22 1 13 1 173" stroke-dashoffset="-163"/>
<circle pathLength="360" r="259.29" stroke="#4B7DB5" stroke-dasharray="1 122 1 23 1 30 1 4 1 176" stroke-dashoffset="-164"/>
<circle pathLength="360" r="259.29" stroke="#6577A8" stroke-dasharray="1 359" stroke-dashoffset="-308"/>
<circle pathLength="360" r="259.29" stroke="#67C0DB" stroke-dasharray="1 359" stroke-dashoffset="-340"/>
<circle pathLength="360" r="261.87" stroke="#6577A8" stroke-dasharray="1 4 3 95 2 1 3 21 1 18 1 1 2 2 1 30 1 1 1 171" stroke-dashoffset="-157"/>
<circle pathLength="360" r="261.87" stroke="#4360A3" stroke-dasharray="1 2 1 180 1 175" stroke-dashoffset="-158"/>
<circle pathLength="360" r="261.87" stroke="#4B7DB5" stroke-dasharray="1 177 1 181" stroke-dashoffset="-159"/>
<circle pathLength="360" r="261.87" stroke="#67C0DB" stroke-dasharray="1 177 1 181" stroke-dashoffset="-160"/>
<circle pathLength="360" r="261.87" stroke="#526AA5" stroke-dasharray="1 2 1 47 2 24 1 9 4 269" stroke-dashoffset="-259"/>
<circle pathLength="360" r="261.87" stroke="#63D6C2" stroke-dasharray="2 358" stroke-dashoffset="-339"/>
<circle pathLength="360" r="261.87" stroke="#599DC7" stroke-dasharray="1 359" stroke-dashoffset="-341"/>
<circle pathLength="360" r="264.45" stroke="#6577A8" stroke-dasharray="2 243 2 1 2 39 1 6 1 22 1 40" stroke-dashoffset="-17"/>
<circle pathLength="360" r="264.45" stroke="#526AA5" stroke-dasharray="2 2 2 95 1 1 1 3 1 40 1 5 1 25 1 4 2 2 1 1 1 168" stroke-dashoffset="-157"/>
<circle pathLength="360" r="264.45" stroke="#4360A3" stroke-dasharray="1 99 1 1 1 46 3 1 1 34 1 1 2 168" stroke-dashoffset="-159"/>
<circle pathLength="360" r="264.45" stroke="#599DC7" stroke-dasharray="1 359" stroke-dashoffset="-160"/>
<circle pathLength="360" r="264.45" stroke="#63D6C2" stroke-dasharray="1 359" stroke-dashoffset="-338"/>
<circle pathLength="360" r="264.45" stroke="#3DD56F" stroke-dasharray="2 358" stroke-dashoffset="-339"/>
<circle pathLength="360" r="264.45" stroke="#67C0DB" stroke-dasharray="1 359" stroke-dashoffset="-341"/>
<circle pathLength="360" r="267.03" stroke="#526AA5" stroke-dasharray="3 101 1 1 3 40 2 5 1 22 1 5 2 6 1 166" stroke-dashoffset="-157"/>
<circle pathLength="360" r="267.03" stroke="#4360A3" stroke-dasharray="1 96 1 1 2 1 1 42 1 2 1 2 2 24 1 9 3 170" stroke-dashoffset="-160"/>
<circle pathLength="360" r="267.03" stroke="#6577A8" stroke-dasharray="1 7 1 351" stroke-dashoffset="-258"/>
<circle pathLength="360" r="267.03" stroke="#599DC7" stroke-dasharray="2 358" stroke-dashoffset="-309"/>
<circle pathLength="360" r="267.03" stroke="#67C0DB" stroke-dasharray="1 2 1 356" stroke-dashoffset="-338"/>
<circle pathLength="360" r="267.03" stroke="#3DD56F" stroke-dasharray="2 358" stroke-dashoffset="-339"/>
<circle pathLength="360" r="269.61" stroke="#6577A8" stroke-dasharray="1 359" stroke-dashoffset="-157"/>
<circle pathLength="360" r="269.61" stroke="#526AA5" stroke-dasharray="1 108 1 37 1 41 1 170" stroke-dashoffset="-158"/>
<circle pathLength="360" r="269.61" stroke="#4360A3" stroke-dasharray="2 88 1 5 1 2 3 1 1 1 2 41 1 3 1 2 1 21 1 6 1 5 2 168" stroke-dashoffset="-159"/>
<circle pathLength="360" r="269.61" stroke="#599DC7" stroke-dasharray="1 8 1 52 1 2 1 28 1 265" stroke-dashoffset="-248"/>
<circle pathLength="360" r="269.61" stroke="#4B7DB5" stroke-dasharray="1 4 1 1 1 2 1 39 1 1 1 3 1 24 2 9 1 267" stroke-dashoffset="-256"/>
<circle pathLength="360" r="269.61" stroke="#63D6C2" stroke-dasharray="1 31 1 327" stroke-dashoffset="-309"/>
<circle pathLength="360" r="269.61" stroke="#11C61B" stroke-dasharray="2 358" stroke-dashoffset="-339"/>
<circle pathLength="360" r="272.19" stroke="#6577A8" stroke-dasharray="1 13 1 73 1 21 1 36 2 29 1 181" stroke-dashoffset="-159"/>
<circle pathLength="360" r="272.19" stroke="#526AA5" stroke-dasharray="1 75 3 1 2 6 1 1 2 1 2 39 1 2 1 26 1 4 1 4 1 185" stroke-dashoffset="-174"/>
<circle pathLength="360" r="272.19" stroke="#4360A3" stroke-dasharray="1 4 1 2 2 2 2 1 1 2 1 45 1 1 1 34 1 258" stroke-dashoffset="-248"/>
<circle pathLength="360" r="272.19" stroke="#4B7DB5" stroke-dasharray="1 8 2 50 1 2 1 25 1 2 1 266" stroke-dashoffset="-249"/>
<circle pathLength="360" r="272.19" stroke="#599DC7" stroke-dasharray="1 359" stroke-dashoffset="-309"/>
<circle pathLength="360" r="272.19" stroke="#67C0DB" stroke-dasharray="2 358" stroke-dashoffset="-340"/>
<circle pathLength="360" r="274.77" stroke="#6577A8" stroke-dasharray="2 94 1 46 1 216" stroke-dashoffset="-172"/>
<circle pathLength="360" r="274.77" stroke="#526AA5" stroke-dasharray="1 71 2 2 1 1 3 8 1 2 1 2 1 36 4 2 1 25 2 3 1 4 1 185" stroke-dashoffset="-174"/>
<circle pathLength="360" r="274.77" stroke="#4B7DB5" stroke-dasharray="2 9 2 1 1 47 2 2 1 26 2 265" stroke-dashoffset="-248"/>
<circle pathLength="360" r="274.77" stroke="#4360A3" stroke-dasharray="4 2 1 5 1 2 1 42 1 2 1 23 1 8 1 265" stroke-dashoffset="-255"/>
<circle pathLength="360" r="277.35" stroke="#6577A8" stroke-dasharray="1 1 1 70 1 1 1 18 1 1 1 37 4 1 1 2 1 217" stroke-dashoffset="-173"/>
<circle pathLength="360" r="277.35" stroke="#526AA5" stroke-dasharray="1 70 1 1 1 6 2 1 2 9 1 1 1 23 1 16 1 1 2 1 2 20 2 8 3 183" stroke-dashoffset="-174"/>
<circle pathLength="360" r="277.35" stroke="#4360A3" stroke-dasharray="1 6 1 3 3 29 2 46 1 1 1 266" stroke-dashoffset="-249"/>
<circle pathLength="360" r="277.35" stroke="#4B7DB5" stroke-dasharray="1 81 1 277" stroke-dashoffset="-259"/>
<circle pathLength="360" r="279.93" stroke="#526AA5" stroke-dasharray="3 70 3 4 4 1 3 1 1 4 4 8 1 1 1 9 2 2 1 12 3 28 2 1 1 5 1 2 1 181" stroke-dashoffset="-173"/>
<circle pathLength="360" r="279.93" stroke="#4360A3" stroke-dasharray="1 11 1 3 1 18 1 12 2 18 6 22 1 8 1 254" stroke-dashoffset="-245"/>
<circle pathLength="360" r="279.93" stroke="#4B7DB5" stroke-dasharray="1 13 1 85 1 259" stroke-dashoffset="-249"/>
<circle pathLength="360" r="279.93" stroke="#6577A8" stroke-dasharray="1 29 1 14 2 313" stroke-dashoffset="-266"/>
<circle pathLength="360" r="282.51" stroke="#526AA5" stroke-dasharray="1 1 1 72 1 4 2 4 4 4 3 1 1 10 1 12 1 14 3 6 1 21 3 189" stroke-dashoffset="-173"/>
<circle pathLength="360" r="282.51" stroke="#4360A3" stroke-dasharray="1 72 1 1 2 4 3 5 1 6 1 8 2 12 2 13 2 4 1 2 1 21 2 7 2 184" stroke-dashoffset="-174"/>
<circle pathLength="360" r="282.51" stroke="#4B7DB5" stroke-dasharray="1 6 1 22 1 9 2 20 1 1 2 1 1 31 1 260" stroke-dashoffset="-251"/>
<circle pathLength="360" r="282.51" stroke="#6577A8" stroke-dasharray="1 13 1 29 1 315" stroke-dashoffset="-252"/>
<circle pathLength="360" r="285.09" stroke="#526AA5" stroke-dasharray="1 72 1 2 1 16 1 2 1 2 2 5 1 2 1 11 1 23 2 29 2 182" stroke-dashoffset="-173"/>
<circle pathLength="360" r="285.09" stroke="#6577A8" stroke-dasharray="2 72 1 1 2 3 3 2 4 1 1 1 2 5 1 5 1 14 2 12 6 24 6 3 1 185" stroke-dashoffset="-174"/>
<circle pathLength="360" r="285.09" stroke="#4360A3" stroke-dasharray="1 10 2 4 1 5 1 10 1 9 3 22 2 289" stroke-dashoffset="-247"/>
<circle pathLength="360" r="285.09" stroke="#4B7DB5" stroke-dasharray="1 43 1 315" stroke-dashoffset="-271"/>
<circle pathLength="360" r="287.67" stroke="#6577A8" stroke-dasharray="1 154 2 87 1 3 2 26 1 14 1 1 1 33 2 31" stroke-dashoffset="-19"/>
<circle pathLength="360" r="287.67" stroke="#4B7DB5" stroke-dasharray="1 73 1 22 1 20 1 241" stroke-dashoffset="-173"/>
<circle pathLength="360" r="287.67" stroke="#4360A3" stroke-dasharray="1 1 1 8 1 2 2 2 3 6 1 5 2 1 1 10 2 19 1 3 1 1 1 21 3 3 2 256" stroke-dashoffset="-246"/>
<circle pathLength="360" r="287.67" stroke="#526AA5" stroke-dasharray="1 6 1 1 2 2 1 6 1 4 2 16 1 18 1 1 1 5 1 19 3 3 1 4 1 258" stroke-dashoffset="-249"/>
<circle pathLength="360" r="287.67" stroke="#67C0DB" stroke-dasharray="1 43 2 314" stroke-dashoffset="-271"/>
<circle pathLength="360" r="287.67" stroke="#599DC7" stroke-dasharray="1 8 1 1 1 33 1 314" stroke-dashoffset="-272"/>
<circle pathLength="360" r="290.25" stroke="#526AA5" stroke-dasharray="1 69 1 1 1 2 1 9 1 2 3 1 2 13 1 9 1 1 1 1 2 16 1 5 1 2 1 21 4 1 1 184" stroke-dashoffset="-173"/>
<circle pathLength="360" r="290.25" stroke="#6577A8" stroke-dasharray="2 84 1 7 2 5 1 35 1 1 1 5 1 19 1 194" stroke-dashoffset="-174"/>
<circle pathLength="360" r="290.25" stroke="#4B7DB5" stroke-dasharray="1 1 2 23 3 8 2 1 1 318" stroke-dashoffset="-244"/>
<circle pathLength="360" r="290.25" stroke="#4360A3" stroke-dasharray="1 1 1 4 1 2 1 2 1 3 1 16 1 1 1 20 1 5 1 19 3 4 1 269" stroke-dashoffset="-257"/>
<circle pathLength="360" r="290.25" stroke="#599DC7" stroke-dasharray="1 2 1 30 2 324" stroke-dashoffset="-281"/>
<circle pathLength="360" r="290.25" stroke="#67C0DB" stroke-dasharray="1 359" stroke-dashoffset="-317"/>
<circle pathLength="360" r="292.83" stroke="#6577A8" stroke-dasharray="1 66 1 4 1 19 1 1 1 19 1 29 1 2 1 212" stroke-dashoffset="-175"/>
<circle pathLength="360" r="292.83" stroke="#4360A3" stroke-dasharray="1 1 1 15 1 9 1 1 1 6 1 5 1 5 1 21 2 2 1 1 1 19 1 262" stroke-dashoffset="-243"/>
<circle pathLength="360" r="292.83" stroke="#4B7DB5" stroke-dasharray="1 19 1 17 1 34 1 25 1 260" stroke-dashoffset="-244"/>
<circle pathLength="360" r="292.83" stroke="#526AA5" stroke-dasharray="1 1 1 11 1 1 2 1 2 1 1 1 1 1 1 1 1 15 2 1 4 24 1 22 5 2 1 254" stroke-dashoffset="-246"/>
<circle pathLength="360" r="292.83" stroke="#599DC7" stroke-dasharray="1 1 3 30 1 24 1 299" stroke-dashoffset="-281"/>
<circle pathLength="360" r="292.83" stroke="#67C0DB" stroke-dasharray="1 359" stroke-dashoffset="-342"/>
<circle pathLength="360" r="295.41" stroke="#599DC7" stroke-dasharray="1 21 1 1 1 15 2 2 3 5 2 22 2 21 1 3 1 6 1 249" stroke-dashoffset="-241"/>
<circle pathLength="360" r="295.41" stroke="#526AA5" stroke-dasharray="1 46 1 29 1 282" stroke-dashoffset="-242"/>
<circle pathLength="360" r="295.41" stroke="#4360A3" stroke-dasharray="3 2 1 11 1 1 1 3 2 22 2 6 1 23 1 22 1 1 1 4 1 250" stroke-dashoffset="-243"/>
<circle pathLength="360" r="295.41" stroke="#4B7DB5" stroke-dasharray="2 13 1 30 1 2 3 18 1 3 1 2 2 21 1 259" stroke-dashoffset="-246"/>
<circle pathLength="360" r="295.41" stroke="#67C0DB" stroke-dasharray="1 19 1 36 1 302" stroke-dashoffset="-264"/>
<circle pathLength="360" r="295.41" stroke="#63D6C2" stroke-dasharray="1 59 1 299" stroke-dashoffset="-283"/>
<circle pathLength="360" r="295.41" stroke="#3DD56F" stroke-dasharray="2 358" stroke-dashoffset="-341"/>
<circle pathLength="360" r="297.99" stroke="#4360A3" stroke-dasharray="1 1 4 16 1 11 1 6 1 7 3 3 1 21 2 26 2 3 1 249" stroke-dashoffset="-240"/>
<circle pathLength="360" r="297.99" stroke="#4B7DB5" stroke-dasharray="1 4 2 12 2 1 3 16 1 9 2 3 2 23 1 278" stroke-dashoffset="-241"/>
<circle pathLength="360" r="297.99" stroke="#526AA5" stroke-dasharray="1 47 1 22 1 27 1 260" stroke-dashoffset="-248"/>
<circle pathLength="360" r="297.99" stroke="#6577A8" stroke-dasharray="1 359" stroke-dashoffset="-273"/>
<circle pathLength="360" r="297.99" stroke="#3DD56F" stroke-dasharray="1 59 1 299" stroke-dashoffset="-283"/>
<circle pathLength="360" r="297.99" stroke="#67C0DB" stroke-dasharray="1 1 1 33 2 322" stroke-dashoffset="-284"/>
<circle pathLength="360" r="297.99" stroke="#63D6C2" stroke-dasharray="1 359" stroke-dashoffset="-285"/>
<circle pathLength="360" r="297.99" stroke="#599DC7" stroke-dasharray="1 6 1 28 2 15 1 3 1 6 1 295" stroke-dashoffset="-287"/>
<circle pathLength="360" r="297.99" stroke="#11C61B" stroke-dasharray="2 358" stroke-dashoffset="-341"/>
<circle pathLength="360" r="300.57" stroke="#526AA5" stroke-dasharray="1 1 2 3 2 13 1 1 1 8 2 16 1 1 1 1 1 3 1 19 1 26 1 5 1 247" stroke-dashoffset="-240"/>
<circle pathLength="360" r="300.57" stroke="#4B7DB5" stroke-dasharray="1 82 1 276" stroke-dashoffset="-241"/>
<circle pathLength="360" r="300.57" stroke="#6577A8" stroke-dasharray="3 16 1 11 1 1 1 11 1 28 1 285" stroke-dashoffset="-244"/>
<circle pathLength="360" r="300.57" stroke="#4360A3" stroke-dasharray="2 39 1 1 1 1 1 2 2 24 1 1 1 25 1 257" stroke-dashoffset="-249"/>
<circle pathLength="360" r="300.57" stroke="#599DC7" stroke-dasharray="5 32 2 18 1 4 1 297" stroke-dashoffset="-283"/>
<circle pathLength="360" r="300.57" stroke="#67C0DB" stroke-dasharray="1 21 1 337" stroke-dashoffset="-322"/>
<circle pathLength="360" r="300.57" stroke="#11C61B" stroke-dasharray="1 359" stroke-dashoffset="-341"/>
<circle pathLength="360" r="300.57" stroke="#11B71A" stroke-dasharray="1 359" stroke-dashoffset="-342"/>
<circle pathLength="360" r="300.57" stroke="#63D6C2" stroke-dasharray="1 359" stroke-dashoffset="-343"/>
<circle pathLength="360" r="303.15" stroke="#526AA5" stroke-dasharray="1 2 1 3 2 28 1 74 2 246" stroke-dashoffset="-240"/>
<circle pathLength="360" r="303.15" stroke="#4360A3" stroke-dasharray="2 3 1 2 2 22 2 1 1 1 1 11 2 1 1 6 1 18 1 6 1 274" stroke-dashoffset="-241"/>
<circle pathLength="360" r="303.15" stroke="#4B7DB5" stroke-dasharray="1 23 1 16 1 1 2 1 1 1 1 1 1 23 1 285" stroke-dashoffset="-251"/>
<circle pathLength="360" r="303.15" stroke="#599DC7" stroke-dasharray="1 3 2 9 1 21 1 322" stroke-dashoffset="-283"/>
<circle pathLength="360" r="303.15" stroke="#63D6C2" stroke-dasharray="3 34 1 22 1 299" stroke-dashoffset="-284"/>
<circle pathLength="360" r="303.15" stroke="#67C0DB" stroke-dasharray="3 15 1 4 1 336" stroke-dashoffset="-322"/>
<circle pathLength="360" r="303.15" stroke="#11B71A" stroke-dasharray="2 358" stroke-dashoffset="-341"/>
<circle pathLength="360" r="303.15" stroke="#3DD56F" stroke-dasharray="1 359" stroke-dashoffset="-343"/>
<circle pathLength="360" r="305.73" stroke="#6577A8" stroke-dasharray="1 37 1 13 1 307" stroke-dashoffset="-241"/>
<circle pathLength="360" r="305.73" stroke="#526AA5" stroke-dasharray="2 1 1 25 1 15 1 3 1 3 3 18 1 6 1 278" stroke-dashoffset="-246"/>
<circle pathLength="360" r="305.73" stroke="#4360A3" stroke-dasharray="1 1 1 22 1 2 3 13 1 1 1 3 1 26 2 281" stroke-dashoffset="-248"/>
<circle pathLength="360" r="305.73" stroke="#599DC7" stroke-dasharray="1 33 1 36 2 287" stroke-dashoffset="-251"/>
<circle pathLength="360" r="305.73" stroke="#4B7DB5" stroke-dasharray="1 9 1 3 1 8 1 23 1 18 1 4 1 288" stroke-dashoffset="-274"/>
<circle pathLength="360" r="305.73" stroke="#67C0DB" stroke-dasharray="2 36 1 321" stroke-dashoffset="-286"/>
<circle pathLength="360" r="305.73" stroke="#63D6C2" stroke-dasharray="1 2 1 356" stroke-dashoffset="-341"/>
<circle pathLength="360" r="305.73" stroke="#11C61B" stroke-dasharray="2 358" stroke-dashoffset="-342"/>
<circle pathLength="360" r="308.31" stroke="#6577A8" stroke-dasharray="1 25 1 1 1 3 1 13 2 3 1 29 1 278" stroke-dashoffset="-246"/>
<circle pathLength="360" r="308.31" stroke="#526AA5" stroke-dasharray="3 1 1 21 1 2 2 1 2 13 2 3 3 305" stroke-dashoffset="-247"/>
<circle pathLength="360" r="308.31" stroke="#4360A3" stroke-dasharray="1 24 1 22 1 23 1 3 1 283" stroke-dashoffset="-250"/>
<circle pathLength="360" r="308.31" stroke="#599DC7" stroke-dasharray="1 1 1 36 2 319" stroke-dashoffset="-284"/>
<circle pathLength="360" r="308.31" stroke="#4B7DB5" stroke-dasharray="1 2 1 36 1 14 1 304" stroke-dashoffset="-285"/>
<circle pathLength="360" r="308.31" stroke="#67C0DB" stroke-dasharray="1 53 1 2 1 302" stroke-dashoffset="-287"/>
<circle pathLength="360" r="308.31" stroke="#3DD56F" stroke-dasharray="1 359" stroke-dashoffset="-342"/>
<circle pathLength="360" r="308.31" stroke="#11C61B" stroke-dasharray="1 359" stroke-dashoffset="-343"/>
<circle pathLength="360" r="310.89" stroke="#6577A8" stroke-dasharray="1 6 1 12 1 1 1 3 1 14 1 11 3 304" stroke-dashoffset="-239"/>
<circle pathLength="360" r="310.89" stroke="#4360A3" stroke-dasharray="3 10 1 16 2 7 1 8 2 2 1 26 2 12 1 4 1 261" stroke-dashoffset="-247"/>
<circle pathLength="360" r="310.89" stroke="#526AA5" stroke-dasharray="1 21 5 2 1 1 1 15 1 2 2 26 1 10 1 270" stroke-dashoffset="-250"/>
<circle pathLength="360" r="310.89" stroke="#4B7DB5" stroke-dasharray="2 3 1 33 1 320" stroke-dashoffset="-284"/>
<circle pathLength="360" r="310.89" stroke="#599DC7" stroke-dasharray="2 35 2 15 1 305" stroke-dashoffset="-287"/>
<circle pathLength="360" r="310.89" stroke="#63D6C2" stroke-dasharray="1 359" stroke-dashoffset="-342"/>
<circle pathLength="360" r="310.89" stroke="#11C61B" stroke-dasharray="1 359" stroke-dashoffset="-343"/>
<circle pathLength="360" r="310.89" stroke="#11B71A" stroke-dasharray="1 359" stroke-dashoffset="-344"/>
<circle pathLength="360" r="313.47" stroke="#526AA5" stroke-dasharray="2 19 2 9 1 24 1 302" stroke-dashoffset="-238"/>
<circle pathLength="360" r="313.47" stroke="#4B7DB5" stroke-dasharray="1 25 3 20 1 2 1 26 1 280" stroke-dashoffset="-247"/>
<circle pathLength="360" r="313.47" stroke="#599DC7" stroke-dasharray="1 36 2 2 1 34 1 16 1 266" stroke-dashoffset="-248"/>
<circle pathLength="360" r="313.47" stroke="#4360A3" stroke-dasharray="1 2 1 3 1 3 1 1 2 3 6 12 1 5 2 21 1 3 3 9 2 277" stroke-dashoffset="-258"/>
<circle pathLength="360" r="313.47" stroke="#6577A8" stroke-dasharray="1 28 1 330" stroke-dashoffset="-264"/>
<circle pathLength="360" r="313.47" stroke="#67C0DB" stroke-dasharray="1 37 1 321" stroke-dashoffset="-287"/>
<circle pathLength="360" r="313.47" stroke="#63D6C2" stroke-dasharray="1 359" stroke-dashoffset="-288"/>
<circle pathLength="360" r="313.47" stroke="#11C61B" stroke-dasharray="1 359" stroke-dashoffset="-342"/>
<circle pathLength="360" r="313.47" stroke="#11B71A" stroke-dasharray="2 358" stroke-dashoffset="-343"/>
<circle pathLength="360" r="316.05" stroke="#526AA5" stroke-dasharray="2 7 1 4 1 2 2 4 1 13 1 4 2 21 2 2 2 2 1 286" stroke-dashoffset="-258"/>
<circle pathLength="360" r="316.05" stroke="#4360A3" stroke-dasharray="1 4 2 1 1 1 2 1 1 5 1 16 1 2 1 29 2 8 3 3 1 274" stroke-dashoffset="-260"/>
<circle pathLength="360" r="316.05" stroke="#6577A8" stroke-dasharray="1 29 1 2 1 326" stroke-dashoffset="-264"/>
<circle pathLength="360" r="316.05" stroke="#4B7DB5" stroke-dasharray="1 4 1 2 2 1 1 6 1 1 1 35 2 302" stroke-dashoffset="-269"/>
<circle pathLength="360" r="316.05" stroke="#599DC7" stroke-dasharray="1 1 1 53 1 303" stroke-dashoffset="-286"/>
<circle pathLength="360" r="316.05" stroke="#3DD56F" stroke-dasharray="2 358" stroke-dashoffset="-343"/>
<circle pathLength="360" r="318.63" stroke="#6577A8" stroke-dasharray="1 38 2 23 2 27 1 266" stroke-dashoffset="-258"/>
<circle pathLength="360" r="318.63" stroke="#526AA5" stroke-dasharray="1 10 2 4 1 2 1 1 1 1 1 16 3 4 3 14 1 2 3 1 1 8 2 277" stroke-dashoffset="-259"/>
<circle pathLength="360" r="318.63" stroke="#4360A3" stroke-dasharray="2 1 1 3 1 1 1 2 1 2 1 1 1 16 1 25 2 3 1 8 1 2 1 2 1 279" stroke-dashoffset="-265"/>
<circle pathLength="360" r="318.63" stroke="#4B7DB5" stroke-dasharray="1 1 1 3 1 1 1 14 1 336" stroke-dashoffset="-267"/>
<circle pathLength="360" r="318.63" stroke="#599DC7" stroke-dasharray="1 9 2 53 1 294" stroke-dashoffset="-278"/>
<circle pathLength="360" r="318.63" stroke="#67C0DB" stroke-dasharray="1 359" stroke-dashoffset="-344"/>
<circle pathLength="360" r="321.21" stroke="#4B7DB5" stroke-dasharray="2 1 3 2 2 2 1 1 2 3 1 3 1 11 1 24 1 3 2 10 2 282" stroke-dashoffset="-265"/>
<circle pathLength="360" r="321.21" stroke="#599DC7" stroke-dasharray="1 3 2 5 1 4 1 7 1 335" stroke-dashoffset="-267"/>
<circle pathLength="360" r="321.21" stroke="#4360A3" stroke-dasharray="2 5 1 9 1 4 1 1 1 7 3 14 1 1 1 1 1 2 1 7 1 3 2 6 1 283" stroke-dashoffset="-275"/>
<circle pathLength="360" r="321.21" stroke="#67C0DB" stroke-dasharray="1 7 2 350" stroke-dashoffset="-281"/>
<circle pathLength="360" r="321.21" stroke="#526AA5" stroke-dasharray="1 2 2 19 2 3 1 12 1 11 1 305" stroke-dashoffset="-298"/>
<circle pathLength="360" r="323.79" stroke="#4360A3" stroke-dasharray="1 2 4 1 2 1 1 1 2 4 2 13 1 1 1 7 1 15 1 2 1 1 2 6 1 3 1 9 1 272" stroke-dashoffset="-265"/>
<circle pathLength="360" r="323.79" stroke="#4B7DB5" stroke-dasharray="1 5 1 2 1 1 1 3 1 47 1 296" stroke-dashoffset="-266"/>
<circle pathLength="360" r="323.79" stroke="#67C0DB" stroke-dasharray="1 71 1 287" stroke-dashoffset="-267"/>
<circle pathLength="360" r="323.79" stroke="#599DC7" stroke-dasharray="1 2 1 356" stroke-dashoffset="-280"/>
<circle pathLength="360" r="323.79" stroke="#526AA5" stroke-dasharray="1 8 1 8 1 1 1 4 2 15 1 1 1 13 1 301" stroke-dashoffset="-282"/>
<circle pathLength="360" r="323.79" stroke="#6577A8" stroke-dasharray="1 13 1 9 1 335" stroke-dashoffset="-327"/>
<circle pathLength="360" r="326.37" stroke="#4B7DB5" stroke-dasharray="1 5 2 1 4 1 1 2 1 1 1 15 1 8 1 16 3 296" stroke-dashoffset="-265"/>
<circle pathLength="360" r="326.37" stroke="#67C0DB" stroke-dasharray="2 13 1 58 1 285" stroke-dashoffset="-266"/>
<circle pathLength="360" r="326.37" stroke="#599DC7" stroke-dasharray="1 1 1 7 1 4 1 17 1 6 1 15 2 3 2 11 1 285" stroke-dashoffset="-268"/>
<circle pathLength="360" r="326.37" stroke="#4360A3" stroke-dasharray="1 15 1 13 1 2 1 28 1 297" stroke-dashoffset="-269"/>
<circle pathLength="360" r="326.37" stroke="#63D6C2" stroke-dasharray="1 57 2 300" stroke-dashoffset="-280"/>
<circle pathLength="360" r="326.37" stroke="#526AA5" stroke-dasharray="1 359" stroke-dashoffset="-286"/>
<circle pathLength="360" r="326.37" stroke="#3DD56F" stroke-dasharray="1 359" stroke-dashoffset="-341"/>
<circle pathLength="360" r="328.95" stroke="#4B7DB5" stroke-dasharray="1 3 3 5 2 1 1 42 6 296" stroke-dashoffset="-266"/>
<circle pathLength="360" r="328.95" stroke="#4360A3" stroke-dasharray="3 4 4 4 4 15 1 8 1 19 1 1 1 9 1 284" stroke-dashoffset="-267"/>
<circle pathLength="360" r="328.95" stroke="#63D6C2" stroke-dasharray="1 57 1 301" stroke-dashoffset="-280"/>
<circle pathLength="360" r="328.95" stroke="#526AA5" stroke-dasharray="1 13 1 1 1 5 2 21 1 314" stroke-dashoffset="-286"/>
<circle pathLength="360" r="328.95" stroke="#3DD56F" stroke-dasharray="1 359" stroke-dashoffset="-339"/>
<circle pathLength="360" r="328.95" stroke="#67C0DB" stroke-dasharray="2 358" stroke-dashoffset="-340"/>
<circle pathLength="360" r="331.53" stroke="#526AA5" stroke-dasharray="1 27 1 6 3 4 2 1 2 5 1 8 1 29 3 8 1 257" stroke-dashoffset="-240"/>
<circle pathLength="360" r="331.53" stroke="#6577A8" stroke-dasharray="1 22 1 4 2 3 1 6 1 2 1 2 1 14 1 23 2 2 1 270" stroke-dashoffset="-241"/>
<circle pathLength="360" r="331.53" stroke="#4360A3" stroke-dasharray="1 1 1 3 2 6 1 29 1 18 2 7 1 287" stroke-dashoffset="-265"/>
<circle pathLength="360" r="331.53" stroke="#4B7DB5" stroke-dasharray="1 11 1 1 1 29 1 315" stroke-dashoffset="-266"/>
<circle pathLength="360" r="331.53" stroke="#63D6C2" stroke-dasharray="1 2 1 356" stroke-dashoffset="-338"/>
<circle pathLength="360" r="331.53" stroke="#3DD56F" stroke-dasharray="2 358" stroke-dashoffset="-339"/>
<circle pathLength="360" r="334.11" stroke="#526AA5" stroke-dasharray="3 10 2 7 2 1 1 1 1 3 1 11 1 25 2 1 1 287" stroke-dashoffset="-260"/>
<circle pathLength="360" r="334.11" stroke="#4360A3" stroke-dasharray="2 4 3 3 3 2 2 2 1 1 1 5 1 16 1 1 1 16 1 5 1 7 1 280" stroke-dashoffset="-263"/>
<circle pathLength="360" r="334.11" stroke="#4B7DB5" stroke-dasharray="1 2 1 3 1 37 1 22 1 3 1 287" stroke-dashoffset="-265"/>
<circle pathLength="360" r="334.11" stroke="#3DD56F" stroke-dasharray="2 73 1 284" stroke-dashoffset="-266"/>
<circle pathLength="360" r="334.11" stroke="#6577A8" stroke-dasharray="1 13 1 28 1 316" stroke-dashoffset="-288"/>
<circle pathLength="360" r="334.11" stroke="#63D6C2" stroke-dasharray="1 359" stroke-dashoffset="-338"/>
<circle pathLength="360" r="334.11" stroke="#10A519" stroke-dasharray="1 359" stroke-dashoffset="-339"/>
<circle pathLength="360" r="334.11" stroke="#11B71A" stroke-dasharray="1 359" stroke-dashoffset="-340"/>
<circle pathLength="360" r="336.69" stroke="#6577A8" stroke-dasharray="1 32 1 14 1 41 1 269" stroke-dashoffset="-241"/>
<circle pathLength="360" r="336.69" stroke="#526AA5" stroke-dasharray="1 17 1 9 1 1 1 2 1 1 1 3 5 1 2 13 1 1 1 4 1 1 1 17 2 1 1 2 1 6 1 259" stroke-dashoffset="-242"/>
<circle pathLength="360" r="336.69" stroke="#4360A3" stroke-dasharray="3 5 1 1 1 1 1 6 1 5 1 16 1 6 1 22 2 286" stroke-dashoffset="-261"/>
<circle pathLength="360" r="336.69" stroke="#4B7DB5" stroke-dasharray="1 3 1 7 1 60 1 286" stroke-dashoffset="-264"/>
<circle pathLength="360" r="336.69" stroke="#599DC7" stroke-dasharray="1 359" stroke-dashoffset="-265"/>
<circle pathLength="360" r="336.69" stroke="#3DD56F" stroke-dasharray="1 71 1 287" stroke-dashoffset="-266"/>
<circle pathLength="360" r="336.69" stroke="#63D6C2" stroke-dasharray="1 359" stroke-dashoffset="-267"/>
<circle pathLength="360" r="336.69" stroke="#11B71A" stroke-dasharray="2 358" stroke-dashoffset="-339"/>
<circle pathLength="360" r="336.69" stroke="#67C0DB" stroke-dasharray="1 359" stroke-dashoffset="-341"/>
<circle pathLength="360" r="339.27" stroke="#6577A8" stroke-dasharray="1 62 1 4 1 21 1 269" stroke-dashoffset="-241"/>
<circle pathLength="360" r="339.27" stroke="#4360A3" stroke-dasharray="1 4 3 5 3 9 2 1 5 21 2 304" stroke-dashoffset="-256"/>
<circle pathLength="360" r="339.27" stroke="#526AA5" stroke-dasharray="2 13 2 1 1 2 1 2 1 5 1 13 1 26 1 1 1 1 1 7 1 276" stroke-dashoffset="-259"/>
<circle pathLength="360" r="339.27" stroke="#599DC7" stroke-dasharray="1 1 2 8 1 347" stroke-dashoffset="-264"/>
<circle pathLength="360" r="339.27" stroke="#4B7DB5" stroke-dasharray="1 2 1 3 2 59 1 1 1 1 1 287" stroke-dashoffset="-265"/>
<circle pathLength="360" r="339.27" stroke="#63D6C2" stroke-dasharray="1 359" stroke-dashoffset="-338"/>
<circle pathLength="360" r="339.27" stroke="#10A519" stroke-dasharray="2 358" stroke-dashoffset="-339"/>
<circle pathLength="360" r="339.27" stroke="#67C0DB" stroke-dasharray="1 359" stroke-dashoffset="-341"/>
<circle pathLength="360" r="341.85" stroke="#526AA5" stroke-dasharray="3 5 1 3 3 1 5 1 4 1 1 2 1 1 2 4 1 9 2 5 2 22 1 17 1 262" stroke-dashoffset="-255"/>
<circle pathLength="360" r="341.85" stroke="#4360A3" stroke-dasharray="3 2 2 3 1 5 1 4 1 1 2 1 1 2 1 43 1 1 1 1 1 4 1 277" stroke-dashoffset="-260"/>
<circle pathLength="360" r="341.85" stroke="#599DC7" stroke-dasharray="1 359" stroke-dashoffset="-264"/>
<circle pathLength="360" r="341.85" stroke="#6577A8" stroke-dasharray="1 14 1 22 1 18 1 302" stroke-dashoffset="-294"/>
<circle pathLength="360" r="341.85" stroke="#63D6C2" stroke-dasharray="1 2 1 356" stroke-dashoffset="-338"/>
<circle pathLength="360" r="341.85" stroke="#11B71A" stroke-dasharray="1 359" stroke-dashoffset="-339"/>
<circle pathLength="360" r="341.85" stroke="#10A519" stroke-dasharray="1 359" stroke-dashoffset="-340"/>
<circle pathLength="360" r="344.43" stroke="#526AA5" stroke-dasharray="1 2 1 5 1 5 1 3 1 1 1 2 4 1 1 10 1 14 1 1 2 301" stroke-dashoffset="-254"/>
<circle pathLength="360" r="344.43" stroke="#4360A3" stroke-dasharray="2 8 1 4 3 1 1 1 1 5 1 1 2 1 1 1 1 5 1 55 1 263" stroke-dashoffset="-255"/>
<circle pathLength="360" r="344.43" stroke="#6577A8" stroke-dasharray="1 48 1 41 1 268" stroke-dashoffset="-261"/>
<circle pathLength="360" r="344.43" stroke="#4B7DB5" stroke-dasharray="1 1 3 8 1 8 1 1 1 48 1 286" stroke-dashoffset="-264"/>
<circle pathLength="360" r="344.43" stroke="#63D6C2" stroke-dasharray="1 2 1 356" stroke-dashoffset="-338"/>
<circle pathLength="360" r="344.43" stroke="#11C61B" stroke-dasharray="1 359" stroke-dashoffset="-339"/>
<circle pathLength="360" r="344.43" stroke="#11B71A" stroke-dasharray="1 359" stroke-dashoffset="-340"/>
<circle pathLength="360" r="347.01" stroke="#526AA5" stroke-dasharray="1 3 1 355" stroke-dashoffset="-241"/>
<circle pathLength="360" r="347.01" stroke="#4B7DB5" stroke-dasharray="1 1 1 1 3 6 2 7 1 2 1 4 1 1 8 1 2 2 1 1 1 6 1 40 1 264" stroke-dashoffset="-242"/>
<circle pathLength="360" r="347.01" stroke="#4360A3" stroke-dasharray="1 9 2 16 1 1 1 8 1 2 2 1 1 6 1 14 3 290" stroke-dashoffset="-243"/>
<circle pathLength="360" r="347.01" stroke="#599DC7" stroke-dasharray="2 42 1 315" stroke-dashoffset="-265"/>
<circle pathLength="360" r="347.01" stroke="#63D6C2" stroke-dasharray="1 2 1 356" stroke-dashoffset="-338"/>
<circle pathLength="360" r="347.01" stroke="#3DD56F" stroke-dasharray="1 359" stroke-dashoffset="-339"/>
<circle pathLength="360" r="347.01" stroke="#11B71A" stroke-dasharray="1 359" stroke-dashoffset="-340"/>
<circle pathLength="360" r="349.59" stroke="#4360A3" stroke-dasharray="2 1 1 1 1 6 2 1 1 9 1 6 3 1 3 7 2 1 1 6 1 12 2 1 1 24 1 262" stroke-dashoffset="-240"/>
<circle pathLength="360" r="349.59" stroke="#4B7DB5" stroke-dasharray="1 1 1 1 3 5 1 20 1 6 4 316" stroke-dashoffset="-242"/>
<circle pathLength="360" r="349.59" stroke="#526AA5" stroke-dasharray="1 2 2 2 1 7 3 6 1 22 1 312" stroke-dashoffset="-264"/>
<circle pathLength="360" r="349.59" stroke="#67C0DB" stroke-dasharray="1 72 1 286" stroke-dashoffset="-266"/>
<circle pathLength="360" r="349.59" stroke="#599DC7" stroke-dasharray="1 359" stroke-dashoffset="-338"/>
<circle pathLength="360" r="349.59" stroke="#63D6C2" stroke-dasharray="2 358" stroke-dashoffset="-340"/>
<circle pathLength="360" r="352.17" stroke="#526AA5" stroke-dasharray="1 5 1 21 1 1 1 4 2 7 1 2 1 21 4 287" stroke-dashoffset="-240"/>
<circle pathLength="360" r="352.17" stroke="#4B7DB5" stroke-dasharray="1 9 1 13 2 21 1 312" stroke-dashoffset="-241"/>
<circle pathLength="360" r="352.17" stroke="#4360A3" stroke-dasharray="1 4 2 4 3 11 1 4 3 2 4 4 2 50 2 1 1 10 1 250" stroke-dashoffset="-242"/>
<circle pathLength="360" r="352.17" stroke="#6577A8" stroke-dasharray="1 6 1 18 1 11 1 70 1 250" stroke-dashoffset="-243"/>
<circle pathLength="360" r="352.17" stroke="#599DC7" stroke-dasharray="1 18 1 67 1 272" stroke-dashoffset="-252"/>
<circle pathLength="360" r="354.75" stroke="#526AA5" stroke-dasharray="1 6 2 20 1 8 1 1 1 6 2 21 1 27 2 11 1 248" stroke-dashoffset="-240"/>
<circle pathLength="360" r="354.75" stroke="#599DC7" stroke-dasharray="1 359" stroke-dashoffset="-241"/>
<circle pathLength="360" r="354.75" stroke="#4360A3" stroke-dasharray="1 7 1 2 2 10 1 1 2 1 1 2 1 1 3 1 1 6 1 24 2 24 1 14 1 249" stroke-dashoffset="-242"/>
<circle pathLength="360" r="354.75" stroke="#6577A8" stroke-dasharray="1 37 1 321" stroke-dashoffset="-243"/>
<circle pathLength="360" r="354.75" stroke="#67C0DB" stroke-dasharray="2 18 1 339" stroke-dashoffset="-251"/>
<circle pathLength="360" r="354.75" stroke="#4B7DB5" stroke-dasharray="1 5 1 1 1 351" stroke-dashoffset="-266"/>
<circle pathLength="360" r="357.33" stroke="#4360A3" stroke-dasharray="2 1 1 32 1 2 3 57 2 259" stroke-dashoffset="-239"/>
<circle pathLength="360" r="357.33" stroke="#599DC7" stroke-dasharray="1 8 1 15 1 1 1 43 1 288" stroke-dashoffset="-241"/>
<circle pathLength="360" r="357.33" stroke="#63D6C2" stroke-dasharray="1 19 1 339" stroke-dashoffset="-251"/>
<circle pathLength="360" r="357.33" stroke="#67C0DB" stroke-dasharray="1 14 1 4 1 339" stroke-dashoffset="-252"/>
<circle pathLength="360" r="357.33" stroke="#4B7DB5" stroke-dasharray="2 2 2 11 1 1 1 17 2 3 1 25 1 291" stroke-dashoffset="-269"/>
<circle pathLength="360" r="357.33" stroke="#526AA5" stroke-dasharray="1 9 1 349" stroke-dashoffset="-277"/>
<circle pathLength="360" r="359.91" stroke="#4360A3" stroke-dasharray="3 8 1 22 3 12 1 17 1 5 1 24 1 1 1 259" stroke-dashoffset="-239"/>
<circle pathLength="360" r="359.91" stroke="#4B7DB5" stroke-dasharray="2 16 1 41 1 299" stroke-dashoffset="-251"/>
<circle pathLength="360" r="359.91" stroke="#599DC7" stroke-dasharray="2 4 1 353" stroke-dashoffset="-266"/>
<circle pathLength="360" r="359.91" stroke="#63D6C2" stroke-dasharray="1 359" stroke-dashoffset="-268"/>
<circle pathLength="360" r="359.91" stroke="#526AA5" stroke-dasharray="1 10 3 23 1 30 1 291" stroke-dashoffset="-270"/>
<circle pathLength="360" r="359.91" stroke="#67C0DB" stroke-dasharray="1 359" stroke-dashoffset="-271"/>
<circle pathLength="360" r="362.49" stroke="#526AA5" stroke-dasharray="1 29 3 2 1 6 1 1 1 19 1 7 1 25 3 259" stroke-dashoffset="-239"/>
<circle pathLength="360" r="362.49" stroke="#4360A3" stroke-dasharray="1 20 2 28 1 9 1 298" stroke-dashoffset="-251"/>
<circle pathLength="360" r="362.49" stroke="#4B7DB5" stroke-dasharray="1 359" stroke-dashoffset="-267"/>
<circle pathLength="360" r="362.49" stroke="#599DC7" stroke-dasharray="1 359" stroke-dashoffset="-268"/>
<circle pathLength="360" r="362.49" stroke="#6577A8" stroke-dasharray="1 1 1 5 1 47 1 303" stroke-dashoffset="-280"/>
<circle pathLength="360" r="365.07" stroke="#4B7DB5" stroke-dasharray="1 359" stroke-dashoffset="-268"/>
<circle pathLength="360" r="365.07" stroke="#526AA5" stroke-dasharray="2 7 1 2 1 4 2 12 1 8 1 1 1 23 2 292" stroke-dashoffset="-271"/>
<circle pathLength="360" r="365.07" stroke="#4360A3" stroke-dasharray="2 37 1 23 1 296" stroke-dashoffset="-273"/>
<circle pathLength="360" r="365.07" stroke="#6577A8" stroke-dasharray="2 7 1 350" stroke-dashoffset="-281"/>
<circle pathLength="360" r="367.65" stroke="#4360A3" stroke-dasharray="2 14 2 47 1 294" stroke-dashoffset="-273"/>
<circle pathLength="360" r="367.65" stroke="#6577A8" stroke-dasharray="1 1 1 30 1 326" stroke-dashoffset="-280"/>
<circle pathLength="360" r="367.65" stroke="#526AA5" stroke-dasharray="1 1 1 27 2 23 1 304" stroke-dashoffset="-281"/>
<circle pathLength="360" r="367.65" stroke="#4B7DB5" stroke-dasharray="1 359" stroke-dashoffset="-337"/>
<circle pathLength="360" r="370.23" stroke="#6577A8" stroke-dasharray="2 27 1 5 1 1 1 21 2 5 3 23 1 267" stroke-dashoffset="-245"/>
<circle pathLength="360" r="370.23" stroke="#526AA5" stroke-dasharray="1 1 1 357" stroke-dashoffset="-281"/>
<circle pathLength="360" r="372.81" stroke="#4360A3" stroke-dasharray="1 36 2 20 1 8 1 291" stroke-dashoffset="-245"/>
<circle pathLength="360" r="372.81" stroke="#526AA5" stroke-dasharray="1 28 1 1 1 3 1 23 1 300" stroke-dashoffset="-246"/>
<circle pathLength="360" r="372.81" stroke="#4B7DB5" stroke-dasharray="1 359" stroke-dashoffset="-276"/>
<circle pathLength="360" r="375.39" stroke="#4B7DB5" stroke-dasharray="3 26 1 2 2 5 1 320" stroke-dashoffset="-244"/>
<circle pathLength="360" r="375.39" stroke="#4360A3" stroke-dasharray="2 37 1 320" stroke-dashoffset="-274"/>
<circle pathLength="360" r="375.39" stroke="#599DC7" stroke-dasharray="1 359" stroke-dashoffset="-282"/>
<circle pathLength="360" r="377.97" stroke="#4360A3" stroke-dasharray="1 28 1 10 1 319" stroke-dashoffset="-244"/>
<circle pathLength="360" r="377.97" stroke="#6577A8" stroke-dasharray="1 31 1 7 1 27 1 291" stroke-dashoffset="-245"/>
<circle pathLength="360" r="377.97" stroke="#526AA5" stroke-dasharray="2 26 3 5 2 322" stroke-dashoffset="-246"/>
<circle pathLength="360" r="380.55" stroke="#4360A3" stroke-dasharray="1 3 1 30 1 33 2 289" stroke-dashoffset="-243"/>
<circle pathLength="360" r="380.55" stroke="#4B7DB5" stroke-dasharray="1 1 1 29 1 6 3 318" stroke-dashoffset="-244"/>
<circle pathLength="360" r="380.55" stroke="#599DC7" stroke-dasharray="1 28 2 1 1 327" stroke-dashoffset="-245"/>
<circle pathLength="360" r="383.13" stroke="#526AA5" stroke-dasharray="2 5 1 34 1 1 1 26 1 288" stroke-dashoffset="-241"/>
<circle pathLength="360" r="383.13" stroke="#4360A3" stroke-dasharray="1 30 3 1 1 5 1 318" stroke-dashoffset="-243"/>
<circle pathLength="360" r="383.13" stroke="#4B7DB5" stroke-dasharray="3 30 1 326" stroke-dashoffset="-244"/>
<circle pathLength="360" r="383.13" stroke="#6577A8" stroke-dasharray="1 65 1 293" stroke-dashoffset="-247"/>
<circle pathLength="360" r="385.71" stroke="#6577A8" stroke-dasharray="2 70 1 287" stroke-dashoffset="-240"/>
<circle pathLength="360" r="385.71" stroke="#4360A3" stroke-dasharray="1 5 1 1 1 24 1 2 1 323" stroke-dashoffset="-242"/>
<circle pathLength="360" r="385.71" stroke="#4B7DB5" stroke-dasharray="3 357" stroke-dashoffset="-243"/>
<circle pathLength="360" r="385.71" stroke="#526AA5" stroke-dasharray="2 1 1 24 1 1 1 6 3 27 1 292" stroke-dashoffset="-246"/>
<circle pathLength="360" r="385.71" stroke="#599DC7" stroke-dasharray="1 359" stroke-dashoffset="-277"/>
<circle pathLength="360" r="388.29" stroke="#6577A8" stroke-dasharray="1 32 1 1 2 8 1 314" stroke-dashoffset="-240"/>
<circle pathLength="360" r="388.29" stroke="#526AA5" stroke-dasharray="1 4 1 1 2 24 1 4 1 3 2 316" stroke-dashoffset="-241"/>
<circle pathLength="360" r="388.29" stroke="#4360A3" stroke-dasharray="2 3 1 354" stroke-dashoffset="-242"/>
<circle pathLength="360" r="388.29" stroke="#4B7DB5" stroke-dasharray="1 33 1 325" stroke-dashoffset="-244"/>
<circle pathLength="360" r="388.29" stroke="#599DC7" stroke-dasharray="1 31 1 327" stroke-dashoffset="-245"/>
<circle pathLength="360" r="390.87" stroke="#526AA5" stroke-dasharray="1 8 1 16 1 7 1 4 1 320" stroke-dashoffset="-240"/>
<circle pathLength="360" r="390.87" stroke="#4360A3" stroke-dasharray="2 3 3 16 1 9 1 4 1 3 1 316" stroke-dashoffset="-241"/>
<circle pathLength="360" r="390.87" stroke="#599DC7" stroke-dasharray="2 358" stroke-dashoffset="-243"/>
<circle pathLength="360" r="390.87" stroke="#67C0DB" stroke-dasharray="1 31 2 326" stroke-dashoffset="-245"/>
<circle pathLength="360" r="390.87" stroke="#4B7DB5" stroke-dasharray="1 8 1 350" stroke-dashoffset="-276"/>
<circle pathLength="360" r="393.45" stroke="#526AA5" stroke-dasharray="1 5 3 15 2 2 1 11 1 5 1 313" stroke-dashoffset="-240"/>
<circle pathLength="360" r="393.45" stroke="#4360A3" stroke-dasharray="1 33 1 3 1 5 1 315" stroke-dashoffset="-241"/>
<circle pathLength="360" r="393.45" stroke="#599DC7" stroke-dasharray="3 33 1 323" stroke-dashoffset="-242"/>
<circle pathLength="360" r="393.45" stroke="#4B7DB5" stroke-dasharray="1 30 1 328" stroke-dashoffset="-245"/>
<circle pathLength="360" r="393.45" stroke="#6577A8" stroke-dasharray="2 358" stroke-dashoffset="-266"/>
<circle pathLength="360" r="393.45" stroke="#67C0DB" stroke-dasharray="1 359" stroke-dashoffset="-277"/>
<circle pathLength="360" r="396.03" stroke="#6577A8" stroke-dasharray="1 24 1 6 1 8 1 318" stroke-dashoffset="-240"/>
<circle pathLength="360" r="396.03" stroke="#4B7DB5" stroke-dasharray="1 2 1 31 2 323" stroke-dashoffset="-241"/>
<circle pathLength="360" r="396.03" stroke="#599DC7" stroke-dasharray="2 34 1 323" stroke-dashoffset="-242"/>
<circle pathLength="360" r="396.03" stroke="#4360A3" stroke-dasharray="2 19 1 8 1 3 1 5 2 318" stroke-dashoffset="-245"/>
<circle pathLength="360" r="396.03" stroke="#526AA5" stroke-dasharray="2 18 2 11 1 326" stroke-dashoffset="-247"/>
<circle pathLength="360" r="398.61" stroke="#6577A8" stroke-dasharray="2 2 1 1 1 1 1 23 2 3 1 3 2 3 1 313" stroke-dashoffset="-239"/>
<circle pathLength="360" r="398.61" stroke="#4360A3" stroke-dasharray="1 36 1 8 1 313" stroke-dashoffset="-241"/>
<circle pathLength="360" r="398.61" stroke="#4B7DB5" stroke-dasharray="1 359" stroke-dashoffset="-242"/>
<circle pathLength="360" r="398.61" stroke="#526AA5" stroke-dasharray="1 1 1 28 1 1 1 1 1 6 1 317" stroke-dashoffset="-244"/>
<circle pathLength="360" r="401.19" stroke="#4B7DB5" stroke-dasharray="1 6 1 26 1 2 2 3 1 5 1 1 1 309" stroke-dashoffset="-239"/>
<circle pathLength="360" r="401.19" stroke="#4360A3" stroke-dasharray="1 2 3 1 1 22 3 5 2 2 1 3 1 1 1 311" stroke-dashoffset="-240"/>
<circle pathLength="360" r="401.19" stroke="#67C0DB" stroke-dasharray="1 359" stroke-dashoffset="-241"/>
<circle pathLength="360" r="401.19" stroke="#599DC7" stroke-dasharray="1 31 2 326" stroke-dashoffset="-242"/>
<circle pathLength="360" r="401.19" stroke="#526AA5" stroke-dasharray="1 359" stroke-dashoffset="-280"/>
<circle pathLength="360" r="403.77" stroke="#4360A3" stroke-dasharray="4 1 1 25 1 7 2 1 2 4 1 311" stroke-dashoffset="-239"/>
<circle pathLength="360" r="403.77" stroke="#526AA5" stroke-dasharray="1 1 1 23 1 2 2 6 1 5 1 2 1 313" stroke-dashoffset="-243"/>
<circle pathLength="360" r="403.77" stroke="#4B7DB5" stroke-dasharray="1 24 1 2 1 2 1 10 1 317" stroke-dashoffset="-246"/>
<circle pathLength="360" r="403.77" stroke="#599DC7" stroke-dasharray="1 359" stroke-dashoffset="-275"/>
<circle pathLength="360" r="403.77" stroke="#67C0DB" stroke-dasharray="1 359" stroke-dashoffset="-276"/>
<circle pathLength="360" r="406.35" stroke="#526AA5" stroke-dasharray="1 39 1 2 1 6 2 308" stroke-dashoffset="-238"/>
<circle pathLength="360" r="406.35" stroke="#4360A3" stroke-dasharray="2 2 4 14 1 8 1 8 2 1 1 316" stroke-dashoffset="-239"/>
<circle pathLength="360" r="406.35" stroke="#4B7DB5" stroke-dasharray="2 28 3 3 1 9 1 313" stroke-dashoffset="-241"/>
<circle pathLength="360" r="406.35" stroke="#599DC7" stroke-dasharray="1 1 1 357" stroke-dashoffset="-274"/>
<circle pathLength="360" r="406.35" stroke="#67C0DB" stroke-dasharray="1 359" stroke-dashoffset="-275"/>
<circle pathLength="360" r="408.93" stroke="#4360A3" stroke-dasharray="1 3 3 26 1 1 2 2 1 3 1 316" stroke-dashoffset="-238"/>
<circle pathLength="360" r="408.93" stroke="#4B7DB5" stroke-dasharray="3 30 1 5 3 318" stroke-dashoffset="-239"/>
<circle pathLength="360" r="408.93" stroke="#526AA5" stroke-dasharray="1 359" stroke-dashoffset="-245"/>
<circle pathLength="360" r="408.93" stroke="#599DC7" stroke-dasharray="2 358" stroke-dashoffset="-275"/>
<circle pathLength="360" r="411.51" stroke="#526AA5" stroke-dasharray="1 38 1 320" stroke-dashoffset="-238"/>
<circle pathLength="360" r="411.51" stroke="#4B7DB5" stroke-dasharray="1 359" stroke-dashoffset="-239"/>
<circle pathLength="360" r="411.51" stroke="#4360A3" stroke-dasharray="1 1 2 3 3 350" stroke-dashoffset="-272"/>
<circle pathLength="360" r="411.51" stroke="#6577A8" stroke-dasharray="1 359" stroke-dashoffset="-273"/>
<circle pathLength="360" r="414.09" stroke="#6577A8" stroke-dasharray="1 36 1 322" stroke-dashoffset="-237"/>
<circle pathLength="360" r="414.09" stroke="#4360A3" stroke-dasharray="1 8 1 350" stroke-dashoffset="-280"/>
<circle pathLength="360" r="414.09" stroke="#4B7DB5" stroke-dasharray="1 359" stroke-dashoffset="-281"/>
<circle pathLength="360" r="414.09" stroke="#526AA5" stroke-dasharray="1 5 1 353" stroke-dashoffset="-282"/>
<circle pathLength="360" r="416.67" stroke="#4360A3" stroke-dasharray="3 357" stroke-dashoffset="-280"/>
<circle pathLength="360" r="416.67" stroke="#526AA5" stroke-dasharray="2 358" stroke-dashoffset="-288"/>
<circle pathLength="360" r="419.25" stroke="#6577A8" stroke-dasharray="1 359" stroke-dashoffset="-241"/>
<circle pathLength="360" r="419.25" stroke="#4360A3" stroke-dasharray="2 358" stroke-dashoffset="-281"/>
<circle pathLength="360" r="419.25" stroke="#526AA5" stroke-dasharray="1 359" stroke-dashoffset="-283"/>
<circle pathLength="360" r="421.83" stroke="#4360A3" stroke-dasharray="1 39 2 318" stroke-dashoffset="-241"/>
<circle pathLength="360" r="421.83" stroke="#526AA5" stroke-dasharray="1 40 1 318" stroke-dashoffset="-242"/>
<circle pathLength="360" r="424.41" stroke="#526AA5" stroke-dasharray="1 1 1 39 3 315" stroke-dashoffset="-240"/>
<circle pathLength="360" r="424.41" stroke="#4B7DB5" stroke-dasharray="1 359" stroke-dashoffset="-241"/>
<circle pathLength="360" r="426.99" stroke="#6577A8" stroke-dasharray="1 4 1 2 1 351" stroke-dashoffset="-234"/>
<circle pathLength="360" r="426.99" stroke="#4B7DB5" stroke-dasharray="2 358" stroke-dashoffset="-240"/>
<circle pathLength="360" r="426.99" stroke="#4360A3" stroke-dasharray="1 4 1 354" stroke-dashoffset="-277"/>
<circle pathLength="360" r="426.99" stroke="#526AA5" stroke-dasharray="1 359" stroke-dashoffset="-283"/>
<circle pathLength="360" r="429.57" stroke="#526AA5" stroke-dasharray="2 4 3 36 1 314" stroke-dashoffset="-233"/>
<circle pathLength="360" r="429.57" stroke="#4B7DB5" stroke-dasharray="1 359" stroke-dashoffset="-277"/>
<circle pathLength="360" r="429.57" stroke="#6577A8" stroke-dasharray="1 359" stroke-dashoffset="-279"/>
<circle pathLength="360" r="432.15" stroke="#526AA5" stroke-dasharray="1 14 2 343" stroke-dashoffset="-225"/>
<circle pathLength="360" r="432.15" stroke="#6577A8" stroke-dasharray="1 359" stroke-dashoffset="-278"/>
<circle pathLength="360" r="434.73" stroke="#526AA5" stroke-dasharray="1 359" stroke-dashoffset="-224"/>
<circle pathLength="360" r="434.73" stroke="#6577A8" stroke-dasharray="1 69 3 287" stroke-dashoffset="-225"/>
<circle pathLength="360" r="437.31" stroke="#4B7DB5" stroke-dasharray="2 63 1 294" stroke-dashoffset="-230"/>
<circle pathLength="360" r="437.31" stroke="#6577A8" stroke-dasharray="1 359" stroke-dashoffset="-296"/>
<circle pathLength="360" r="437.31" stroke="#4360A3" stroke-dasharray="2 358" stroke-dashoffset="-297"/>
<circle pathLength="360" r="439.89" stroke="#6577A8" stroke-dasharray="1 2 1 356" stroke-dashoffset="-294"/>
<circle pathLength="360" r="439.89" stroke="#526AA5" stroke-dasharray="2 358" stroke-dashoffset="-295"/>
<circle pathLength="360" r="442.47" stroke="#526AA5" stroke-dasharray="1 359" stroke-dashoffset="-294"/>
<circle pathLength="360" r="442.47" stroke="#4360A3" stroke-dasharray="2 358" stroke-dashoffset="-295"/>
<circle pathLength="360" r="445.05" stroke="#526AA5" stroke-dasharray="1 54 1 304" stroke-dashoffset="-240"/>
<circle pathLength="360" r="445.05" stroke="#6577A8" stroke-dasharray="1 359" stroke-dashoffset="-294"/>
<circle pathLength="360" r="445.05" stroke="#4360A3" stroke-dasharray="1 359" stroke-dashoffset="-296"/>
<circle pathLength="360" r="447.63" stroke="#526AA5" stroke-dasharray="1 56 1 302" stroke-dashoffset="-238"/>
<circle pathLength="360" r="447.63" stroke="#4360A3" stroke-dasharray="1 56 1 302" stroke-dashoffset="-239"/>
<circle pathLength="360" r="447.63" stroke="#4B7DB5" stroke-dasharray="1 359" stroke-dashoffset="-240"/>
<circle pathLength="360" r="447.63" stroke="#6577A8" stroke-dasharray="1 359" stroke-dashoffset="-294"/>
<circle pathLength="360" r="450.21" stroke="#6577A8" stroke-dasharray="6 53 1 300" stroke-dashoffset="-236"/>
<circle pathLength="360" r="450.21" stroke="#4360A3" stroke-dasharray="1 359" stroke-dashoffset="-296"/>
<circle pathLength="360" r="452.79" stroke="#6577A8" stroke-dasharray="1 2 1 2 1 353" stroke-dashoffset="-236"/>
<circle pathLength="360" r="452.79" stroke="#4360A3" stroke-dasharray="1 59 1 299" stroke-dashoffset="-237"/>
<circle pathLength="360" r="452.79" stroke="#526AA5" stroke-dasharray="1 1 2 53 2 301" stroke-dashoffset="-238"/>
<circle pathLength="360" r="455.37" stroke="#6577A8" stroke-dasharray="4 54 2 1 1 298" stroke-dashoffset="-237"/>
<circle pathLength="360" r="455.37" stroke="#526AA5" stroke-dasharray="1 359" stroke-dashoffset="-297"/>
<circle pathLength="360" r="457.95" stroke="#526AA5" stroke-dasharray="2 5 1 53 2 297" stroke-dashoffset="-236"/>
<circle pathLength="360" r="457.95" stroke="#4360A3" stroke-dasharray="1 359" stroke-dashoffset="-238"/>
<circle pathLength="360" r="457.95" stroke="#6577A8" stroke-dasharray="1 359" stroke-dashoffset="-244"/>
<circle pathLength="360" r="457.95" stroke="#4B7DB5" stroke-dasharray="1 359" stroke-dashoffset="-296"/>
<circle pathLength="360" r="460.53" stroke="#526AA5" stroke-dasharray="1 61 1 297" stroke-dashoffset="-235"/>
<circle pathLength="360" r="460.53" stroke="#4360A3" stroke-dasharray="2 4 3 53 1 297" stroke-dashoffset="-236"/>
<circle pathLength="360" r="463.11" stroke="#4360A3" stroke-dasharray="1 4 1 1 2 351" stroke-dashoffset="-236"/>
<circle pathLength="360" r="463.11" stroke="#526AA5" stroke-dasharray="1 4 1 354" stroke-dashoffset="-237"/>
<circle pathLength="360" r="465.69" stroke="#6577A8" stroke-dasharray="6 354" stroke-dashoffset="-240"/>
<circle pathLength="360" r="468.27" stroke="#67C0DB" stroke-dasharray="3 357" stroke-dashoffset="-240"/>
<circle pathLength="360" r="468.27" stroke="#4B7DB5" stroke-dasharray="1 359" stroke-dashoffset="-243"/>
<circle pathLength="360" r="470.85" stroke="#4360A3" stroke-dasharray="1 1 1 357" stroke-dashoffset="-240"/>
<circle pathLength="360" r="470.85" stroke="#4B7DB5" stroke-dasharray="1 359" stroke-dashoffset="-241"/>
<circle pathLength="360" r="473.43" stroke="#526AA5" stroke-dasharray="1 359" stroke-dashoffset="-240"/>
<circle pathLength="360" r="473.43" stroke="#4360A3" stroke-dasharray="1 359" stroke-dashoffset="-241"/>
<circle pathLength="360" r="473.43" stroke="#6577A8" stroke-dasharray="1 359" stroke-dashoffset="-242"/>
<circle pathLength="360" r="476.01" stroke="#4360A3" stroke-dasharray="1 359" stroke-dashoffset="-240"/>
<circle pathLength="360" r="476.01" stroke="#526AA5" stroke-dasharray="1 359" stroke-dashoffset="-241"/>
<circle pathLength="360" r="476.01" stroke="#599DC7" stroke-dasharray="1 359" stroke-dashoffset="-346"/>
<circle pathLength="360" r="478.59" stroke="#6577A8" stroke-dasharray="1 359" stroke-dashoffset="-240"/>
<circle pathLength="360" r="478.59" stroke="#4B7DB5" stroke-dasharray="1 359" stroke-dashoffset="-345"/>
<circle pathLength="360" r="478.59" stroke="#67C0DB" stroke-dasharray="2 358" stroke-dashoffset="-346"/>
<circle pathLength="360" r="481.17" stroke="#4360A3" stroke-dasharray="1 359" stroke-dashoffset="-345"/>
<circle pathLength="360" r="481.17" stroke="#4B7DB5" stroke-dasharray="1 359" stroke-dashoffset="-346"/>
<circle pathLength="360" r="481.17" stroke="#526AA5" stroke-dasharray="2 358" stroke-dashoffset="-347"/>
<circle pathLength="360" r="483.75" stroke="#599DC7" stroke-dasharray="1 1 1 357" stroke-dashoffset="-345"/>
<circle pathLength="360" r="483.75" stroke="#4B7DB5" stroke-dasharray="1 1 1 357" stroke-dashoffset="-346"/>
<circle pathLength="360" r="486.33" stroke="#63D6C2" stroke-dasharray="1 359" stroke-dashoffset="-344"/>
<circle pathLength="360" r="486.33" stroke="#67C0DB" stroke-dasharray="2 1 1 356" stroke-dashoffset="-345"/>
<circle pathLength="360" r="486.33" stroke="#599DC7" stroke-dasharray="1 1 1 357" stroke-dashoffset="-347"/>
<circle pathLength="360" r="488.91" stroke="#63D6C2" stroke-dasharray="1 359" stroke-dashoffset="-344"/>
<circle pathLength="360" r="488.91" stroke="#67C0DB" stroke-dasharray="1 359" stroke-dashoffset="-345"/>
<circle pathLength="360" r="488.91" stroke="#599DC7" stroke-dasharray="3 357" stroke-dashoffset="-346"/>
<circle pathLength="360" r="491.49" stroke="#63D6C2" stroke-dasharray="1 359" stroke-dashoffset="-344"/>
<circle pathLength="360" r="491.49" stroke="#67C0DB" stroke-dasharray="1 359" stroke-dashoffset="-345"/>
<circle pathLength="360" r="491.49" stroke="#599DC7" stroke-dasharray="3 357" stroke-dashoffset="-346"/>
<circle pathLength="360" r="494.07" stroke="#63D6C2" stroke-dasharray="1 1 2 356" stroke-dashoffset="-344"/>
<circle pathLength="360" r="494.07" stroke="#67C0DB" stroke-dasharray="1 2 1 356" stroke-dashoffset="-345"/>
<circle pathLength="360" r="494.07" stroke="#4360A3" stroke-dasharray="2 2 1 355" stroke-dashoffset="-349"/>
<circle pathLength="360" r="494.07" stroke="#526AA5" stroke-dasharray="1 359" stroke-dashoffset="-352"/>
<circle pathLength="360" r="496.65" stroke="#3DD56F" stroke-dasharray="2 358" stroke-dashoffset="-343"/>
<circle pathLength="360" r="496.65" stroke="#67C0DB" stroke-dasharray="2 358" stroke-dashoffset="-345"/>
<circle pathLength="360" r="496.65" stroke="#599DC7" stroke-dasharray="1 359" stroke-dashoffset="-347"/>
<circle pathLength="360" r="496.65" stroke="#4B7DB5" stroke-dasharray="2 358" stroke-dashoffset="-348"/>
<circle pathLength="360" r="496.65" stroke="#4360A3" stroke-dasharray="1 1 2 356" stroke-dashoffset="-350"/>
<circle pathLength="360" r="496.65" stroke="#526AA5" stroke-dasharray="1 359" stroke-dashoffset="-351"/>
<circle pathLength="360" r="496.65" stroke="#6577A8" stroke-dasharray="1 359" stroke-dashoffset="-354"/>
<circle pathLength="360" r="499.23" stroke="#599DC7" stroke-dasharray="1 5 1 353" stroke-dashoffset="-340"/>
<circle pathLength="360" r="499.23" stroke="#63D6C2" stroke-dasharray="1 359" stroke-dashoffset="-342"/>
<circle pathLength="360" r="499.23" stroke="#11C61B" stroke-dasharray="2 358" stroke-dashoffset="-343"/>
<circle pathLength="360" r="499.23" stroke="#67C0DB" stroke-dasharray="1 359" stroke-dashoffset="-345"/>
<circle pathLength="360" r="499.23" stroke="#4360A3" stroke-dasharray="4 1 2 353" stroke-dashoffset="-347"/>
<circle pathLength="360" r="499.23" stroke="#526AA5" stroke-dasharray="1 359" stroke-dashoffset="-351"/>
<circle pathLength="360" r="499.23" stroke="#6577A8" stroke-dasharray="1 359" stroke-dashoffset="-354"/>
<circle pathLength="360" r="501.81" stroke="#526AA5" stroke-dasharray="1 121 1 237" stroke-dashoffset="-231"/>
<circle pathLength="360" r="501.81" stroke="#67C0DB" stroke-dasharray="1 5 1 353" stroke-dashoffset="-340"/>
<circle pathLength="360" r="501.81" stroke="#3DD56F" stroke-dasharray="1 3 1 355" stroke-dashoffset="-341"/>
<circle pathLength="360" r="501.81" stroke="#11C61B" stroke-dasharray="1 1 1 357" stroke-dashoffset="-342"/>
<circle pathLength="360" r="501.81" stroke="#11B71A" stroke-dasharray="1 359" stroke-dashoffset="-343"/>
<circle pathLength="360" r="501.81" stroke="#4360A3" stroke-dasharray="1 1 4 354" stroke-dashoffset="-347"/>
<circle pathLength="360" r="501.81" stroke="#4B7DB5" stroke-dasharray="1 359" stroke-dashoffset="-348"/>
<circle pathLength="360" r="501.81" stroke="#6577A8" stroke-dasharray="1 359" stroke-dashoffset="-354"/>
<circle pathLength="360" r="504.39" stroke="#526AA5" stroke-dasharray="2 90 1 10 1 256" stroke-dashoffset="-247"/>
<circle pathLength="360" r="504.39" stroke="#63D6C2" stroke-dasharray="1 359" stroke-dashoffset="-340"/>
<circle pathLength="360" r="504.39" stroke="#3DD56F" stroke-dasharray="1 2 1 356" stroke-dashoffset="-341"/>
<circle pathLength="360" r="504.39" stroke="#11C61B" stroke-dasharray="1 359" stroke-dashoffset="-342"/>
<circle pathLength="360" r="504.39" stroke="#11B71A" stroke-dasharray="1 359" stroke-dashoffset="-343"/>
<circle pathLength="360" r="504.39" stroke="#67C0DB" stroke-dasharray="1 359" stroke-dashoffset="-345"/>
<circle pathLength="360" r="504.39" stroke="#599DC7" stroke-dasharray="1 359" stroke-dashoffset="-346"/>
<circle pathLength="360" r="504.39" stroke="#4360A3" stroke-dasharray="1 1 1 1 2 354" stroke-dashoffset="-347"/>
<circle pathLength="360" r="504.39" stroke="#4B7DB5" stroke-dasharray="1 359" stroke-dashoffset="-348"/>
<circle pathLength="360" r="504.39" stroke="#6577A8" stroke-dasharray="1 359" stroke-dashoffset="-353"/>
<circle pathLength="360" r="506.97" stroke="#6577A8" stroke-dasharray="1 92 1 7 7 252" stroke-dashoffset="-246"/>
<circle pathLength="360" r="506.97" stroke="#526AA5" stroke-dasharray="1 359" stroke-dashoffset="-247"/>
<circle pathLength="360" r="506.97" stroke="#599DC7" stroke-dasharray="1 4 1 354" stroke-dashoffset="-340"/>
<circle pathLength="360" r="506.97" stroke="#67C0DB" stroke-dasharray="1 359" stroke-dashoffset="-341"/>
<circle pathLength="360" r="506.97" stroke="#11C61B" stroke-dasharray="1 359" stroke-dashoffset="-342"/>
<circle pathLength="360" r="506.97" stroke="#63D6C2" stroke-dasharray="1 359" stroke-dashoffset="-343"/>
<circle pathLength="360" r="506.97" stroke="#3DD56F" stroke-dasharray="1 359" stroke-dashoffset="-344"/>
<circle pathLength="360" r="506.97" stroke="#4B7DB5" stroke-dasharray="1 359" stroke-dashoffset="-346"/>
<circle pathLength="360" r="509.55" stroke="#6577A8" stroke-dasharray="1 94 1 264" stroke-dashoffset="-244"/>
<circle pathLength="360" r="509.55" stroke="#4360A3" stroke-dasharray="1 102 2 255" stroke-dashoffset="-245"/>
<circle pathLength="360" r="509.55" stroke="#526AA5" stroke-dasharray="2 99 1 2 4 252" stroke-dashoffset="-246"/>
<circle pathLength="360" r="509.55" stroke="#63D6C2" stroke-dasharray="1 359" stroke-dashoffset="-340"/>
<circle pathLength="360" r="509.55" stroke="#11C61B" stroke-dasharray="1 359" stroke-dashoffset="-341"/>
<circle pathLength="360" r="509.55" stroke="#3DD56F" stroke-dasharray="3 357" stroke-dashoffset="-342"/>
<circle pathLength="360" r="509.55" stroke="#599DC7" stroke-dasharray="2 358" stroke-dashoffset="-345"/>
<circle pathLength="360" r="512.13" stroke="#526AA5" stroke-dasharray="5 99 1 1 3 251" stroke-dashoffset="-244"/>
<circle pathLength="360" r="512.13" stroke="#63D6C2" stroke-dasharray="2 358" stroke-dashoffset="-340"/>
<circle pathLength="360" r="512.13" stroke="#11C61B" stroke-dasharray="1 359" stroke-dashoffset="-342"/>
<circle pathLength="360" r="512.13" stroke="#3DD56F" stroke-dasharray="2 358" stroke-dashoffset="-343"/>
<circle pathLength="360" r="512.13" stroke="#67C0DB" stroke-dasharray="1 359" stroke-dashoffset="-345"/>
<circle pathLength="360" r="512.13" stroke="#4360A3" stroke-dasharray="2 358" stroke-dashoffset="-346"/>
<circle pathLength="360" r="512.13" stroke="#6577A8" stroke-dasharray="1 3 1 355" stroke-dashoffset="-349"/>
<circle pathLength="360" r="514.71" stroke="#526AA5" stroke-dasharray="1 1 1 99 1 1 1 3 2 250" stroke-dashoffset="-244"/>
<circle pathLength="360" r="514.71" stroke="#4B7DB5" stroke-dasharray="1 103 2 254" stroke-dashoffset="-245"/>
<circle pathLength="360" r="514.71" stroke="#4360A3" stroke-dasharray="2 98 1 3 1 255" stroke-dashoffset="-247"/>
<circle pathLength="360" r="514.71" stroke="#63D6C2" stroke-dasharray="1 359" stroke-dashoffset="-340"/>
<circle pathLength="360" r="514.71" stroke="#3DD56F" stroke-dasharray="1 359" stroke-dashoffset="-341"/>
<circle pathLength="360" r="514.71" stroke="#11B71A" stroke-dasharray="1 359" stroke-dashoffset="-342"/>
<circle pathLength="360" r="514.71" stroke="#11C61B" stroke-dasharray="2 358" stroke-dashoffset="-343"/>
<circle pathLength="360" r="514.71" stroke="#67C0DB" stroke-dasharray="1 359" stroke-dashoffset="-345"/>
<circle pathLength="360" r="517.29" stroke="#6577A8" stroke-dasharray="1 2 1 97 1 2 1 2 1 252" stroke-dashoffset="-245"/>
<circle pathLength="360" r="517.29" stroke="#526AA5" stroke-dasharray="1 101 1 257" stroke-dashoffset="-246"/>
<circle pathLength="360" r="517.29" stroke="#4360A3" stroke-dasharray="1 99 1 259" stroke-dashoffset="-247"/>
<circle pathLength="360" r="517.29" stroke="#67C0DB" stroke-dasharray="1 359" stroke-dashoffset="-340"/>
<circle pathLength="360" r="517.29" stroke="#3DD56F" stroke-dasharray="2 1 1 356" stroke-dashoffset="-341"/>
<circle pathLength="360" r="517.29" stroke="#11C61B" stroke-dasharray="1 359" stroke-dashoffset="-343"/>
<circle pathLength="360" r="517.29" stroke="#599DC7" stroke-dasharray="1 359" stroke-dashoffset="-345"/>
<circle pathLength="360" r="517.29" stroke="#4B7DB5" stroke-dasharray="2 358" stroke-dashoffset="-350"/>
<circle pathLength="360" r="519.87" stroke="#3DD56F" stroke-dasharray="1 359" stroke-dashoffset="-340"/>
<circle pathLength="360" r="519.87" stroke="#11B71A" stroke-dasharray="1 359" stroke-dashoffset="-341"/>
<circle pathLength="360" r="519.87" stroke="#11C61B" stroke-dasharray="2 358" stroke-dashoffset="-342"/>
<circle pathLength="360" r="519.87" stroke="#67C0DB" stroke-dasharray="1 5 2 352" stroke-dashoffset="-344"/>
<circle pathLength="360" r="519.87" stroke="#4B7DB5" stroke-dasharray="1 359" stroke-dashoffset="-345"/>
<circle pathLength="360" r="519.87" stroke="#526AA5" stroke-dasharray="2 4 1 353" stroke-dashoffset="-346"/>
<circle pathLength="360" r="522.45" stroke="#3DD56F" stroke-dasharray="1 10 1 348" stroke-dashoffset="-340"/>
<circle pathLength="360" r="522.45" stroke="#10A519" stroke-dasharray="3 357" stroke-dashoffset="-341"/>
<circle pathLength="360" r="522.45" stroke="#63D6C2" stroke-dasharray="1 359" stroke-dashoffset="-344"/>
<circle pathLength="360" r="522.45" stroke="#599DC7" stroke-dasharray="1 6 1 352" stroke-dashoffset="-345"/>
<circle pathLength="360" r="522.45" stroke="#526AA5" stroke-dasharray="1 359" stroke-dashoffset="-346"/>
<circle pathLength="360" r="525.03" stroke="#526AA5" stroke-dasharray="1 359" stroke-dashoffset="-339"/>
<circle pathLength="360" r="525.03" stroke="#11C61B" stroke-dasharray="1 2 1 356" stroke-dashoffset="-340"/>
<circle pathLength="360" r="525.03" stroke="#0F9118" stroke-dasharray="1 359" stroke-dashoffset="-341"/>
<circle pathLength="360" r="525.03" stroke="#10A519" stroke-dasharray="1 359" stroke-dashoffset="-342"/>
<circle pathLength="360" r="525.03" stroke="#3DD56F" stroke-dasharray="1 6 1 352" stroke-dashoffset="-344"/>
<circle pathLength="360" r="525.03" stroke="#67C0DB" stroke-dasharray="1 359" stroke-dashoffset="-352"/>
<circle pathLength="360" r="527.61" stroke="#6577A8" stroke-dasharray="1 359" stroke-dashoffset="-339"/>
<circle pathLength="360" r="527.61" stroke="#63D6C2" stroke-dasharray="1 359" stroke-dashoffset="-340"/>
<circle pathLength="360" r="527.61" stroke="#11B71A" stroke-dasharray="2 358" stroke-dashoffset="-341"/>
<circle pathLength="360" r="527.61" stroke="#3DD56F" stroke-dasharray="1 359" stroke-dashoffset="-343"/>
<circle pathLength="360" r="527.61" stroke="#599DC7" stroke-dasharray="1 5 1 1 1 351" stroke-dashoffset="-344"/>
<circle pathLength="360" r="527.61" stroke="#67C0DB" stroke-dasharray="1 359" stroke-dashoffset="-351"/>
<circle pathLength="360" r="530.19" stroke="#4360A3" stroke-dasharray="1 359" stroke-dashoffset="-339"/>
<circle pathLength="360" r="530.19" stroke="#3DD56F" stroke-dasharray="1 359" stroke-dashoffset="-340"/>
<circle pathLength="360" r="530.19" stroke="#10A519" stroke-dasharray="2 358" stroke-dashoffset="-341"/>
<circle pathLength="360" r="530.19" stroke="#11B71A" stroke-dasharray="1 359" stroke-dashoffset="-343"/>
<circle pathLength="360" r="530.19" stroke="#63D6C2" stroke-dasharray="1 6 1 352" stroke-dashoffset="-344"/>
<circle pathLength="360" r="530.19" stroke="#599DC7" stroke-dasharray="1 359" stroke-dashoffset="-349"/>
<circle pathLength="360" r="530.19" stroke="#67C0DB" stroke-dasharray="1 1 1 357" stroke-dashoffset="-350"/>
<circle pathLength="360" r="532.77" stroke="#4360A3" stroke-dasharray="1 359" stroke-dashoffset="-339"/>
<circle pathLength="360" r="532.77" stroke="#3DD56F" stroke-dasharray="1 359" stroke-dashoffset="-340"/>
<circle pathLength="360" r="532.77" stroke="#0F9118" stroke-dasharray="1 359" stroke-dashoffset="-341"/>
<circle pathLength="360" r="532.77" stroke="#10A519" stroke-dasharray="1 359" stroke-dashoffset="-342"/>
<circle pathLength="360" r="532.77" stroke="#11B71A" stroke-dasharray="1 359" stroke-dashoffset="-343"/>
<circle pathLength="360" r="532.77" stroke="#63D6C2" stroke-dasharray="1 5 2 352" stroke-dashoffset="-344"/>
<circle pathLength="360" r="532.77" stroke="#67C0DB" stroke-dasharray="1 2 1 356" stroke-dashoffset="-349"/>
<circle pathLength="360" r="535.35" stroke="#67C0DB" stroke-dasharray="1 10 1 348" stroke-dashoffset="-338"/>
<circle pathLength="360" r="535.35" stroke="#4B7DB5" stroke-dasharray="1 359" stroke-dashoffset="-339"/>
<circle pathLength="360" r="535.35" stroke="#11C61B" stroke-dasharray="1 359" stroke-dashoffset="-340"/>
<circle pathLength="360" r="535.35" stroke="#11B71A" stroke-dasharray="1 1 1 357" stroke-dashoffset="-341"/>
<circle pathLength="360" r="535.35" stroke="#10A519" stroke-dasharray="1 359" stroke-dashoffset="-342"/>
<circle pathLength="360" r="535.35" stroke="#3DD56F" stroke-dasharray="1 6 1 352" stroke-dashoffset="-344"/>
<circle pathLength="360" r="535.35" stroke="#599DC7" stroke-dasharray="1 359" stroke-dashoffset="-345"/>
<circle pathLength="360" r="535.35" stroke="#63D6C2" stroke-dasharray="1 1 1 357" stroke-dashoffset="-350"/>
<circle pathLength="360" r="537.93" stroke="#4360A3" stroke-dasharray="1 359" stroke-dashoffset="-339"/>
<circle pathLength="360" r="537.93" stroke="#67C0DB" stroke-dasharray="1 8 1 2 1 347" stroke-dashoffset="-340"/>
<circle pathLength="360" r="537.93" stroke="#11B71A" stroke-dasharray="1 1 1 357" stroke-dashoffset="-341"/>
<circle pathLength="360" r="537.93" stroke="#11C61B" stroke-dasharray="1 359" stroke-dashoffset="-342"/>
<circle pathLength="360" r="537.93" stroke="#63D6C2" stroke-dasharray="1 359" stroke-dashoffset="-344"/>
<circle pathLength="360" r="537.93" stroke="#4B7DB5" stroke-dasharray="1 359" stroke-dashoffset="-345"/>
<circle pathLength="360" r="537.93" stroke="#599DC7" stroke-dasharray="2 358" stroke-dashoffset="-350"/>
<circle pathLength="360" r="540.51" stroke="#4360A3" stroke-dasharray="1 359" stroke-dashoffset="-339"/>
<circle pathLength="360" r="540.51" stroke="#3DD56F" stroke-dasharray="1 3 1 5 1 349" stroke-dashoffset="-340"/>
<circle pathLength="360" r="540.51" stroke="#10A519" stroke-dasharray="1 359" stroke-dashoffset="-341"/>
<circle pathLength="360" r="540.51" stroke="#0F9118" stroke-dasharray="1 359" stroke-dashoffset="-342"/>
<circle pathLength="360" r="540.51" stroke="#11B71A" stroke-dasharray="1 359" stroke-dashoffset="-343"/>
<circle pathLength="360" r="540.51" stroke="#63D6C2" stroke-dasharray="1 3 1 1 1 353" stroke-dashoffset="-345"/>
<circle pathLength="360" r="540.51" stroke="#67C0DB" stroke-dasharray="1 5 1 353" stroke-dashoffset="-346"/>
<circle pathLength="360" r="543.09" stroke="#4360A3" stroke-dasharray="1 359" stroke-dashoffset="-339"/>
<circle pathLength="360" r="543.09" stroke="#67C0DB" stroke-dasharray="1 3 1 1 1 3 1 349" stroke-dashoffset="-340"/>
<circle pathLength="360" r="543.09" stroke="#11C61B" stroke-dasharray="1 1 1 357" stroke-dashoffset="-341"/>
<circle pathLength="360" r="543.09" stroke="#11B71A" stroke-dasharray="1 359" stroke-dashoffset="-342"/>
<circle pathLength="360" r="543.09" stroke="#63D6C2" stroke-dasharray="1 359" stroke-dashoffset="-345"/>
<circle pathLength="360" r="543.09" stroke="#599DC7" stroke-dasharray="1 1 2 356" stroke-dashoffset="-349"/>
<circle pathLength="360" r="545.67" stroke="#63D6C2" stroke-dasharray="1 4 2 2 1 1 1 348" stroke-dashoffset="-340"/>
<circle pathLength="360" r="545.67" stroke="#11B71A" stroke-dasharray="3 357" stroke-dashoffset="-341"/>
<circle pathLength="360" r="545.67" stroke="#11C61B" stroke-dasharray="1 5 1 353" stroke-dashoffset="-344"/>
<circle pathLength="360" r="545.67" stroke="#67C0DB" stroke-dasharray="1 359" stroke-dashoffset="-352"/>
<circle pathLength="360" r="548.25" stroke="#4360A3" stroke-dasharray="1 359" stroke-dashoffset="-335"/>
<circle pathLength="360" r="548.25" stroke="#3DD56F" stroke-dasharray="1 5 1 4 1 348" stroke-dashoffset="-340"/>
<circle pathLength="360" r="548.25" stroke="#10A519" stroke-dasharray="4 356" stroke-dashoffset="-341"/>
<circle pathLength="360" r="548.25" stroke="#11C61B" stroke-dasharray="1 6 1 352" stroke-dashoffset="-345"/>
<circle pathLength="360" r="548.25" stroke="#63D6C2" stroke-dasharray="1 359" stroke-dashoffset="-349"/>
<circle pathLength="360" r="548.25" stroke="#11B71A" stroke-dasharray="1 359" stroke-dashoffset="-350"/>
<circle pathLength="360" r="548.25" stroke="#67C0DB" stroke-dasharray="1 359" stroke-dashoffset="-353"/>
<circle pathLength="360" r="548.25" stroke="#4B7DB5" stroke-dasharray="1 359" stroke-dashoffset="-354"/>
<circle pathLength="360" r="550.83" stroke="#526AA5" stroke-dasharray="1 18 1 340" stroke-dashoffset="-335"/>
<circle pathLength="360" r="550.83" stroke="#4360A3" stroke-dasharray="1 359" stroke-dashoffset="-336"/>
<circle pathLength="360" r="550.83" stroke="#6577A8" stroke-dasharray="1 17 2 340" stroke-dashoffset="-337"/>
<circle pathLength="360" r="550.83" stroke="#599DC7" stroke-dasharray="1 8 1 1 1 1 1 346" stroke-dashoffset="-338"/>
<circle pathLength="360" r="550.83" stroke="#67C0DB" stroke-dasharray="1 6 1 5 1 346" stroke-dashoffset="-339"/>
<circle pathLength="360" r="550.83" stroke="#63D6C2" stroke-dasharray="1 4 1 354" stroke-dashoffset="-340"/>
<circle pathLength="360" r="550.83" stroke="#3DD56F" stroke-dasharray="1 8 1 350" stroke-dashoffset="-341"/>
<circle pathLength="360" r="550.83" stroke="#11B71A" stroke-dasharray="1 359" stroke-dashoffset="-342"/>
<circle pathLength="360" r="550.83" stroke="#11C61B" stroke-dasharray="2 358" stroke-dashoffset="-343"/>
<circle pathLength="360" r="550.83" stroke="#4B7DB5" stroke-dasharray="1 359" stroke-dashoffset="-353"/>
<circle pathLength="360" r="553.41" stroke="#6577A8" stroke-dasharray="2 358" stroke-dashoffset="-334"/>
<circle pathLength="360" r="553.41" stroke="#4360A3" stroke-dasharray="2 16 1 341" stroke-dashoffset="-336"/>
<circle pathLength="360" r="553.41" stroke="#67C0DB" stroke-dasharray="1 7 2 1 1 3 1 344" stroke-dashoffset="-338"/>
<circle pathLength="360" r="553.41" stroke="#3DD56F" stroke-dasharray="2 358" stroke-dashoffset="-340"/>
<circle pathLength="360" r="553.41" stroke="#11C61B" stroke-dasharray="1 1 1 5 1 351" stroke-dashoffset="-342"/>
<circle pathLength="360" r="553.41" stroke="#11B71A" stroke-dasharray="1 359" stroke-dashoffset="-343"/>
<circle pathLength="360" r="553.41" stroke="#63D6C2" stroke-dasharray="1 5 2 352" stroke-dashoffset="-345"/>
<circle pathLength="360" r="553.41" stroke="#599DC7" stroke-dasharray="1 359" stroke-dashoffset="-348"/>
<circle pathLength="360" r="553.41" stroke="#526AA5" stroke-dasharray="1 359" stroke-dashoffset="-355"/>
<circle pathLength="360" r="555.99" stroke="#4B7DB5" stroke-dasharray="1 20 1 338" stroke-dashoffset="-334"/>
<circle pathLength="360" r="555.99" stroke="#599DC7" stroke-dasharray="3 357" stroke-dashoffset="-335"/>
<circle pathLength="360" r="555.99" stroke="#63D6C2" stroke-dasharray="1 15 1 343" stroke-dashoffset="-338"/>
<circle pathLength="360" r="555.99" stroke="#3DD56F" stroke-dasharray="1 6 1 5 1 346" stroke-dashoffset="-340"/>
<circle pathLength="360" r="555.99" stroke="#0F9118" stroke-dasharray="1 1 1 6 1 350" stroke-dashoffset="-341"/>
<circle pathLength="360" r="555.99" stroke="#10A519" stroke-dasharray="1 359" stroke-dashoffset="-342"/>
<circle pathLength="360" r="555.99" stroke="#11B71A" stroke-dasharray="3 4 2 351" stroke-dashoffset="-344"/>
<circle pathLength="360" r="555.99" stroke="#11C61B" stroke-dasharray="2 358" stroke-dashoffset="-348"/>
<circle pathLength="360" r="558.57" stroke="#6577A8" stroke-dasharray="1 359" stroke-dashoffset="-334"/>
<circle pathLength="360" r="558.57" stroke="#526AA5" stroke-dasharray="3 357" stroke-dashoffset="-335"/>
<circle pathLength="360" r="558.57" stroke="#67C0DB" stroke-dasharray="1 5 1 2 1 350" stroke-dashoffset="-340"/>
<circle pathLength="360" r="558.57" stroke="#3DD56F" stroke-dasharray="1 2 1 5 3 348" stroke-dashoffset="-341"/>
<circle pathLength="360" r="558.57" stroke="#11C61B" stroke-dasharray="2 358" stroke-dashoffset="-342"/>
<circle pathLength="360" r="558.57" stroke="#599DC7" stroke-dasharray="1 2 1 4 2 350" stroke-dashoffset="-345"/>
<circle pathLength="360" r="558.57" stroke="#63D6C2" stroke-dasharray="1 359" stroke-dashoffset="-347"/>
<circle pathLength="360" r="561.15" stroke="#526AA5" stroke-dasharray="1 2 1 356" stroke-dashoffset="-334"/>
<circle pathLength="360" r="561.15" stroke="#4B7DB5" stroke-dasharray="1 359" stroke-dashoffset="-335"/>
<circle pathLength="360" r="561.15" stroke="#4360A3" stroke-dasharray="1 359" stroke-dashoffset="-336"/>
<circle pathLength="360" r="561.15" stroke="#67C0DB" stroke-dasharray="1 359" stroke-dashoffset="-340"/>
<circle pathLength="360" r="561.15" stroke="#11C61B" stroke-dasharray="1 359" stroke-dashoffset="-341"/>
<circle pathLength="360" r="561.15" stroke="#11B71A" stroke-dasharray="2 358" stroke-dashoffset="-342"/>
<circle pathLength="360" r="561.15" stroke="#3DD56F" stroke-dasharray="1 7 1 351" stroke-dashoffset="-344"/>
<circle pathLength="360" r="561.15" stroke="#63D6C2" stroke-dasharray="1 1 1 357" stroke-dashoffset="-345"/>
<circle pathLength="360" r="561.15" stroke="#599DC7" stroke-dasharray="1 359" stroke-dashoffset="-346"/>
<circle pathLength="360" r="563.73" stroke="#6577A8" stroke-dasharray="1 359" stroke-dashoffset="-334"/>
<circle pathLength="360" r="563.73" stroke="#4360A3" stroke-dasharray="2 358" stroke-dashoffset="-335"/>
<circle pathLength="360" r="563.73" stroke="#526AA5" stroke-dasharray="1 359" stroke-dashoffset="-337"/>
<circle pathLength="360" r="563.73" stroke="#67C0DB" stroke-dasharray="1 4 2 353" stroke-dashoffset="-340"/>
<circle pathLength="360" r="563.73" stroke="#11B71A" stroke-dasharray="3 357" stroke-dashoffset="-341"/>
<circle pathLength="360" r="563.73" stroke="#11C61B" stroke-dasharray="1 359" stroke-dashoffset="-344"/>
<circle pathLength="360" r="563.73" stroke="#63D6C2" stroke-dasharray="1 359" stroke-dashoffset="-347"/>
<circle pathLength="360" r="566.31" stroke="#63D6C2" stroke-dasharray="2 358" stroke-dashoffset="-335"/>
<circle pathLength="360" r="566.31" stroke="#67C0DB" stroke-dasharray="1 359" stroke-dashoffset="-337"/>
<circle pathLength="360" r="566.31" stroke="#11B71A" stroke-dasharray="1 359" stroke-dashoffset="-340"/>
<circle pathLength="360" r="566.31" stroke="#10A519" stroke-dasharray="1 3 3 353" stroke-dashoffset="-341"/>
<circle pathLength="360" r="566.31" stroke="#0F9118" stroke-dasharray="3 357" stroke-dashoffset="-342"/>
<circle pathLength="360" r="568.89" stroke="#67C0DB" stroke-dasharray="2 358" stroke-dashoffset="-336"/>
<circle pathLength="360" r="568.89" stroke="#11C61B" stroke-dasharray="3 357" stroke-dashoffset="-338"/>
<circle pathLength="360" r="568.89" stroke="#11B71A" stroke-dasharray="1 5 1 353" stroke-dashoffset="-341"/>
<circle pathLength="360" r="568.89" stroke="#0F9118" stroke-dasharray="5 355" stroke-dashoffset="-342"/>
<circle pathLength="360" r="571.47" stroke="#63D6C2" stroke-dasharray="1 1 1 1 1 355" stroke-dashoffset="-336"/>
<circle pathLength="360" r="571.47" stroke="#67C0DB" stroke-dasharray="1 1 1 357" stroke-dashoffset="-337"/>
<circle pathLength="360" r="571.47" stroke="#3DD56F" stroke-dasharray="1 359" stroke-dashoffset="-341"/>
<circle pathLength="360" r="571.47" stroke="#11C61B" stroke-dasharray="1 1 1 2 1 354" stroke-dashoffset="-342"/>
<circle pathLength="360" r="571.47" stroke="#11B71A" stroke-dasharray="1 1 1 357" stroke-dashoffset="-343"/>
<circle pathLength="360" r="571.47" stroke="#10A519" stroke-dasharray="1 359" stroke-dashoffset="-346"/>
<circle pathLength="360" r="574.05" stroke="#67C0DB" stroke-dasharray="1 5 1 1 1 351" stroke-dashoffset="-336"/>
<circle pathLength="360" r="574.05" stroke="#599DC7" stroke-dasharray="1 9 1 349" stroke-dashoffset="-337"/>
<circle pathLength="360" r="574.05" stroke="#4B7DB5" stroke-dasharray="2 1 1 356" stroke-dashoffset="-338"/>
<circle pathLength="360" r="574.05" stroke="#526AA5" stroke-dasharray="1 359" stroke-dashoffset="-340"/>
<circle pathLength="360" r="574.05" stroke="#63D6C2" stroke-dasharray="1 1 1 357" stroke-dashoffset="-343"/>
<circle pathLength="360" r="574.05" stroke="#3DD56F" stroke-dasharray="1 359" stroke-dashoffset="-346"/>
<circle pathLength="360" r="574.05" stroke="#4360A3" stroke-dasharray="1 359" stroke-dashoffset="-348"/>
<circle pathLength="360" r="576.63" stroke="#11B71A" stroke-dasharray="1 1 1 3 3 351" stroke-dashoffset="-336"/>
<circle pathLength="360" r="576.63" stroke="#0F9118" stroke-dasharray="1 8 1 350" stroke-dashoffset="-337"/>
<circle pathLength="360" r="576.63" stroke="#3DD56F" stroke-dasharray="1 1 1 357" stroke-dashoffset="-339"/>
<circle pathLength="360" r="576.63" stroke="#63D6C2" stroke-dasharray="1 7 1 351" stroke-dashoffset="-340"/>
<circle pathLength="360" r="576.63" stroke="#10A519" stroke-dasharray="1 359" stroke-dashoffset="-345"/>
<circle pathLength="360" r="576.63" stroke="#11C61B" stroke-dasharray="1 359" stroke-dashoffset="-347"/>
<circle pathLength="360" r="579.21" stroke="#4B7DB5" stroke-dasharray="1 4 1 354" stroke-dashoffset="-335"/>
<circle pathLength="360" r="579.21" stroke="#63D6C2" stroke-dasharray="1 5 1 1 1 351" stroke-dashoffset="-336"/>
<circle pathLength="360" r="579.21" stroke="#10A519" stroke-dasharray="1 359" stroke-dashoffset="-337"/>
<circle pathLength="360" r="579.21" stroke="#3DD56F" stroke-dasharray="1 6 1 1 1 350" stroke-dashoffset="-338"/>
<circle pathLength="360" r="579.21" stroke="#67C0DB" stroke-dasharray="1 1 1 357" stroke-dashoffset="-339"/>
<circle pathLength="360" r="579.21" stroke="#11C61B" stroke-dasharray="1 2 1 356" stroke-dashoffset="-343"/>
<circle pathLength="360" r="581.79" stroke="#63D6C2" stroke-dasharray="1 4 1 4 1 349" stroke-dashoffset="-335"/>
<circle pathLength="360" r="581.79" stroke="#3DD56F" stroke-dasharray="1 5 1 1 1 1 2 348" stroke-dashoffset="-336"/>
<circle pathLength="360" r="581.79" stroke="#10A519" stroke-dasharray="1 359" stroke-dashoffset="-337"/>
<circle pathLength="360" r="581.79" stroke="#11C61B" stroke-dasharray="1 359" stroke-dashoffset="-338"/>
<circle pathLength="360" r="581.79" stroke="#67C0DB" stroke-dasharray="1 1 1 357" stroke-dashoffset="-339"/>
<circle pathLength="360" r="581.79" stroke="#11B71A" stroke-dasharray="1 359" stroke-dashoffset="-343"/>
<circle pathLength="360" r="581.79" stroke="#4B7DB5" stroke-dasharray="1 359" stroke-dashoffset="-348"/>
<circle pathLength="360" r="584.37" stroke="#67C0DB" stroke-dasharray="1 359" stroke-dashoffset="-335"/>
<circle pathLength="360" r="584.37" stroke="#11B71A" stroke-dasharray="1 6 2 1 2 348" stroke-dashoffset="-336"/>
<circle pathLength="360" r="584.37" stroke="#0F9118" stroke-dasharray="1 359" stroke-dashoffset="-337"/>
<circle pathLength="360" r="584.37" stroke="#3DD56F" stroke-dasharray="1 3 1 355" stroke-dashoffset="-338"/>
<circle pathLength="360" r="584.37" stroke="#63D6C2" stroke-dasharray="3 357" stroke-dashoffset="-339"/>
<circle pathLength="360" r="584.37" stroke="#11C61B" stroke-dasharray="1 359" stroke-dashoffset="-345"/>
<circle pathLength="360" r="584.37" stroke="#4B7DB5" stroke-dasharray="1 359" stroke-dashoffset="-348"/>
<circle pathLength="360" r="586.95" stroke="#3DD56F" stroke-dasharray="2 2 1 2 1 4 1 347" stroke-dashoffset="-335"/>
<circle pathLength="360" r="586.95" stroke="#11B71A" stroke-dasharray="1 359" stroke-dashoffset="-337"/>
<circle pathLength="360" r="586.95" stroke="#11C61B" stroke-dasharray="1 4 4 351" stroke-dashoffset="-338"/>
<circle pathLength="360" r="586.95" stroke="#63D6C2" stroke-dasharray="1 359" stroke-dashoffset="-340"/>
<circle pathLength="360" r="586.95" stroke="#67C0DB" stroke-dasharray="1 6 1 352" stroke-dashoffset="-341"/>
<circle pathLength="360" r="589.53" stroke="#599DC7" stroke-dasharray="1 3 1 2 1 352" stroke-dashoffset="-335"/>
<circle pathLength="360" r="589.53" stroke="#63D6C2" stroke-dasharray="1 6 1 2 2 348" stroke-dashoffset="-336"/>
<circle pathLength="360" r="589.53" stroke="#11C61B" stroke-dasharray="1 359" stroke-dashoffset="-337"/>
<circle pathLength="360" r="589.53" stroke="#67C0DB" stroke-dasharray="1 359" stroke-dashoffset="-338"/>
<circle pathLength="360" r="589.53" stroke="#4B7DB5" stroke-dasharray="1 7 1 351" stroke-dashoffset="-340"/>
<circle pathLength="360" r="589.53" stroke="#4360A3" stroke-dasharray="1 359" stroke-dashoffset="-341"/>
<circle pathLength="360" r="589.53" stroke="#3DD56F" stroke-dasharray="2 358" stroke-dashoffset="-344"/>
<circle pathLength="360" r="592.11" stroke="#4B7DB5" stroke-dasharray="1 4 1 1 1 352" stroke-dashoffset="-335"/>
<circle pathLength="360" r="592.11" stroke="#3DD56F" stroke-dasharray="1 7 1 351" stroke-dashoffset="-336"/>
<circle pathLength="360" r="592.11" stroke="#11C61B" stroke-dasharray="1 7 1 351" stroke-dashoffset="-337"/>
<circle pathLength="360" r="592.11" stroke="#63D6C2" stroke-dasharray="1 4 1 2 2 350" stroke-dashoffset="-338"/>
<circle pathLength="360" r="592.11" stroke="#599DC7" stroke-dasharray="1 359" stroke-dashoffset="-339"/>
<circle pathLength="360" r="592.11" stroke="#6577A8" stroke-dasharray="1 359" stroke-dashoffset="-341"/>
<circle pathLength="360" r="592.11" stroke="#67C0DB" stroke-dasharray="1 359" stroke-dashoffset="-348"/>
<circle pathLength="360" r="594.69" stroke="#4360A3" stroke-dasharray="1 3 1 355" stroke-dashoffset="-335"/>
<circle pathLength="360" r="594.69" stroke="#67C0DB" stroke-dasharray="1 7 2 350" stroke-dashoffset="-336"/>
<circle pathLength="360" r="594.69" stroke="#63D6C2" stroke-dasharray="1 8 1 350" stroke-dashoffset="-337"/>
<circle pathLength="360" r="594.69" stroke="#599DC7" stroke-dasharray="1 4 1 3 1 350" stroke-dashoffset="-338"/>
<circle pathLength="360" r="594.69" stroke="#6577A8" stroke-dasharray="3 357" stroke-dashoffset="-340"/>
<circle pathLength="360" r="597.27" stroke="#3DD56F" stroke-dasharray="1 359" stroke-dashoffset="-335"/>
<circle pathLength="360" r="597.27" stroke="#10A519" stroke-dasharray="1 9 2 348" stroke-dashoffset="-336"/>
<circle pathLength="360" r="597.27" stroke="#0F9118" stroke-dasharray="2 5 2 351" stroke-dashoffset="-337"/>
<circle pathLength="360" r="597.27" stroke="#11C61B" stroke-dasharray="1 359" stroke-dashoffset="-339"/>
<circle pathLength="360" r="597.27" stroke="#599DC7" stroke-dasharray="1 359" stroke-dashoffset="-340"/>
<circle pathLength="360" r="597.27" stroke="#4B7DB5" stroke-dasharray="1 359" stroke-dashoffset="-341"/>
<circle pathLength="360" r="597.27" stroke="#63D6C2" stroke-dasharray="1 359" stroke-dashoffset="-342"/>
<circle pathLength="360" r="597.27" stroke="#11B71A" stroke-dasharray="1 359" stroke-dashoffset="-343"/>
<circle pathLength="360" r="599.85" stroke="#63D6C2" stroke-dasharray="1 2 1 3 1 352" stroke-dashoffset="-336"/>
<circle pathLength="360" r="599.85" stroke="#11C61B" stroke-dasharray="2 5 2 351" stroke-dashoffset="-337"/>
<circle pathLength="360" r="599.85" stroke="#6577A8" stroke-dasharray="2 358" stroke-dashoffset="-340"/>
<circle pathLength="360" r="599.85" stroke="#4360A3" stroke-dasharray="1 359" stroke-dashoffset="-342"/>
<circle pathLength="360" r="602.43" stroke="#3DD56F" stroke-dasharray="1 7 1 351" stroke-dashoffset="-336"/>
<circle pathLength="360" r="602.43" stroke="#11B71A" stroke-dasharray="1 7 1 351" stroke-dashoffset="-337"/>
<circle pathLength="360" r="602.43" stroke="#11C61B" stroke-dasharray="1 359" stroke-dashoffset="-338"/>
<circle pathLength="360" r="602.43" stroke="#67C0DB" stroke-dasharray="1 359" stroke-dashoffset="-339"/>
<circle pathLength="360" r="602.43" stroke="#6577A8" stroke-dasharray="3 357" stroke-dashoffset="-340"/>
<circle pathLength="360" r="602.43" stroke="#4B7DB5" stroke-dasharray="1 359" stroke-dashoffset="-343"/>
<circle pathLength="360" r="605.01" stroke="#3DD56F" stroke-dasharray="1 359" stroke-dashoffset="-336"/>
<circle pathLength="360" r="605.01" stroke="#10A519" stroke-dasharray="2 6 1 351" stroke-dashoffset="-337"/>
<circle pathLength="360" r="605.01" stroke="#11C61B" stroke-dasharray="1 4 1 354" stroke-dashoffset="-339"/>
<circle pathLength="360" r="605.01" stroke="#526AA5" stroke-dasharray="1 359" stroke-dashoffset="-340"/>
<circle pathLength="360" r="605.01" stroke="#4360A3" stroke-dasharray="1 359" stroke-dashoffset="-341"/>
<circle pathLength="360" r="605.01" stroke="#6577A8" stroke-dasharray="1 359" stroke-dashoffset="-342"/>
<circle pathLength="360" r="605.01" stroke="#4B7DB5" stroke-dasharray="1 359" stroke-dashoffset="-343"/>
<circle pathLength="360" r="607.59" stroke="#599DC7" stroke-dasharray="1 359" stroke-dashoffset="-336"/>
<circle pathLength="360" r="607.59" stroke="#10A519" stroke-dasharray="1 359" stroke-dashoffset="-337"/>
<circle pathLength="360" r="607.59" stroke="#11B71A" stroke-dasharray="1 359" stroke-dashoffset="-338"/>
<circle pathLength="360" r="607.59" stroke="#11C61B" stroke-dasharray="1 359" stroke-dashoffset="-339"/>
<circle pathLength="360" r="607.59" stroke="#6577A8" stroke-dasharray="2 358" stroke-dashoffset="-342"/>
<circle pathLength="360" r="607.59" stroke="#63D6C2" stroke-dasharray="1 359" stroke-dashoffset="-344"/>
<circle pathLength="360" r="607.59" stroke="#3DD56F" stroke-dasharray="1 359" stroke-dashoffset="-345"/>
<circle pathLength="360" r="610.17" stroke="#11C61B" stroke-dasharray="1 359" stroke-dashoffset="-336"/>
<circle pathLength="360" r="610.17" stroke="#10A519" stroke-dasharray="1 7 1 351" stroke-dashoffset="-337"/>
<circle pathLength="360" r="610.17" stroke="#0F9118" stroke-dasharray="2 358" stroke-dashoffset="-338"/>
<circle pathLength="360" r="610.17" stroke="#63D6C2" stroke-dasharray="1 359" stroke-dashoffset="-344"/>
<circle pathLength="360" r="612.75" stroke="#4B7DB5" stroke-dasharray="1 359" stroke-dashoffset="-335"/>
<circle pathLength="360" r="612.75" stroke="#3DD56F" stroke-dasharray="2 358" stroke-dashoffset="-336"/>
<circle pathLength="360" r="612.75" stroke="#11B71A" stroke-dasharray="1 359" stroke-dashoffset="-338"/>
<circle pathLength="360" r="612.75" stroke="#10A519" stroke-dasharray="1 359" stroke-dashoffset="-339"/>
<circle pathLength="360" r="615.33" stroke="#67C0DB" stroke-dasharray="1 359" stroke-dashoffset="-336"/>
<circle pathLength="360" r="615.33" stroke="#63D6C2" stroke-dasharray="1 359" stroke-dashoffset="-337"/>
<circle pathLength="360" r="615.33" stroke="#11C61B" stroke-dasharray="1 359" stroke-dashoffset="-338"/>
<circle pathLength="360" r="615.33" stroke="#11B71A" stroke-dasharray="1 359" stroke-dashoffset="-339"/>
<circle pathLength="360" r="617.91" stroke="#3DD56F" stroke-dasharray="2 358" stroke-dashoffset="-337"/>
<circle pathLength="360" r="617.91" stroke="#10A519" stroke-dasharray="1 359" stroke-dashoffset="-339"/>
<circle pathLength="360" r="620.49" stroke="#599DC7" stroke-dasharray="1 359" stroke-dashoffset="-336"/>
<circle pathLength="360" r="620.49" stroke="#67C0DB" stroke-dasharray="1 359" stroke-dashoffset="-337"/>
<circle pathLength="360" r="620.49" stroke="#63D6C2" stroke-dasharray="1 359" stroke-dashoffset="-338"/>
<circle pathLength="360" r="620.49" stroke="#11C61B" stroke-dasharray="1 359" stroke-dashoffset="-339"/>
<circle pathLength="360" r="623.07" stroke="#67C0DB" stroke-dasharray="2 9 1 348" stroke-dashoffset="-336"/>
<circle pathLength="360" r="623.07" stroke="#11C61B" stroke-dasharray="1 359" stroke-dashoffset="-338"/>
<circle pathLength="360" r="623.07" stroke="#10A519" stroke-dasharray="1 359" stroke-dashoffset="-339"/>
<circle pathLength="360" r="623.07" stroke="#599DC7" stroke-dasharray="1 359" stroke-dashoffset="-346"/>
<circle pathLength="360" r="625.65" stroke="#67C0DB" stroke-dasharray="1 8 2 349" stroke-dashoffset="-337"/>
<circle pathLength="360" r="625.65" stroke="#3DD56F" stroke-dasharray="1 359" stroke-dashoffset="-338"/>
<circle pathLength="360" r="625.65" stroke="#11B71A" stroke-dasharray="2 358" stroke-dashoffset="-339"/>
<circle pathLength="360" r="625.65" stroke="#4B7DB5" stroke-dasharray="1 359" stroke-dashoffset="-345"/>
<circle pathLength="360" r="628.23" stroke="#599DC7" stroke-dasharray="2 358" stroke-dashoffset="-337"/>
<circle pathLength="360" r="628.23" stroke="#3DD56F" stroke-dasharray="1 359" stroke-dashoffset="-339"/>
<circle pathLength="360" r="628.23" stroke="#11C61B" stroke-dasharray="1 359" stroke-dashoffset="-340"/>
<circle pathLength="360" r="628.23" stroke="#67C0DB" stroke-dasharray="1 359" stroke-dashoffset="-341"/>
<circle pathLength="360" r="628.23" stroke="#4B7DB5" stroke-dasharray="3 357" stroke-dashoffset="-345"/>
<circle pathLength="360" r="628.23" stroke="#4360A3" stroke-dasharray="1 359" stroke-dashoffset="-348"/>
<circle pathLength="360" r="630.81" stroke="#526AA5" stroke-dasharray="1 9 2 348" stroke-dashoffset="-337"/>
<circle pathLength="360" r="630.81" stroke="#4B7DB5" stroke-dasharray="1 2 1 4 1 351" stroke-dashoffset="-338"/>
<circle pathLength="360" r="630.81" stroke="#599DC7" stroke-dasharray="1 359" stroke-dashoffset="-339"/>
<circle pathLength="360" r="630.81" stroke="#63D6C2" stroke-dasharray="1 359" stroke-dashoffset="-340"/>
<circle pathLength="360" r="630.81" stroke="#4360A3" stroke-dasharray="1 359" stroke-dashoffset="-345"/>
<circle pathLength="360" r="633.39" stroke="#3DD56F" stroke-dasharray="2 358" stroke-dashoffset="-338"/>
<circle pathLength="360" r="633.39" stroke="#10A519" stroke-dasharray="1 359" stroke-dashoffset="-340"/>
<circle pathLength="360" r="633.39" stroke="#11B71A" stroke-dasharray="1 359" stroke-dashoffset="-341"/>
<circle pathLength="360" r="633.39" stroke="#67C0DB" stroke-dasharray="1 1 1 357" stroke-dashoffset="-345"/>
<circle pathLength="360" r="633.39" stroke="#63D6C2" stroke-dasharray="1 359" stroke-dashoffset="-346"/>
<circle pathLength="360" r="633.39" stroke="#4B7DB5" stroke-dasharray="1 359" stroke-dashoffset="-348"/>
<circle pathLength="360" r="635.97" stroke="#67C0DB" stroke-dasharray="1 7 1 351" stroke-dashoffset="-338"/>
<circle pathLength="360" r="635.97" stroke="#3DD56F" stroke-dasharray="1 359" stroke-dashoffset="-339"/>
<circle pathLength="360" r="635.97" stroke="#10A519" stroke-dasharray="1 359" stroke-dashoffset="-340"/>
<circle pathLength="360" r="635.97" stroke="#11C61B" stroke-dasharray="1 359" stroke-dashoffset="-341"/>
<circle pathLength="360" r="635.97" stroke="#63D6C2" stroke-dasharray="1 359" stroke-dashoffset="-342"/>
<circle pathLength="360" r="635.97" stroke="#599DC7" stroke-dasharray="3 1 1 355" stroke-dashoffset="-343"/>
<circle pathLength="360" r="638.55" stroke="#4B7DB5" stroke-dasharray="1 4 4 351" stroke-dashoffset="-338"/>
<circle pathLength="360" r="638.55" stroke="#599DC7" stroke-dasharray="1 2 1 356" stroke-dashoffset="-339"/>
<circle pathLength="360" r="638.55" stroke="#11C61B" stroke-dasharray="1 359" stroke-dashoffset="-340"/>
<circle pathLength="360" r="638.55" stroke="#67C0DB" stroke-dasharray="1 359" stroke-dashoffset="-341"/>
<circle pathLength="360" r="638.55" stroke="#4360A3" stroke-dasharray="1 359" stroke-dashoffset="-347"/>
<circle pathLength="360" r="641.13" stroke="#11C61B" stroke-dasharray="1 359" stroke-dashoffset="-340"/>
<circle pathLength="360" r="641.13" stroke="#63D6C2" stroke-dasharray="1 359" stroke-dashoffset="-341"/>
<circle pathLength="360" r="641.13" stroke="#67C0DB" stroke-dasharray="2 358" stroke-dashoffset="-342"/>
<circle pathLength="360" r="641.13" stroke="#4B7DB5" stroke-dasharray="1 359" stroke-dashoffset="-344"/>
<circle pathLength="360" r="641.13" stroke="#599DC7" stroke-dasharray="2 358" stroke-dashoffset="-345"/>
<circle pathLength="360" r="641.13" stroke="#4360A3" stroke-dasharray="1 359" stroke-dashoffset="-347"/>
<circle pathLength="360" r="643.71" stroke="#10A519" stroke-dasharray="1 359" stroke-dashoffset="-340"/>
<circle pathLength="360" r="643.71" stroke="#3DD56F" stroke-dasharray="2 358" stroke-dashoffset="-341"/>
<circle pathLength="360" r="643.71" stroke="#599DC7" stroke-dasharray="1 359" stroke-dashoffset="-343"/>
<circle pathLength="360" r="643.71" stroke="#67C0DB" stroke-dasharray="4 356" stroke-dashoffset="-344"/>
<circle pathLength="360" r="643.71" stroke="#4B7DB5" stroke-dasharray="1 359" stroke-dashoffset="-348"/>
<circle pathLength="360" r="646.29" stroke="#11C61B" stroke-dasharray="1 359" stroke-dashoffset="-340"/>
<circle pathLength="360" r="646.29" stroke="#63D6C2" stroke-dasharray="1 359" stroke-dashoffset="-341"/>
<circle pathLength="360" r="646.29" stroke="#67C0DB" stroke-dasharray="1 359" stroke-dashoffset="-342"/>
<circle pathLength="360" r="646.29" stroke="#526AA5" stroke-dasharray="2 3 1 354" stroke-dashoffset="-343"/>
<circle pathLength="360" r="646.29" stroke="#4360A3" stroke-dasharray="1 1 1 357" stroke-dashoffset="-345"/>
<circle pathLength="360" r="646.29" stroke="#4B7DB5" stroke-dasharray="1 359" stroke-dashoffset="-346"/>
<circle pathLength="360" r="648.87" stroke="#599DC7" stroke-dasharray="1 359" stroke-dashoffset="-341"/>
<circle pathLength="360" r="648.87" stroke="#4B7DB5" stroke-dasharray="1 4 1 354" stroke-dashoffset="-342"/>
<circle pathLength="360" r="648.87" stroke="#526AA5" stroke-dasharray="1 2 1 356" stroke-dashoffset="-343"/>
<circle pathLength="360" r="648.87" stroke="#4360A3" stroke-dasharray="2 358" stroke-dashoffset="-344"/>
<circle pathLength="360" r="651.45" stroke="#526AA5" stroke-dasharray="1 4 1 354" stroke-dashoffset="-343"/>
<circle pathLength="360" r="651.45" stroke="#4B7DB5" stroke-dasharray="1 359" stroke-dashoffset="-344"/>
<circle pathLength="360" r="651.45" stroke="#4360A3" stroke-dasharray="2 358" stroke-dashoffset="-345"/>
<circle pathLength="360" r="651.45" stroke="#67C0DB" stroke-dasharray="1 359" stroke-dashoffset="-347"/>
<circle pathLength="360" r="654.03" stroke="#6577A8" stroke-dasharray="2 358" stroke-dashoffset="-345"/>
<circle pathLength="360" r="654.03" stroke="#526AA5" stroke-dasharray="1 359" stroke-dashoffset="-347"/>
<circle pathLength="360" r="656.61" stroke="#63D6C2" stroke-dasharray="1 359" stroke-dashoffset="-347"/>
</g>
</g>
</g>
<g id="borders" fill="none" stroke-linejoin="round" stroke-linecap="round">
<polyline stroke="#828282" stroke-width="1.3" points="470.8,456.6 480.0,453.0 485.0,452.5 490.0,450.8 495.8,449.6 498.3,447.5 499.1,442.5 498.3,436.6 500.8,433.3 504.9,434.1 509.1,431.6 513.3,430.0 516.6,429.7 519.9,433.3 522.4,437.5 524.9,440.8 528.3,443.3 533.2,445.0 538.2,447.5 543.2,447.0 547.4,446.6 549.9,449.1 550.2,453.3 548.2,456.6 544.9,458.3 541.6,460.8 539.9,465.0 539.6,469.1 540.7,472.4 543.2,474.1 544.9,478.3 544.6,483.3 544.9,488.3 544.1,493.3 539.9,496.6 536.6,499.9 534.9,504.9 534.1,509.9 531.6,514.9 528.3,518.2 526.3,521.6 525.8,526.6 524.9,531.6 522.4,534.1"/>
<polyline stroke="#828282" stroke-width="1.3" points="451.6,519.1 455.0,521.6 457.5,524.1 461.6,524.9 465.8,524.6 469.1,521.6 471.6,518.2 473.6,514.1 480.0,516.6 486.6,520.7 493.3,524.9 497.4,526.6 499.1,529.9 502.4,528.6 505.8,525.7 508.3,523.2 511.6,525.7 514.9,527.4 518.3,529.9 520.8,532.4 522.4,534.1 519.9,536.6 518.3,541.6 519.1,546.6 518.3,551.5 519.9,554.0 524.9,552.4 529.9,551.2 534.1,549.9 538.2,549.1 541.6,547.4 546.6,547.4 550.7,546.6 554.1,548.2 557.4,550.7 560.7,549.6 563.2,552.4 564.9,555.7 568.2,557.4"/>
<polyline stroke="#828282" stroke-width="1.3" points="538.2,549.1 538.2,553.2 537.4,557.4 535.7,559.9 534.1,563.2 532.4,566.5 530.7,569.9 528.3,572.4 527.4,576.5 526.6,581.5 525.8,586.5"/>
<polyline stroke="#828282" stroke-width="1.3" points="550.2,453.3 556.6,455.8 566.6,458.3 569.1,458.6 572.4,459.1 574.9,461.6 576.5,464.1 579.9,465.0 583.2,464.1 585.7,463.3 587.4,467.5 588.2,471.6 589.9,474.9 593.2,475.8"/>
<polyline stroke="#828282" stroke-width="1.3" points="566.6,458.3 564.9,463.3 564.1,470.0 564.1,476.6 564.9,481.6 566.6,488.3 569.1,493.3 571.5,498.3 574.9,502.4 579.0,505.8 583.2,509.1 587.4,511.6 591.5,514.1 594.9,516.6 597.4,519.9 599.0,523.2 601.5,519.9 603.2,516.6 607.4,514.1 611.5,513.2 615.7,512.4 618.2,511.6"/>
<polyline stroke="#828282" stroke-width="1.3" points="646.6,543.2 644.9,538.3 638.3,538.3 631.6,538.3 629.1,541.6 627.4,546.6 626.6,549.9 629.1,554.1 629.9,557.4 627.4,561.6 624.9,564.9 622.4,568.2 619.1,571.6 617.5,573.2"/>
<polyline stroke="#828282" stroke-width="1.3" points="568.3,556.9 572.5,554.9 578.3,551.6 584.1,549.9 590.0,550.7 595.8,551.6 600.0,551.9 600.8,556.6 601.6,561.6 605.8,565.7 610.0,567.4 614.1,568.2 616.6,571.6 619.1,574.9 624.1,575.7 626.6,578.2 629.1,583.2 630.8,587.4 631.6,591.5 629.9,595.7 634.9,598.2 639.9,600.7 644.1,604.0 648.3,607.4 652.4,605.7 656.6,604.0 661.6,602.4 665.7,601.5 669.1,599.9 669.9,595.7 673.2,592.9 677.4,594.0 680.7,597.4 684.1,600.7 687.4,604.0 690.7,602.4 694.1,599.0 698.2,598.2 703.2,599.9 708.2,601.5 713.2,603.2"/>
<polyline stroke="#828282" stroke-width="1.3" points="629.9,595.7 626.6,596.5 621.6,595.7 615.8,595.7 611.6,599.0 607.5,603.2 603.3,607.4 599.1,611.5 596.6,614.9 596.3,620.0"/>
<polyline stroke="#828282" stroke-width="1.3" points="630.8,590.0 629.8,594.0 625.8,596.0 620.8,595.0 615.8,596.0 609.8,601.0 603.8,606.0 598.9,611.0 596.9,617.0 595.9,623.0 592.9,628.0 597.9,629.0 603.8,630.0 609.8,631.0 615.8,631.0 621.8,632.0 626.8,633.0 629.8,637.0 632.8,643.9 635.8,651.9 638.8,657.9 642.8,662.9 647.8,665.9 651.8,668.9 655.8,669.9 661.8,671.9 665.8,674.9 668.8,678.9"/>
<polyline stroke="#828282" stroke-width="1.3" points="630.8,595.0 635.8,598.0 640.8,601.0 645.8,605.0 648.8,607.6 652.8,606.0 656.8,604.0 660.8,603.0 664.8,601.0 668.8,598.0 670.8,594.0 674.8,593.0 679.8,595.0 683.8,599.0 687.8,603.0 690.0,604.0"/>
<polyline stroke="#828282" stroke-width="1.3" points="592.9,628.0 587.9,630.0 581.9,630.0"/>
<polyline stroke="#828282" stroke-width="1.3" points="487.0,615.0 491.0,615.0 496.0,615.6 500.9,619.0 505.9,622.0"/>
<polyline stroke="#828282" stroke-width="1.3" points="487.0,701.9 488.0,705.9 493.0,706.9 495.0,702.9 499.0,700.9"/>
<polyline stroke="#000" stroke-width="3.4" points="578.2,45.5 582.4,52.5 586.2,58.0 589.4,63.7 591.9,70.0 594.4,73.7 593.7,77.5 591.2,78.0 592.9,82.5 595.7,87.5 598.7,84.5 604.9,84.0 611.2,85.5 617.4,87.0 623.7,86.5 627.9,86.5 628.9,91.2 626.2,97.0 622.4,101.2 621.2,105.5 617.4,107.9 613.7,108.7 611.2,112.4 607.4,114.9 603.7,119.9 598.7,123.7 594.4,127.9 595.4,136.2 598.7,139.9 601.2,142.4 597.9,144.9 599.9,147.9 603.7,148.7 606.9,153.7 609.9,159.4 612.9,163.7 617.4,161.9 622.4,159.9 626.2,160.4 629.9,158.7 634.9,159.9 639.9,161.9 644.4,160.7 648.6,163.7 653.6,167.4 658.6,167.9 656.1,172.4 654.9,177.4 656.9,182.9 661.1,185.6 666.9,186.9 668.6,192.4 668.9,198.6 666.9,204.9 665.4,211.1 664.9,217.4 662.4,223.6 658.6,227.4 656.1,231.1 659.9,234.9 664.9,239.9 669.9,244.8 674.9,249.8 678.6,254.3 679.4,259.8 676.1,263.6 671.9,264.3 667.4,266.8 663.6,273.6 659.9,271.1 656.1,267.8 651.1,263.6 647.4,266.1 642.9,264.8 641.1,269.8 639.4,276.1 636.1,281.1 634.9,287.3 632.4,292.3 629.9,296.1 624.9,296.8 617.4,299.8 609.9,302.3 604.9,306.1 602.9,310.0"/>
<polyline stroke="#000" stroke-width="3.4" points="606.1,305.0 601.8,311.2 597.4,313.7 593.6,317.5 591.1,322.0 594.9,325.0 597.4,330.0 598.6,337.5 599.9,344.5 594.9,347.0 589.9,347.5 584.9,349.5 581.1,353.7 580.4,358.7 583.6,361.2 586.1,365.5 584.4,369.9 578.6,371.2 573.6,369.4 573.6,363.7 576.1,360.0 580.4,358.7"/>
<polyline stroke="#000" stroke-width="3.4" points="578.6,371.2 577.9,377.4 579.4,383.7 576.9,388.7 578.6,393.7 574.9,398.7 574.9,404.9 572.4,409.9 573.6,414.9 576.1,419.9 577.9,424.9 579.9,431.2 579.4,436.1 577.9,438.6 581.9,443.6 581.1,449.9 584.9,453.6 588.6,458.6 592.4,462.4 591.9,466.9 596.1,472.4 599.9,469.9 601.1,474.9 604.8,477.9 609.8,479.9 611.8,486.1 613.6,493.6 615.3,499.9 616.8,507.3 619.8,512.3 624.8,516.1 629.8,519.8 634.8,521.1 637.3,524.8 642.3,526.1 646.1,532.3 648.6,537.3 647.3,542.3 651.1,542.8 653.6,538.6 657.3,536.1 662.3,536.1 666.1,539.8 669.8,544.8 673.5,549.8 678.5,553.6 684.8,556.1 689.8,557.8 694.8,556.1 700.0,554.8"/>
<polyline stroke="#000" stroke-width="3.4" points="573.6,363.7 572.4,353.7 566.1,351.2 559.9,351.2 557.9,357.0 552.4,358.7 546.1,356.2 540.4,353.0 538.1,346.2 532.4,346.7 524.9,348.7 517.4,351.7 516.2,358.7 513.7,367.4 511.2,372.4 504.9,377.4 498.7,382.4 492.4,387.4 488.7,394.9 486.2,402.4 481.2,407.4 476.9,413.7 474.9,422.4 473.7,429.9 469.9,436.1 465.5,442.4 466.2,449.9 469.4,456.1 469.9,462.4 465.5,464.9 461.2,466.1 458.7,469.9 453.7,471.1 448.7,472.4 447.0,479.9 445.0,487.4 443.0,494.9 440.0,499.9 435.0,504.8 436.2,508.6 441.2,511.1 446.2,514.8 450.0,519.3 446.2,523.6 441.2,524.8 439.5,531.1 437.5,539.8 437.0,547.3 438.0,554.8 439.0,561.1"/>
<polyline stroke="#000" stroke-width="3.4" points="438.7,560.0 440.0,565.0 446.2,566.2 451.2,570.0 454.5,576.2 458.7,582.5 462.5,590.0 465.5,597.5 466.9,605.0 472.4,606.2 478.7,605.5 482.9,610.0 486.2,616.2 483.7,620.0 481.2,626.2 483.7,632.4 488.7,636.2 493.7,638.7 496.2,642.4 496.2,649.9 494.4,654.9 488.7,655.4 484.9,658.7 484.4,664.9 481.2,669.9 480.4,676.2 476.2,679.9 474.9,684.9 478.7,687.4 482.4,691.2 481.2,696.1 477.4,699.9 472.4,703.6 467.4,706.1 462.5,708.6 459.5,711.1 461.2,712.4 467.4,711.1 470.4,714.9 468.7,719.9 472.4,723.6 474.9,726.1 479.9,729.9 486.2,733.6 493.7,734.9 499.9,734.4 507.4,736.1 513.7,738.6 517.4,741.1 519.9,744.9 520.4,752.4 521.9,759.9 523.7,762.3 528.7,759.9 534.9,761.1 541.1,763.6 544.9,764.8 548.6,758.6 552.4,755.6 556.1,757.9 561.1,759.9 566.1,761.1 567.4,754.9 569.9,751.1 574.9,749.4 576.1,743.6 578.6,740.4 584.9,739.4 587.4,733.6 591.1,731.1 597.4,730.4 604.8,730.4 612.3,729.4 618.6,727.9 623.6,729.9 628.6,732.4 632.3,734.9 634.8,739.9 638.6,743.6 641.1,746.1 646.1,746.9 649.8,749.9 653.6,752.9 658.6,753.6 662.3,756.9 664.8,758.6"/>
<polyline stroke="#000" stroke-width="3.4" points="699.9,553.7 702.9,551.7 706.2,553.7 709.9,556.2 713.7,558.7 718.7,559.4 721.2,556.2 724.4,557.9 725.4,561.9 722.4,564.9 719.4,567.9 717.4,571.2 719.9,574.9 717.4,578.7 719.4,582.4 721.2,586.2 718.7,589.9 715.4,592.4 714.9,599.9 714.9,604.9 717.4,606.2 720.4,607.9 717.4,611.2 713.7,608.7 712.9,606.2 714.9,604.9"/>
<polyline stroke="#000" stroke-width="3.4" points="717.4,611.2 716.2,612.4 713.7,617.4 709.9,621.1 706.2,623.6 701.9,624.9 698.7,627.9 696.2,632.4 692.4,637.4 688.7,641.1 686.9,643.6 691.2,644.9 690.4,651.1 687.9,657.4 686.2,663.6 683.7,668.6 679.9,673.6 674.9,677.4 670.4,679.9 667.9,684.8 669.4,688.6 665.5,691.1 662.0,693.6 663.7,697.3 667.9,699.8 670.4,703.6 667.9,709.8 664.5,714.8 662.0,719.8 662.5,727.3 663.7,734.8 665.0,742.3 665.5,750.0"/>
<polyline stroke="#000" stroke-width="3.4" points="661.2,720.0 663.7,727.5 665.0,735.0 665.5,745.0 665.5,752.5 664.5,758.0 668.7,755.0 673.7,755.5 678.7,753.7 683.7,751.2 686.2,748.0 690.0,750.0 693.7,753.7 698.7,755.0 702.5,757.5 707.5,761.2 712.5,763.7 717.4,767.5 722.4,771.2 727.4,773.7 731.2,777.5 734.9,781.2 731.2,783.7 727.4,786.2 728.7,789.9 732.4,793.7 736.2,796.2 741.2,798.7 744.9,801.2 746.2,806.2 748.7,808.7 751.9,812.4 749.9,816.2 746.2,819.4 742.4,816.2 738.7,816.9 737.9,821.2 741.2,824.9 744.9,826.9 748.7,829.9 747.4,834.9 749.9,838.7 753.7,842.4 757.4,846.2 761.2,848.7 764.9,852.4 768.7,856.1 772.4,858.6 776.2,861.9 774.9,866.1 773.7,871.1 777.4,873.6 781.2,876.1 783.6,879.9 782.4,884.9 784.9,889.9 786.1,894.9 789.9,893.6 793.6,892.4 797.4,894.9 798.6,899.9 797.4,906.1 793.6,911.1 792.9,914.9 796.1,919.9 799.9,923.6 803.6,925.3 808.6,924.3 813.6,923.6 818.6,922.8 823.6,925.3 828.6,927.3 833.6,929.8 837.9,932.3 842.4,929.8 842.9,924.8 842.4,919.9 846.1,917.4 847.4,912.4 844.9,907.4 843.6,902.4 839.9,899.4 842.4,894.9 847.4,892.4 851.1,894.9 854.8,897.9 859.8,898.6 864.8,896.1 869.8,892.4 876.1,892.4 878.6,896.1 882.3,899.9 884.8,902.9 889.8,899.9 893.6,902.4 897.3,906.1 901.1,908.6 904.8,911.1 908.6,909.9 911.1,911.1 911.1,917.4 910.3,923.6 912.3,929.8 914.8,936.1 916.1,942.3 916.8,948.6 918.5,953.6 922.3,954.3 926.0,951.1 928.5,946.1 931.0,942.3 929.8,937.3 931.0,932.3 936.0,929.8 939.8,931.1 939.3,936.1 939.8,939.8 944.8,938.6"/>
<polyline stroke="#000" stroke-width="3.4" points="915.8,949.9 917.4,953.2 919.9,954.6 923.2,953.2 924.9,949.9 926.6,947.4 929.9,945.7 932.4,944.1 931.2,939.9 929.9,935.7 929.6,931.6 932.4,932.4 934.9,930.2 937.9,929.9 940.2,931.9 939.6,934.9 937.4,936.6 937.9,939.6 940.7,938.6 944.1,937.4 946.6,939.1 947.9,942.4 949.9,944.9 953.2,946.9 955.7,948.2 958.2,949.9 959.9,947.4 961.5,945.2 964.9,944.6 967.4,944.1 969.0,946.6 970.7,949.1 972.4,953.2 974.0,950.7 974.9,948.2 978.2,947.9 982.4,946.9 985.7,945.7 989.0,944.6 992.4,946.2 995.7,947.9 999.0,948.6 1001.5,948.2 1003.2,949.9 1004.0,952.4 1007.3,952.9 1009.8,951.6 1011.5,951.2"/>
<polyline stroke="#000" stroke-width="3.4" points="83.7,365.0 90.0,357.5 93.7,353.7 96.2,360.0 102.5,361.2 108.7,361.2 113.7,362.0 116.2,367.5 120.5,370.0 117.5,373.0 113.7,375.0 111.2,378.7 110.5,385.0 111.2,391.2 112.0,396.9 109.5,397.9 106.2,394.5 103.7,393.7 101.2,396.9 102.0,401.2 100.0,404.9 98.7,409.9 94.5,411.9 92.5,414.9 95.5,417.9 96.2,421.9 100.0,426.2 97.5,429.9 94.5,433.7 92.5,438.7 91.2,444.9 90.5,451.2 88.7,456.2 83.7,460.4"/>
<polyline stroke="#000" stroke-width="3.4" points="83.7,474.1 91.2,476.1 97.5,477.9 103.0,479.4 106.2,484.9 110.0,491.1 113.7,494.9 116.2,501.1 116.2,507.4 114.5,513.6 111.2,519.9 108.0,526.1 104.5,529.4 105.0,534.8 107.0,541.1 110.5,543.6 111.2,548.6 112.5,553.6 110.0,559.8 107.5,564.8 105.5,567.8 108.0,570.3 111.2,569.3 115.0,570.3 118.7,571.8 122.5,571.1 126.2,572.3 130.0,571.1 133.7,571.8 136.2,568.6 138.7,566.1 142.5,564.3 148.7,564.1 154.9,564.3 158.7,567.3 161.2,571.1 164.9,576.1 169.9,578.6 174.9,581.1 179.9,583.6 184.9,586.1 189.9,584.8 193.7,585.3 196.2,589.8 199.4,594.8 202.4,600.0"/>
<polyline stroke="#000" stroke-width="3.4" points="199.5,597.0 201.2,600.0 205.0,606.2 204.5,611.2 208.7,613.7 212.5,616.2 215.0,612.0 218.0,612.5 220.0,618.7 220.5,625.5 226.2,625.0 232.5,625.5 237.0,627.4 242.5,626.9 249.9,627.9 254.9,625.5 258.7,623.7 262.4,627.4 266.2,632.4 271.2,636.2 276.2,641.2 279.9,644.9 282.4,647.9 277.4,651.2 274.4,656.2 272.4,661.2 273.7,666.2 275.4,671.2 279.9,669.9 284.9,668.7 286.9,664.9 287.4,660.4 292.4,662.4 298.7,664.9 304.9,667.9 309.9,672.4 314.9,677.4 318.6,682.4 319.9,688.7 321.9,696.1 326.9,697.4 326.1,703.6 322.9,704.9 324.9,708.6 328.6,712.4 331.1,716.1 331.1,721.1 328.6,723.6 324.9,725.4 328.6,728.6 331.1,732.4 332.4,736.9 336.1,733.6 338.6,731.9 344.9,731.6 351.1,730.4 357.4,728.1 361.1,724.9 364.4,719.9 368.6,718.9 373.6,719.9 378.6,721.9 381.1,724.9 382.8,728.6 384.8,732.4 386.8,727.4 387.8,722.4 388.6,717.4 391.8,713.6 394.8,709.4 398.6,706.9 403.6,705.4 408.6,707.4 413.6,708.6 417.3,711.1 421.1,712.4 426.1,711.1 429.8,710.4 433.6,712.9 437.3,711.1 438.6,706.1 439.8,701.9 444.8,699.9 449.8,702.9 454.8,706.1 459.8,709.4 463.5,711.1"/>
</g>
<circle cx="731.9" cy="386.7" r="5.2" fill="#f00" stroke="#000" stroke-width="0.8"/>
</g>
<rect x="85.5" y="45.5" width="925" height="1001" fill="none" stroke="#000" stroke-width="1.1"/>
<rect x="97.5" y="53.6" width="218.2" height="49.6" fill="#fff" stroke="#000" stroke-width="1.2"/>
<text x="102.03" y="73.00" font-size="17.70" textLength="207.31" lengthAdjust="spacingAndGlyphs">Product: 0.8° Reflectivity</text>
<text x="102.07" y="93.00" font-size="17.70" textLength="93.58" lengthAdjust="spacingAndGlyphs">Data: DWD</text>
<text x="353.12" y="37.50" font-size="37.03" textLength="197.36" lengthAdjust="spacingAndGlyphs">08.12.2025</text>
<text x="563.83" y="37.50" font-size="37.03" textLength="98.45" lengthAdjust="spacingAndGlyphs">02:40</text>
<text x="672.75" y="37.50" font-size="37.03" textLength="70.34" lengthAdjust="spacingAndGlyphs">UTC</text>
<text x="21.06" y="167.00" font-size="17.70" textLength="56.63" lengthAdjust="spacingAndGlyphs">50.5°N</text>
<text x="10.05" y="311.30" font-size="17.70" textLength="67.68" lengthAdjust="spacingAndGlyphs">50.25°N</text>
<text x="36.87" y="455.50" font-size="17.70" textLength="40.83" lengthAdjust="spacingAndGlyphs">50°N</text>
<text x="11.09" y="598.80" font-size="17.70" textLength="66.62" lengthAdjust="spacingAndGlyphs">49.75°N</text>
<text x="21.39" y="740.80" font-size="17.70" textLength="56.30" lengthAdjust="spacingAndGlyphs">49.5°N</text>
<text x="11.09" y="882.70" font-size="17.70" textLength="66.62" lengthAdjust="spacingAndGlyphs">49.25°N</text>
<text x="37.19" y="1024.00" font-size="17.70" textLength="40.49" lengthAdjust="spacingAndGlyphs">49°N</text>
<text x="145.01" y="1067.20" font-size="17.70" textLength="28.04" lengthAdjust="spacingAndGlyphs">5°E</text>
<text x="321.78" y="1067.20" font-size="17.70" textLength="44.38" lengthAdjust="spacingAndGlyphs">5.5°E</text>
<text x="515.03" y="1067.20" font-size="17.70" textLength="28.32" lengthAdjust="spacingAndGlyphs">6°E</text>
<text x="691.40" y="1067.20" font-size="17.70" textLength="44.47" lengthAdjust="spacingAndGlyphs">6.5°E</text>
<text x="884.82" y="1067.20" font-size="17.70" textLength="28.64" lengthAdjust="spacingAndGlyphs">7°E</text>
<g shape-rendering="crispEdges">
<rect x="1068.5" y="963.36" width="45" height="32.64" fill="#6577A8"/>
<rect x="1068.5" y="931.21" width="45" height="32.64" fill="#526AA5"/>
<rect x="1068.5" y="899.07" width="45" height="32.64" fill="#4360A3"/>
<rect x="1068.5" y="866.93" width="45" height="32.64" fill="#4B7DB5"/>
<rect x="1068.5" y="834.79" width="45" height="32.64" fill="#599DC7"/>
<rect x="1068.5" y="802.64" width="45" height="32.64" fill="#67C0DB"/>
<rect x="1068.5" y="770.50" width="45" height="32.64" fill="#63D6C2"/>
<rect x="1068.5" y="738.36" width="45" height="32.64" fill="#3DD56F"/>
<rect x="1068.5" y="706.21" width="45" height="32.64" fill="#11C61B"/>
<rect x="1068.5" y="674.07" width="45" height="32.64" fill="#11B71A"/>
<rect x="1068.5" y="641.93" width="45" height="32.64" fill="#10A519"/>
<rect x="1068.5" y="609.79" width="45" height="32.64" fill="#0F9118"/>
<rect x="1068.5" y="577.64" width="45" height="32.64" fill="#0C7A12"/>
<rect x="1068.5" y="545.50" width="45" height="32.64" fill="#09660F"/>
<rect x="1068.5" y="513.36" width="45" height="32.64" fill="#437C0A"/>
<rect x="1068.5" y="481.21" width="45" height="32.64" fill="#AEB10A"/>
<rect x="1068.5" y="449.07" width="45" height="32.64" fill="#FFD800"/>
<rect x="1068.5" y="416.93" width="45" height="32.64" fill="#FFB700"/>
<rect x="1068.5" y="384.79" width="45" height="32.64" fill="#FF9B00"/>
<rect x="1068.5" y="352.64" width="45" height="32.64" fill="#FF8000"/>
<rect x="1068.5" y="320.50" width="45" height="32.64" fill="#E20000"/>
<rect x="1068.5" y="288.36" width="45" height="32.64" fill="#BF0000"/>
<rect x="1068.5" y="256.21" width="45" height="32.64" fill="#9E0000"/>
<rect x="1068.5" y="224.07" width="45" height="32.64" fill="#7D0000"/>
<rect x="1068.5" y="191.93" width="45" height="32.64" fill="#FFE0FF"/>
<rect x="1068.5" y="159.79" width="45" height="32.64" fill="#FFB0FF"/>
<rect x="1068.5" y="127.64" width="45" height="32.64" fill="#FF68FF"/>
<rect x="1068.5" y="95.50" width="45" height="32.64" fill="#EB36EB"/>
</g>
<rect x="1068.5" y="95.5" width="45" height="900" fill="none" stroke="#000" stroke-width="1.1"/>
<line x1="1113.5" y1="995.50" x2="1118.2" y2="995.50" stroke="#000" stroke-width="1.1"/>
<text x="1124.36" y="1005.80" font-size="29.68" textLength="17.24" lengthAdjust="spacingAndGlyphs">0</text>
<line x1="1113.5" y1="866.93" x2="1118.2" y2="866.93" stroke="#000" stroke-width="1.1"/>
<text x="1122.16" y="877.23" font-size="29.68" textLength="34.68" lengthAdjust="spacingAndGlyphs">10</text>
<line x1="1113.5" y1="738.36" x2="1118.2" y2="738.36" stroke="#000" stroke-width="1.1"/>
<text x="1122.98" y="748.66" font-size="29.68" textLength="33.83" lengthAdjust="spacingAndGlyphs">20</text>
<line x1="1113.5" y1="609.79" x2="1118.2" y2="609.79" stroke="#000" stroke-width="1.1"/>
<text x="1123.37" y="620.09" font-size="29.68" textLength="33.42" lengthAdjust="spacingAndGlyphs">30</text>
<line x1="1113.5" y1="481.21" x2="1118.2" y2="481.21" stroke="#000" stroke-width="1.1"/>
<text x="1123.83" y="491.51" font-size="29.68" textLength="32.95" lengthAdjust="spacingAndGlyphs">40</text>
<line x1="1113.5" y1="352.64" x2="1118.2" y2="352.64" stroke="#000" stroke-width="1.1"/>
<text x="1123.30" y="362.94" font-size="29.68" textLength="33.50" lengthAdjust="spacingAndGlyphs">50</text>
<line x1="1113.5" y1="224.07" x2="1118.2" y2="224.07" stroke="#000" stroke-width="1.1"/>
<text x="1122.98" y="234.37" font-size="29.68" textLength="33.83" lengthAdjust="spacingAndGlyphs">60</text>
<line x1="1113.5" y1="95.50" x2="1118.2" y2="95.50" stroke="#000" stroke-width="1.1"/>
<text x="1123.51" y="105.80" font-size="29.68" textLength="33.18" lengthAdjust="spacingAndGlyphs">70</text>
<g transform="translate(1187.3,573.9) rotate(-90)"><text x="-1.25" y="0.00" font-size="29.39" textLength="53.98" lengthAdjust="spacingAndGlyphs">dBZ</text>
</g>
</svg>
</body></html>
